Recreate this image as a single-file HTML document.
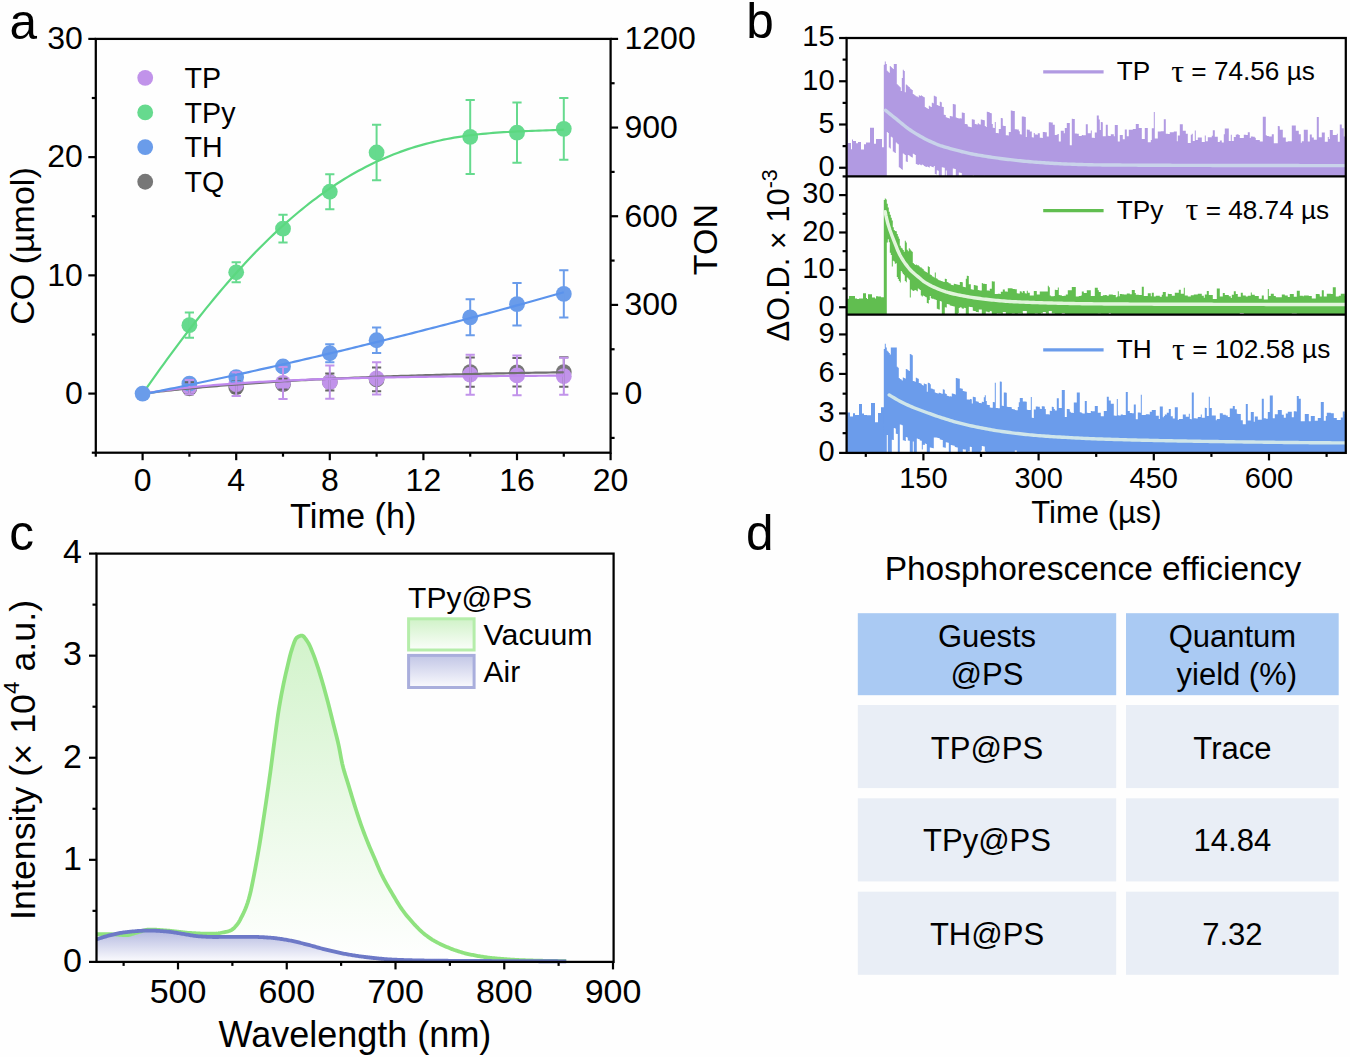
<!DOCTYPE html>
<html><head><meta charset="utf-8"><style>
html,body{margin:0;padding:0;background:#fefefe;}
svg{display:block;}
text{font-family:"Liberation Sans", sans-serif;fill:#000;}
</style></head><body>
<svg width="1350" height="1057" viewBox="0 0 1350 1057">
<rect width="1350" height="1057" fill="#fefefe"/>
<g id="pa">
<circle cx="189.4" cy="388.27" r="7.9" fill="#777777"/>
<circle cx="236.2" cy="387.08" r="7.9" fill="#777777"/>
<circle cx="283" cy="384.13" r="7.9" fill="#777777"/>
<circle cx="329.8" cy="382" r="7.9" fill="#777777"/>
<circle cx="376.6" cy="379.4" r="7.9" fill="#777777"/>
<circle cx="470.2" cy="372.07" r="7.9" fill="#777777"/>
<circle cx="517" cy="372.3" r="7.9" fill="#777777"/>
<circle cx="563.8" cy="372.07" r="7.9" fill="#777777"/>
<circle cx="189.4" cy="387.08" r="7.9" fill="#C193EA"/>
<circle cx="236.2" cy="384.13" r="7.9" fill="#C193EA"/>
<circle cx="283" cy="382.95" r="7.9" fill="#C193EA"/>
<circle cx="329.8" cy="382.12" r="7.9" fill="#C193EA"/>
<circle cx="376.6" cy="378.45" r="7.9" fill="#C193EA"/>
<circle cx="470.2" cy="374.67" r="7.9" fill="#C193EA"/>
<circle cx="517" cy="375.38" r="7.9" fill="#C193EA"/>
<circle cx="563.8" cy="376.21" r="7.9" fill="#C193EA"/>
<circle cx="189.4" cy="383.65" r="7.9" fill="#6A9CEA"/>
<circle cx="236.2" cy="377.03" r="7.9" fill="#6A9CEA"/>
<circle cx="283" cy="366.51" r="7.9" fill="#6A9CEA"/>
<circle cx="329.8" cy="353.27" r="7.9" fill="#6A9CEA"/>
<circle cx="376.6" cy="340.26" r="7.9" fill="#6A9CEA"/>
<circle cx="470.2" cy="317.33" r="7.9" fill="#6A9CEA"/>
<circle cx="517" cy="304.2" r="7.9" fill="#6A9CEA"/>
<circle cx="563.8" cy="293.92" r="7.9" fill="#6A9CEA"/>
<circle cx="189.4" cy="325.13" r="7.9" fill="#66DA8E"/>
<circle cx="236.2" cy="272.28" r="7.9" fill="#66DA8E"/>
<circle cx="283" cy="228.66" r="7.9" fill="#66DA8E"/>
<circle cx="329.8" cy="191.77" r="7.9" fill="#66DA8E"/>
<circle cx="376.6" cy="152.52" r="7.9" fill="#66DA8E"/>
<circle cx="470.2" cy="136.91" r="7.9" fill="#66DA8E"/>
<circle cx="517" cy="132.66" r="7.9" fill="#66DA8E"/>
<circle cx="563.8" cy="128.87" r="7.9" fill="#66DA8E"/>
<path d="M189.4,382.35 V394.18 M184.8,382.35 H194 M184.8,394.18 H194" stroke="#666" stroke-width="2" fill="none"/>
<path d="M236.2,381.17 V392.99 M231.6,381.17 H240.8 M231.6,392.99 H240.8" stroke="#666" stroke-width="2" fill="none"/>
<path d="M283,378.81 V389.45 M278.4,378.81 H287.6 M278.4,389.45 H287.6" stroke="#666" stroke-width="2" fill="none"/>
<path d="M329.8,373.49 V390.51 M325.2,373.49 H334.4 M325.2,390.51 H334.4" stroke="#666" stroke-width="2" fill="none"/>
<path d="M376.6,367.58 V391.22 M372,367.58 H381.2 M372,391.22 H381.2" stroke="#666" stroke-width="2" fill="none"/>
<path d="M470.2,357.41 V386.73 M465.6,357.41 H474.8 M465.6,386.73 H474.8" stroke="#666" stroke-width="2" fill="none"/>
<path d="M517,358.12 V386.49 M512.4,358.12 H521.6 M512.4,386.49 H521.6" stroke="#666" stroke-width="2" fill="none"/>
<path d="M563.8,357.29 V386.85 M559.2,357.29 H568.4 M559.2,386.85 H568.4" stroke="#666" stroke-width="2" fill="none"/>
<path d="M189.4,379.52 V387.79 M184.8,379.52 H194 M184.8,387.79 H194" stroke="#6A9CEA" stroke-width="2" fill="none"/>
<path d="M236.2,372.3 V381.76 M231.6,372.3 H240.8 M231.6,381.76 H240.8" stroke="#6A9CEA" stroke-width="2" fill="none"/>
<path d="M283,361.19 V371.83 M278.4,361.19 H287.6 M278.4,371.83 H287.6" stroke="#6A9CEA" stroke-width="2" fill="none"/>
<path d="M329.8,344.28 V362.26 M325.2,344.28 H334.4 M325.2,362.26 H334.4" stroke="#6A9CEA" stroke-width="2" fill="none"/>
<path d="M376.6,327.5 V353.03 M372,327.5 H381.2 M372,353.03 H381.2" stroke="#6A9CEA" stroke-width="2" fill="none"/>
<path d="M470.2,299.36 V335.3 M465.6,299.36 H474.8 M465.6,335.3 H474.8" stroke="#6A9CEA" stroke-width="2" fill="none"/>
<path d="M517,282.92 V325.49 M512.4,282.92 H521.6 M512.4,325.49 H521.6" stroke="#6A9CEA" stroke-width="2" fill="none"/>
<path d="M563.8,270.27 V317.56 M559.2,270.27 H568.4 M559.2,317.56 H568.4" stroke="#6A9CEA" stroke-width="2" fill="none"/>
<path d="M189.4,379.99 V394.18 M184.8,379.99 H194 M184.8,394.18 H194" stroke="#C193EA" stroke-width="2" fill="none"/>
<path d="M236.2,372.3 V395.95 M231.6,372.3 H240.8 M231.6,395.95 H240.8" stroke="#C193EA" stroke-width="2" fill="none"/>
<path d="M283,366.98 V398.91 M278.4,366.98 H287.6 M278.4,398.91 H287.6" stroke="#C193EA" stroke-width="2" fill="none"/>
<path d="M329.8,365.45 V398.79 M325.2,365.45 H334.4 M325.2,398.79 H334.4" stroke="#C193EA" stroke-width="2" fill="none"/>
<path d="M376.6,362.37 V394.53 M372,362.37 H381.2 M372,394.53 H381.2" stroke="#C193EA" stroke-width="2" fill="none"/>
<path d="M470.2,354.69 V394.65 M465.6,354.69 H474.8 M465.6,394.65 H474.8" stroke="#C193EA" stroke-width="2" fill="none"/>
<path d="M517,355.4 V395.36 M512.4,355.4 H521.6 M512.4,395.36 H521.6" stroke="#C193EA" stroke-width="2" fill="none"/>
<path d="M563.8,357.64 V394.77 M559.2,357.64 H568.4 M559.2,394.77 H568.4" stroke="#C193EA" stroke-width="2" fill="none"/>
<path d="M189.4,312.48 V337.78 M184.8,312.48 H194 M184.8,337.78 H194" stroke="#66DA8E" stroke-width="2" fill="none"/>
<path d="M236.2,262.23 V282.33 M231.6,262.23 H240.8 M231.6,282.33 H240.8" stroke="#66DA8E" stroke-width="2" fill="none"/>
<path d="M283,214.71 V242.61 M278.4,214.71 H287.6 M278.4,242.61 H287.6" stroke="#66DA8E" stroke-width="2" fill="none"/>
<path d="M329.8,174.27 V209.27 M325.2,174.27 H334.4 M325.2,209.27 H334.4" stroke="#66DA8E" stroke-width="2" fill="none"/>
<path d="M376.6,124.85 V180.18 M372,124.85 H381.2 M372,180.18 H381.2" stroke="#66DA8E" stroke-width="2" fill="none"/>
<path d="M470.2,99.91 V173.92 M465.6,99.91 H474.8 M465.6,173.92 H474.8" stroke="#66DA8E" stroke-width="2" fill="none"/>
<path d="M517,102.51 V162.8 M512.4,102.51 H521.6 M512.4,162.8 H521.6" stroke="#66DA8E" stroke-width="2" fill="none"/>
<path d="M563.8,97.9 V159.85 M559.2,97.9 H568.4 M559.2,159.85 H568.4" stroke="#66DA8E" stroke-width="2" fill="none"/>
<path d="M142.6,393.59 L146.14,393.16 L149.68,392.74 L153.22,392.33 L156.76,391.92 L160.3,391.52 L163.84,391.13 L167.38,390.75 L170.92,390.37 L174.46,390 L177.99,389.63 L181.53,389.28 L185.07,388.93 L188.61,388.58 L192.15,388.24 L195.69,387.91 L199.23,387.58 L202.77,387.26 L206.31,386.94 L209.85,386.63 L213.39,386.33 L216.93,386.03 L220.47,385.73 L224.01,385.45 L227.55,385.16 L231.09,384.88 L234.63,384.61 L238.17,384.34 L241.71,384.07 L245.25,383.81 L248.78,383.56 L252.32,383.31 L255.86,383.06 L259.4,382.82 L262.94,382.58 L266.48,382.35 L270.02,382.12 L273.56,381.9 L277.1,381.67 L280.64,381.46 L284.18,381.24 L287.72,381.03 L291.26,380.83 L294.8,380.62 L298.34,380.43 L301.88,380.23 L305.42,380.04 L308.96,379.85 L312.5,379.66 L316.04,379.48 L319.57,379.3 L323.11,379.13 L326.65,378.96 L330.19,378.79 L333.73,378.62 L337.27,378.46 L340.81,378.3 L344.35,378.14 L347.89,377.98 L351.43,377.83 L354.97,377.68 L358.51,377.53 L362.05,377.39 L365.59,377.25 L369.13,377.11 L372.67,376.97 L376.21,376.84 L379.75,376.71 L383.29,376.58 L386.83,376.45 L390.36,376.32 L393.9,376.2 L397.44,376.08 L400.98,375.96 L404.52,375.84 L408.06,375.73 L411.6,375.62 L415.14,375.51 L418.68,375.4 L422.22,375.29 L425.76,375.19 L429.3,375.08 L432.84,374.98 L436.38,374.88 L439.92,374.78 L443.46,374.69 L447,374.59 L450.54,374.5 L454.08,374.41 L457.62,374.32 L461.15,374.23 L464.69,374.15 L468.23,374.06 L471.77,373.98 L475.31,373.9 L478.85,373.82 L482.39,373.74 L485.93,373.66 L489.47,373.59 L493.01,373.51 L496.55,373.44 L500.09,373.37 L503.63,373.3 L507.17,373.23 L510.71,373.16 L514.25,373.09 L517.79,373.02 L521.33,372.96 L524.87,372.9 L528.41,372.83 L531.94,372.77 L535.48,372.71 L539.02,372.65 L542.56,372.59 L546.1,372.54 L549.64,372.48 L553.18,372.42 L556.72,372.37 L560.26,372.32 L563.8,372.26" fill="none" stroke="#707070" stroke-width="2.2" stroke-linejoin="round"/>
<path d="M142.6,393.59 L146.14,393.04 L149.68,392.5 L153.22,391.99 L156.76,391.48 L160.3,391 L163.84,390.52 L167.38,390.07 L170.92,389.62 L174.46,389.19 L177.99,388.77 L181.53,388.36 L185.07,387.97 L188.61,387.59 L192.15,387.22 L195.69,386.86 L199.23,386.51 L202.77,386.17 L206.31,385.84 L209.85,385.52 L213.39,385.21 L216.93,384.91 L220.47,384.62 L224.01,384.34 L227.55,384.07 L231.09,383.8 L234.63,383.54 L238.17,383.29 L241.71,383.05 L245.25,382.81 L248.78,382.58 L252.32,382.36 L255.86,382.15 L259.4,381.94 L262.94,381.74 L266.48,381.54 L270.02,381.35 L273.56,381.16 L277.1,380.98 L280.64,380.81 L284.18,380.64 L287.72,380.48 L291.26,380.32 L294.8,380.16 L298.34,380.01 L301.88,379.87 L305.42,379.73 L308.96,379.59 L312.5,379.46 L316.04,379.33 L319.57,379.21 L323.11,379.08 L326.65,378.97 L330.19,378.85 L333.73,378.74 L337.27,378.64 L340.81,378.53 L344.35,378.43 L347.89,378.33 L351.43,378.24 L354.97,378.15 L358.51,378.06 L362.05,377.97 L365.59,377.88 L369.13,377.8 L372.67,377.72 L376.21,377.65 L379.75,377.57 L383.29,377.5 L386.83,377.43 L390.36,377.36 L393.9,377.29 L397.44,377.23 L400.98,377.17 L404.52,377.11 L408.06,377.05 L411.6,376.99 L415.14,376.94 L418.68,376.88 L422.22,376.83 L425.76,376.78 L429.3,376.73 L432.84,376.69 L436.38,376.64 L439.92,376.59 L443.46,376.55 L447,376.51 L450.54,376.47 L454.08,376.43 L457.62,376.39 L461.15,376.35 L464.69,376.32 L468.23,376.28 L471.77,376.25 L475.31,376.22 L478.85,376.18 L482.39,376.15 L485.93,376.12 L489.47,376.09 L493.01,376.06 L496.55,376.04 L500.09,376.01 L503.63,375.98 L507.17,375.96 L510.71,375.94 L514.25,375.91 L517.79,375.89 L521.33,375.87 L524.87,375.84 L528.41,375.82 L531.94,375.8 L535.48,375.78 L539.02,375.76 L542.56,375.75 L546.1,375.73 L549.64,375.71 L553.18,375.69 L556.72,375.68 L560.26,375.66 L563.8,375.65" fill="none" stroke="#C089EE" stroke-width="2.2" stroke-linejoin="round"/>
<path d="M142.6,394.45 L146.14,393.74 L149.68,393.03 L153.22,392.32 L156.76,391.6 L160.3,390.88 L163.84,390.16 L167.38,389.43 L170.92,388.7 L174.46,387.97 L177.99,387.24 L181.53,386.51 L185.07,385.77 L188.61,385.03 L192.15,384.28 L195.69,383.54 L199.23,382.79 L202.77,382.04 L206.31,381.29 L209.85,380.53 L213.39,379.78 L216.93,379.02 L220.47,378.25 L224.01,377.49 L227.55,376.72 L231.09,375.95 L234.63,375.18 L238.17,374.4 L241.71,373.62 L245.25,372.84 L248.78,372.06 L252.32,371.27 L255.86,370.49 L259.4,369.69 L262.94,368.9 L266.48,368.11 L270.02,367.31 L273.56,366.51 L277.1,365.7 L280.64,364.9 L284.18,364.09 L287.72,363.28 L291.26,362.47 L294.8,361.65 L298.34,360.83 L301.88,360.01 L305.42,359.19 L308.96,358.36 L312.5,357.53 L316.04,356.7 L319.57,355.87 L323.11,355.03 L326.65,354.19 L330.19,353.35 L333.73,352.51 L337.27,351.66 L340.81,350.82 L344.35,349.96 L347.89,349.11 L351.43,348.25 L354.97,347.4 L358.51,346.53 L362.05,345.67 L365.59,344.8 L369.13,343.94 L372.67,343.06 L376.21,342.19 L379.75,341.31 L383.29,340.44 L386.83,339.55 L390.36,338.67 L393.9,337.78 L397.44,336.9 L400.98,336 L404.52,335.11 L408.06,334.21 L411.6,333.31 L415.14,332.41 L418.68,331.51 L422.22,330.6 L425.76,329.69 L429.3,328.78 L432.84,327.87 L436.38,326.95 L439.92,326.03 L443.46,325.11 L447,324.19 L450.54,323.26 L454.08,322.33 L457.62,321.4 L461.15,320.46 L464.69,319.53 L468.23,318.59 L471.77,317.65 L475.31,316.7 L478.85,315.75 L482.39,314.8 L485.93,313.85 L489.47,312.9 L493.01,311.94 L496.55,310.98 L500.09,310.02 L503.63,309.06 L507.17,308.09 L510.71,307.12 L514.25,306.15 L517.79,305.17 L521.33,304.19 L524.87,303.21 L528.41,302.23 L531.94,301.25 L535.48,300.26 L539.02,299.27 L542.56,298.28 L546.1,297.28 L549.64,296.29 L553.18,295.29 L556.72,294.28 L560.26,293.28 L563.8,292.27" fill="none" stroke="#5B93EC" stroke-width="2.2" stroke-linejoin="round"/>
<path d="M142.6,393.59 L146.14,388.55 L149.68,383.53 L153.22,378.55 L156.76,373.6 L160.3,368.68 L163.84,363.79 L167.38,358.94 L170.92,354.13 L174.46,349.35 L177.99,344.6 L181.53,339.9 L185.07,335.24 L188.61,330.62 L192.15,326.04 L195.69,321.51 L199.23,317.02 L202.77,312.57 L206.31,308.17 L209.85,303.82 L213.39,299.51 L216.93,295.26 L220.47,291.05 L224.01,286.9 L227.55,282.79 L231.09,278.74 L234.63,274.74 L238.17,270.79 L241.71,266.89 L245.25,263.05 L248.78,259.27 L252.32,255.54 L255.86,251.86 L259.4,248.25 L262.94,244.68 L266.48,241.18 L270.02,237.73 L273.56,234.34 L277.1,231.01 L280.64,227.74 L284.18,224.53 L287.72,221.38 L291.26,218.28 L294.8,215.25 L298.34,212.27 L301.88,209.36 L305.42,206.5 L308.96,203.7 L312.5,200.97 L316.04,198.29 L319.57,195.68 L323.11,193.12 L326.65,190.62 L330.19,188.19 L333.73,185.81 L337.27,183.49 L340.81,181.24 L344.35,179.04 L347.89,176.9 L351.43,174.82 L354.97,172.8 L358.51,170.83 L362.05,168.92 L365.59,167.07 L369.13,165.28 L372.67,163.54 L376.21,161.86 L379.75,160.24 L383.29,158.67 L386.83,157.15 L390.36,155.69 L393.9,154.28 L397.44,152.92 L400.98,151.61 L404.52,150.36 L408.06,149.16 L411.6,148 L415.14,146.9 L418.68,145.84 L422.22,144.83 L425.76,143.86 L429.3,142.94 L432.84,142.07 L436.38,141.24 L439.92,140.45 L443.46,139.7 L447,138.99 L450.54,138.32 L454.08,137.69 L457.62,137.1 L461.15,136.54 L464.69,136.02 L468.23,135.53 L471.77,135.08 L475.31,134.65 L478.85,134.25 L482.39,133.89 L485.93,133.55 L489.47,133.23 L493.01,132.94 L496.55,132.67 L500.09,132.42 L503.63,132.19 L507.17,131.98 L510.71,131.79 L514.25,131.61 L517.79,131.45 L521.33,131.29 L524.87,131.15 L528.41,131.01 L531.94,130.88 L535.48,130.76 L539.02,130.64 L542.56,130.52 L546.1,130.4 L549.64,130.27 L553.18,130.15 L556.72,130.01 L560.26,129.87 L563.8,129.71" fill="none" stroke="#5CD880" stroke-width="2.2" stroke-linejoin="round"/>
<circle cx="142.6" cy="393.59" r="7.9" fill="#6A9CEA"/>
<rect x="95.8" y="38.9" width="514.8" height="413.8" fill="none" stroke="#000" stroke-width="2.25"/>
<line x1="95.8" y1="452.7" x2="95.8" y2="456.7" stroke="#000" stroke-width="2.2"/>
<line x1="142.6" y1="452.7" x2="142.6" y2="460.2" stroke="#000" stroke-width="2.2"/>
<line x1="189.4" y1="452.7" x2="189.4" y2="456.7" stroke="#000" stroke-width="2.2"/>
<line x1="236.2" y1="452.7" x2="236.2" y2="460.2" stroke="#000" stroke-width="2.2"/>
<line x1="283" y1="452.7" x2="283" y2="456.7" stroke="#000" stroke-width="2.2"/>
<line x1="329.8" y1="452.7" x2="329.8" y2="460.2" stroke="#000" stroke-width="2.2"/>
<line x1="376.6" y1="452.7" x2="376.6" y2="456.7" stroke="#000" stroke-width="2.2"/>
<line x1="423.4" y1="452.7" x2="423.4" y2="460.2" stroke="#000" stroke-width="2.2"/>
<line x1="470.2" y1="452.7" x2="470.2" y2="456.7" stroke="#000" stroke-width="2.2"/>
<line x1="517" y1="452.7" x2="517" y2="460.2" stroke="#000" stroke-width="2.2"/>
<line x1="563.8" y1="452.7" x2="563.8" y2="456.7" stroke="#000" stroke-width="2.2"/>
<line x1="610.6" y1="452.7" x2="610.6" y2="460.2" stroke="#000" stroke-width="2.2"/>
<text x="142.6" y="490.8" font-size="32" text-anchor="middle">0</text>
<text x="236.2" y="490.8" font-size="32" text-anchor="middle">4</text>
<text x="329.8" y="490.8" font-size="32" text-anchor="middle">8</text>
<text x="423.4" y="490.8" font-size="32" text-anchor="middle">12</text>
<text x="517" y="490.8" font-size="32" text-anchor="middle">16</text>
<text x="610.6" y="490.8" font-size="32" text-anchor="middle">20</text>
<line x1="95.8" y1="452.7" x2="91.8" y2="452.7" stroke="#000" stroke-width="2.2"/>
<line x1="95.8" y1="393.59" x2="88.3" y2="393.59" stroke="#000" stroke-width="2.2"/>
<line x1="95.8" y1="334.47" x2="91.8" y2="334.47" stroke="#000" stroke-width="2.2"/>
<line x1="95.8" y1="275.36" x2="88.3" y2="275.36" stroke="#000" stroke-width="2.2"/>
<line x1="95.8" y1="216.24" x2="91.8" y2="216.24" stroke="#000" stroke-width="2.2"/>
<line x1="95.8" y1="157.13" x2="88.3" y2="157.13" stroke="#000" stroke-width="2.2"/>
<line x1="95.8" y1="98.01" x2="91.8" y2="98.01" stroke="#000" stroke-width="2.2"/>
<line x1="95.8" y1="38.9" x2="88.3" y2="38.9" stroke="#000" stroke-width="2.2"/>
<text x="82.9" y="403.89" font-size="32" text-anchor="end">0</text>
<text x="82.9" y="285.66" font-size="32" text-anchor="end">10</text>
<text x="82.9" y="167.43" font-size="32" text-anchor="end">20</text>
<text x="82.9" y="49.2" font-size="32" text-anchor="end">30</text>
<line x1="610.6" y1="437.92" x2="614.6" y2="437.92" stroke="#000" stroke-width="2.2"/>
<line x1="610.6" y1="393.59" x2="618.1" y2="393.59" stroke="#000" stroke-width="2.2"/>
<line x1="610.6" y1="349.25" x2="614.6" y2="349.25" stroke="#000" stroke-width="2.2"/>
<line x1="610.6" y1="304.91" x2="618.1" y2="304.91" stroke="#000" stroke-width="2.2"/>
<line x1="610.6" y1="260.58" x2="614.6" y2="260.58" stroke="#000" stroke-width="2.2"/>
<line x1="610.6" y1="216.24" x2="618.1" y2="216.24" stroke="#000" stroke-width="2.2"/>
<line x1="610.6" y1="171.91" x2="614.6" y2="171.91" stroke="#000" stroke-width="2.2"/>
<line x1="610.6" y1="127.57" x2="618.1" y2="127.57" stroke="#000" stroke-width="2.2"/>
<line x1="610.6" y1="83.24" x2="614.6" y2="83.24" stroke="#000" stroke-width="2.2"/>
<line x1="610.6" y1="38.9" x2="618.1" y2="38.9" stroke="#000" stroke-width="2.2"/>
<text x="624.5" y="403.89" font-size="32" text-anchor="start">0</text>
<text x="624.5" y="315.21" font-size="32" text-anchor="start">300</text>
<text x="624.5" y="226.54" font-size="32" text-anchor="start">600</text>
<text x="624.5" y="137.87" font-size="32" text-anchor="start">900</text>
<text x="624.5" y="49.2" font-size="32" text-anchor="start">1200</text>
<text x="290.1" y="528.1" font-size="34.3" text-anchor="start">Time (h)</text>
<text transform="translate(33.8,246) rotate(-90)" font-size="34" text-anchor="middle">CO (µmol)</text>
<text transform="translate(717.4,239.6) rotate(-90)" font-size="34" text-anchor="middle">TON</text>
<circle cx="145.2" cy="77.8" r="7.9" fill="#C193EA"/>
<text x="184.6" y="88.1" font-size="28.6" text-anchor="start">TP</text>
<circle cx="145.2" cy="112.45" r="7.9" fill="#66DA8E"/>
<text x="184.6" y="122.75" font-size="28.6" text-anchor="start">TPy</text>
<circle cx="145.2" cy="147.1" r="7.9" fill="#6A9CEA"/>
<text x="184.6" y="157.4" font-size="28.6" text-anchor="start">TH</text>
<circle cx="145.2" cy="181.75" r="7.9" fill="#777777"/>
<text x="184.6" y="192.05" font-size="28.6" text-anchor="start">TQ</text>
</g>
<text x="9.5" y="38.9" font-size="49.5" text-anchor="start">a</text>
<text x="746.2" y="38.1" font-size="49.5" text-anchor="start">b</text>
<text x="9.2" y="550.3" font-size="49.5" text-anchor="start">c</text>
<text x="746" y="550.2" font-size="49.5" text-anchor="start">d</text>
<defs>
<clipPath id="cb0"><rect x="846.6" y="38.0" width="499.2" height="138.4"/></clipPath>
<clipPath id="cb1"><rect x="846.6" y="176.4" width="499.2" height="138.3"/></clipPath>
<clipPath id="cb2"><rect x="846.6" y="314.7" width="499.2" height="138.2"/></clipPath>
</defs>
<g clip-path="url(#cb0)">
<path d="M846.0,137.9 L847.0,137.9 L847.0,128.7 L848.0,128.7 L848.0,142.9 L849.0,142.9 L849.0,142.9 L850.0,142.9 L850.0,142.9 L851.0,142.9 L851.0,149.2 L852.0,149.2 L852.0,139.4 L853.0,139.4 L853.0,141.0 L854.0,141.0 L854.0,141.0 L855.0,141.0 L855.0,141.0 L856.0,141.0 L856.0,143.2 L857.0,143.2 L857.0,143.2 L858.0,143.2 L858.0,142.1 L859.0,142.1 L859.0,142.1 L860.0,142.1 L860.0,142.1 L861.0,142.1 L861.0,149.4 L862.0,149.4 L862.0,149.4 L863.0,149.4 L863.0,149.4 L864.0,149.4 L864.0,144.3 L865.0,144.3 L865.0,144.3 L866.0,144.3 L866.0,142.5 L867.0,142.5 L867.0,142.5 L868.0,142.5 L868.0,142.5 L869.0,142.5 L869.0,142.5 L870.0,142.5 L870.0,127.7 L871.0,127.7 L871.0,127.7 L872.0,127.7 L872.0,127.7 L873.0,127.7 L873.0,127.7 L874.0,127.7 L874.0,143.7 L875.0,143.7 L875.0,143.7 L876.0,143.7 L876.0,139.0 L877.0,139.0 L877.0,139.0 L878.0,139.0 L878.0,138.9 L879.0,138.9 L879.0,138.9 L880.0,138.9 L880.0,138.9 L881.0,138.9 L881.0,138.9 L882.0,138.9 L882.0,147.2 L883.0,147.2 L883.0,147.2 L884.0,147.2 L884.0,204.3 L883.0,204.3 L883.0,204.3 L882.0,204.3 L882.0,227.0 L881.0,227.0 L881.0,227.0 L880.0,227.0 L880.0,202.0 L879.0,202.0 L879.0,202.0 L878.0,202.0 L878.0,202.0 L877.0,202.0 L877.0,220.5 L876.0,220.5 L876.0,220.5 L875.0,220.5 L875.0,216.3 L874.0,216.3 L874.0,216.3 L873.0,216.3 L873.0,216.3 L872.0,216.3 L872.0,216.3 L871.0,216.3 L871.0,238.5 L870.0,238.5 L870.0,238.5 L869.0,238.5 L869.0,210.7 L868.0,210.7 L868.0,210.7 L867.0,210.7 L867.0,210.7 L866.0,210.7 L866.0,232.8 L865.0,232.8 L865.0,232.8 L864.0,232.8 L864.0,203.0 L863.0,203.0 L863.0,203.0 L862.0,203.0 L862.0,203.0 L861.0,203.0 L861.0,203.0 L860.0,203.0 L860.0,218.5 L859.0,218.5 L859.0,217.7 L858.0,217.7 L858.0,217.7 L857.0,217.7 L857.0,211.2 L856.0,211.2 L856.0,208.3 L855.0,208.3 L855.0,208.3 L854.0,208.3 L854.0,208.3 L853.0,208.3 L853.0,208.3 L852.0,208.3 L852.0,206.6 L851.0,206.6 L851.0,206.6 L850.0,206.6 L850.0,206.6 L849.0,206.6 L849.0,203.0 L848.0,203.0 L848.0,203.0 L847.0,203.0 L847.0,203.0 L846.0,203.0 Z" fill="#B19AE2"/>
<path d="M883.8,64.8 L884.8,64.8 L884.8,61.4 L885.8,61.4 L885.8,64.0 L886.8,64.0 L886.8,70.8 L887.8,70.8 L887.8,71.8 L888.8,71.8 L888.8,72.8 L889.8,72.8 L889.8,65.9 L890.8,65.9 L890.8,66.9 L891.8,66.9 L891.8,68.0 L892.8,68.0 L892.8,69.0 L893.8,69.0 L893.8,64.0 L894.8,64.0 L894.8,64.0 L895.8,64.0 L895.8,64.0 L896.8,64.0 L896.8,84.3 L897.8,84.3 L897.8,85.3 L898.8,85.3 L898.8,86.3 L899.8,86.3 L899.8,87.3 L900.8,87.3 L900.8,91.1 L901.8,91.1 L901.8,78.1 L902.8,78.1 L902.8,69.8 L903.8,69.8 L903.8,70.9 L904.8,70.9 L904.8,92.2 L905.8,92.2 L905.8,84.4 L906.8,84.4 L906.8,85.3 L907.8,85.3 L907.8,86.2 L908.8,86.2 L908.8,87.1 L909.8,87.1 L909.8,88.4 L910.8,88.4 L910.8,89.2 L911.8,89.2 L911.8,90.0 L912.8,90.0 L912.8,94.0 L913.8,94.0 L913.8,94.8 L914.8,94.8 L914.8,95.5 L915.8,95.5 L915.8,96.3 L916.8,96.3 L916.8,96.6 L917.8,96.6 L917.8,97.3 L918.8,97.3 L918.8,95.3 L919.8,95.3 L919.8,96.0 L920.8,96.0 L920.8,95.3 L921.8,95.3 L921.8,96.0 L922.8,96.0 L922.8,96.7 L923.8,96.7 L923.8,97.3 L924.8,97.3 L924.8,107.1 L925.8,107.1 L925.8,107.7 L926.8,107.7 L926.8,108.3 L927.8,108.3 L927.8,109.1 L928.8,109.1 L928.8,105.8 L929.8,105.8 L929.8,106.4 L930.8,106.4 L930.8,107.0 L931.8,107.0 L931.8,102.7 L932.8,102.7 L932.8,103.2 L933.8,103.2 L933.8,95.7 L934.8,95.7 L934.8,96.3 L935.8,96.3 L935.8,96.8 L936.8,96.8 L936.8,105.0 L937.8,105.0 L937.8,105.4 L938.8,105.4 L938.8,105.9 L939.8,105.9 L939.8,101.8 L940.8,101.8 L940.8,102.3 L941.8,102.3 L941.8,106.7 L942.8,106.7 L942.8,107.1 L943.8,107.1 L943.8,114.7 L944.8,114.7 L944.8,115.1 L945.8,115.1 L945.8,117.3 L946.8,117.3 L946.8,117.7 L947.8,117.7 L947.8,118.0 L948.8,118.0 L948.8,118.4 L949.8,118.4 L949.8,115.9 L950.8,115.9 L950.8,116.2 L951.8,116.2 L951.8,116.6 L952.8,116.6 L952.8,103.9 L953.8,103.9 L953.8,104.3 L954.8,104.3 L954.8,104.6 L955.8,104.6 L955.8,117.6 L956.8,117.6 L956.8,118.0 L957.8,118.0 L957.8,118.3 L958.8,118.3 L958.8,118.6 L959.8,118.6 L959.8,118.3 L960.8,118.3 L960.8,118.6 L961.8,118.6 L961.8,112.4 L962.8,112.4 L962.8,112.7 L963.8,112.7 L963.8,113.0 L964.8,113.0 L964.8,123.9 L965.8,123.9 L965.8,124.1 L966.8,124.1 L966.8,124.4 L967.8,124.4 L967.8,126.5 L968.8,126.5 L968.8,126.7 L969.8,126.7 L969.8,127.0 L970.8,127.0 L970.8,127.2 L971.8,127.2 L971.8,119.2 L972.8,119.2 L972.8,119.5 L973.8,119.5 L973.8,119.7 L974.8,119.7 L974.8,124.0 L975.8,124.0 L975.8,124.2 L976.8,124.2 L976.8,124.4 L977.8,124.4 L977.8,123.2 L978.8,123.2 L978.8,124.3 L979.8,124.3 L979.8,124.5 L980.8,124.5 L980.8,119.6 L981.8,119.6 L981.8,119.8 L982.8,119.8 L982.8,120.0 L983.8,120.0 L983.8,120.2 L984.8,120.2 L984.8,126.0 L985.8,126.0 L985.8,127.1 L986.8,127.1 L986.8,111.8 L987.8,111.8 L987.8,112.0 L988.8,112.0 L988.8,112.2 L989.8,112.2 L989.8,113.0 L990.8,113.0 L990.8,113.2 L991.8,113.2 L991.8,124.0 L992.8,124.0 L992.8,127.8 L993.8,127.8 L993.8,128.0 L994.8,128.0 L994.8,122.1 L995.8,122.1 L995.8,132.9 L996.8,132.9 L996.8,133.1 L997.8,133.1 L997.8,133.3 L998.8,133.3 L998.8,129.0 L999.8,129.0 L999.8,129.1 L1000.8,129.1 L1000.8,118.1 L1001.8,118.1 L1001.8,118.2 L1002.8,118.2 L1002.8,125.8 L1003.8,125.8 L1003.8,126.0 L1004.8,126.0 L1004.8,126.1 L1005.8,126.1 L1005.8,135.2 L1006.8,135.2 L1006.8,135.3 L1007.8,135.3 L1007.8,135.5 L1008.8,135.5 L1008.8,131.9 L1009.8,131.9 L1009.8,132.0 L1010.8,132.0 L1010.8,110.6 L1011.8,110.6 L1011.8,110.8 L1012.8,110.8 L1012.8,111.0 L1013.8,111.0 L1013.8,111.1 L1014.8,111.1 L1014.8,129.2 L1015.8,129.2 L1015.8,129.3 L1016.8,129.3 L1016.8,129.5 L1017.8,129.5 L1017.8,129.6 L1018.8,129.6 L1018.8,131.3 L1019.8,131.3 L1019.8,134.2 L1020.8,134.2 L1020.8,134.4 L1021.8,134.4 L1021.8,116.5 L1022.8,116.5 L1022.8,116.6 L1023.8,116.6 L1023.8,116.8 L1024.8,116.8 L1024.8,116.9 L1025.8,116.9 L1025.8,137.0 L1026.8,137.0 L1026.8,129.6 L1027.8,129.6 L1027.8,129.7 L1028.8,129.7 L1028.8,129.8 L1029.8,129.8 L1029.8,131.4 L1030.8,131.4 L1030.8,131.5 L1031.8,131.5 L1031.8,137.3 L1032.8,137.3 L1032.8,137.4 L1033.8,137.4 L1033.8,133.1 L1034.8,133.1 L1034.8,134.5 L1035.8,134.5 L1035.8,134.6 L1036.8,134.6 L1036.8,134.7 L1037.8,134.7 L1037.8,133.2 L1038.8,133.2 L1038.8,133.3 L1039.8,133.3 L1039.8,137.7 L1040.8,137.7 L1040.8,137.8 L1041.8,137.8 L1041.8,137.9 L1042.8,137.9 L1042.8,132.0 L1043.8,132.0 L1043.8,132.1 L1044.8,132.1 L1044.8,132.2 L1045.8,132.2 L1045.8,132.3 L1046.8,132.3 L1046.8,136.4 L1047.8,136.4 L1047.8,136.5 L1048.8,136.5 L1048.8,122.3 L1049.8,122.3 L1049.8,122.3 L1050.8,122.3 L1050.8,122.4 L1051.8,122.4 L1051.8,122.5 L1052.8,122.5 L1052.8,124.8 L1053.8,124.8 L1053.8,124.8 L1054.8,124.8 L1054.8,135.0 L1055.8,135.0 L1055.8,135.1 L1056.8,135.1 L1056.8,134.4 L1057.8,134.4 L1057.8,134.0 L1058.8,134.0 L1058.8,141.5 L1059.8,141.5 L1059.8,141.5 L1060.8,141.5 L1060.8,130.7 L1061.8,130.7 L1061.8,130.7 L1062.8,130.7 L1062.8,130.8 L1063.8,130.8 L1063.8,133.2 L1064.8,133.2 L1064.8,127.9 L1065.8,127.9 L1065.8,128.0 L1066.8,128.0 L1066.8,123.0 L1067.8,123.0 L1067.8,123.1 L1068.8,123.1 L1068.8,123.1 L1069.8,123.1 L1069.8,145.2 L1070.8,145.2 L1070.8,145.2 L1071.8,145.2 L1071.8,118.8 L1072.8,118.8 L1072.8,118.9 L1073.8,118.9 L1073.8,118.9 L1074.8,118.9 L1074.8,133.6 L1075.8,133.6 L1075.8,133.6 L1076.8,133.6 L1076.8,133.7 L1077.8,133.7 L1077.8,133.7 L1078.8,133.7 L1078.8,136.0 L1079.8,136.0 L1079.8,136.0 L1080.8,136.0 L1080.8,136.0 L1081.8,136.0 L1081.8,135.1 L1082.8,135.1 L1082.8,135.2 L1083.8,135.2 L1083.8,135.2 L1084.8,135.2 L1084.8,135.2 L1085.8,135.2 L1085.8,124.3 L1086.8,124.3 L1086.8,124.3 L1087.8,124.3 L1087.8,133.3 L1088.8,133.3 L1088.8,133.3 L1089.8,133.3 L1089.8,133.3 L1090.8,133.3 L1090.8,130.6 L1091.8,130.6 L1091.8,137.8 L1092.8,137.8 L1092.8,137.8 L1093.8,137.8 L1093.8,137.9 L1094.8,137.9 L1094.8,132.4 L1095.8,132.4 L1095.8,132.5 L1096.8,132.5 L1096.8,115.4 L1097.8,115.4 L1097.8,115.4 L1098.8,115.4 L1098.8,119.6 L1099.8,119.6 L1099.8,129.9 L1100.8,129.9 L1100.8,122.1 L1101.8,122.1 L1101.8,122.2 L1102.8,122.2 L1102.8,136.2 L1103.8,136.2 L1103.8,136.3 L1104.8,136.3 L1104.8,136.3 L1105.8,136.3 L1105.8,124.7 L1106.8,124.7 L1106.8,124.7 L1107.8,124.7 L1107.8,135.8 L1108.8,135.8 L1108.8,135.9 L1109.8,135.9 L1109.8,135.9 L1110.8,135.9 L1110.8,134.3 L1111.8,134.3 L1111.8,134.3 L1112.8,134.3 L1112.8,134.3 L1113.8,134.3 L1113.8,136.3 L1114.8,136.3 L1114.8,125.0 L1115.8,125.0 L1115.8,125.0 L1116.8,125.0 L1116.8,125.0 L1117.8,125.0 L1117.8,141.5 L1118.8,141.5 L1118.8,141.5 L1119.8,141.5 L1119.8,135.0 L1120.8,135.0 L1120.8,135.0 L1121.8,135.0 L1121.8,135.0 L1122.8,135.0 L1122.8,139.3 L1123.8,139.3 L1123.8,139.3 L1124.8,139.3 L1124.8,129.5 L1125.8,129.5 L1125.8,129.5 L1126.8,129.5 L1126.8,136.3 L1127.8,136.3 L1127.8,136.3 L1128.8,136.3 L1128.8,129.7 L1129.8,129.7 L1129.8,129.7 L1130.8,129.7 L1130.8,129.7 L1131.8,129.7 L1131.8,129.7 L1132.8,129.7 L1132.8,129.0 L1133.8,129.0 L1133.8,129.0 L1134.8,129.0 L1134.8,129.0 L1135.8,129.0 L1135.8,123.9 L1136.8,123.9 L1136.8,123.9 L1137.8,123.9 L1137.8,123.9 L1138.8,123.9 L1138.8,128.0 L1139.8,128.0 L1139.8,128.0 L1140.8,128.0 L1140.8,128.1 L1141.8,128.1 L1141.8,139.1 L1142.8,139.1 L1142.8,139.1 L1143.8,139.1 L1143.8,139.1 L1144.8,139.1 L1144.8,127.9 L1145.8,127.9 L1145.8,127.9 L1146.8,127.9 L1146.8,127.9 L1147.8,127.9 L1147.8,142.3 L1148.8,142.3 L1148.8,142.3 L1149.8,142.3 L1149.8,142.3 L1150.8,142.3 L1150.8,139.9 L1151.8,139.9 L1151.8,128.3 L1152.8,128.3 L1152.8,128.3 L1153.8,128.3 L1153.8,112.1 L1154.8,112.1 L1154.8,138.4 L1155.8,138.4 L1155.8,138.4 L1156.8,138.4 L1156.8,138.4 L1157.8,138.4 L1157.8,131.4 L1158.8,131.4 L1158.8,131.4 L1159.8,131.4 L1159.8,131.4 L1160.8,131.4 L1160.8,131.2 L1161.8,131.2 L1161.8,131.3 L1162.8,131.3 L1162.8,131.3 L1163.8,131.3 L1163.8,119.3 L1164.8,119.3 L1164.8,119.3 L1165.8,119.3 L1165.8,133.7 L1166.8,133.7 L1166.8,133.7 L1167.8,133.7 L1167.8,134.1 L1168.8,134.1 L1168.8,134.1 L1169.8,134.1 L1169.8,132.3 L1170.8,132.3 L1170.8,132.3 L1171.8,132.3 L1171.8,132.3 L1172.8,132.3 L1172.8,132.3 L1173.8,132.3 L1173.8,131.6 L1174.8,131.6 L1174.8,131.6 L1175.8,131.6 L1175.8,131.6 L1176.8,131.6 L1176.8,141.3 L1177.8,141.3 L1177.8,135.4 L1178.8,135.4 L1178.8,135.4 L1179.8,135.4 L1179.8,124.3 L1180.8,124.3 L1180.8,124.3 L1181.8,124.3 L1181.8,124.3 L1182.8,124.3 L1182.8,130.7 L1183.8,130.7 L1183.8,130.7 L1184.8,130.7 L1184.8,130.7 L1185.8,130.7 L1185.8,133.7 L1186.8,133.7 L1186.8,133.7 L1187.8,133.7 L1187.8,142.9 L1188.8,142.9 L1188.8,142.9 L1189.8,142.9 L1189.8,142.9 L1190.8,142.9 L1190.8,134.8 L1191.8,134.8 L1191.8,133.7 L1192.8,133.7 L1192.8,141.1 L1193.8,141.1 L1193.8,141.1 L1194.8,141.1 L1194.8,130.5 L1195.8,130.5 L1195.8,139.9 L1196.8,139.9 L1196.8,139.9 L1197.8,139.9 L1197.8,137.4 L1198.8,137.4 L1198.8,137.4 L1199.8,137.4 L1199.8,137.4 L1200.8,137.4 L1200.8,137.4 L1201.8,137.4 L1201.8,142.0 L1202.8,142.0 L1202.8,142.0 L1203.8,142.0 L1203.8,142.0 L1204.8,142.0 L1204.8,135.4 L1205.8,135.4 L1205.8,141.3 L1206.8,141.3 L1206.8,141.3 L1207.8,141.3 L1207.8,137.2 L1208.8,137.2 L1208.8,137.2 L1209.8,137.2 L1209.8,137.2 L1210.8,137.2 L1210.8,137.2 L1211.8,137.2 L1211.8,135.8 L1212.8,135.8 L1212.8,130.3 L1213.8,130.3 L1213.8,130.3 L1214.8,130.3 L1214.8,136.7 L1215.8,136.7 L1215.8,136.7 L1216.8,136.7 L1216.8,136.7 L1217.8,136.7 L1217.8,142.1 L1218.8,142.1 L1218.8,142.1 L1219.8,142.1 L1219.8,140.6 L1220.8,140.6 L1220.8,140.6 L1221.8,140.6 L1221.8,142.5 L1222.8,142.5 L1222.8,142.5 L1223.8,142.5 L1223.8,134.2 L1224.8,134.2 L1224.8,128.4 L1225.8,128.4 L1225.8,128.4 L1226.8,128.4 L1226.8,128.4 L1227.8,128.4 L1227.8,128.5 L1228.8,128.5 L1228.8,141.1 L1229.8,141.1 L1229.8,141.1 L1230.8,141.1 L1230.8,134.7 L1231.8,134.7 L1231.8,141.0 L1232.8,141.0 L1232.8,141.0 L1233.8,141.0 L1233.8,137.1 L1234.8,137.1 L1234.8,137.1 L1235.8,137.1 L1235.8,134.8 L1236.8,134.8 L1236.8,134.3 L1237.8,134.3 L1237.8,134.4 L1238.8,134.4 L1238.8,135.0 L1239.8,135.0 L1239.8,138.1 L1240.8,138.1 L1240.8,138.1 L1241.8,138.1 L1241.8,138.1 L1242.8,138.1 L1242.8,138.1 L1243.8,138.1 L1243.8,134.8 L1244.8,134.8 L1244.8,134.8 L1245.8,134.8 L1245.8,134.9 L1246.8,134.9 L1246.8,134.9 L1247.8,134.9 L1247.8,132.2 L1248.8,132.2 L1248.8,132.2 L1249.8,132.2 L1249.8,137.9 L1250.8,137.9 L1250.8,136.5 L1251.8,136.5 L1251.8,136.5 L1252.8,136.5 L1252.8,136.7 L1253.8,136.7 L1253.8,136.7 L1254.8,136.7 L1254.8,137.7 L1255.8,137.7 L1255.8,139.9 L1256.8,139.9 L1256.8,139.9 L1257.8,139.9 L1257.8,139.9 L1258.8,139.9 L1258.8,139.9 L1259.8,139.9 L1259.8,141.4 L1260.8,141.4 L1260.8,141.4 L1261.8,141.4 L1261.8,141.4 L1262.8,141.4 L1262.8,116.7 L1263.8,116.7 L1263.8,116.7 L1264.8,116.7 L1264.8,116.7 L1265.8,116.7 L1265.8,135.3 L1266.8,135.3 L1266.8,135.9 L1267.8,135.9 L1267.8,135.9 L1268.8,135.9 L1268.8,136.5 L1269.8,136.5 L1269.8,136.5 L1270.8,136.5 L1270.8,136.5 L1271.8,136.5 L1271.8,134.3 L1272.8,134.3 L1272.8,134.3 L1273.8,134.3 L1273.8,143.3 L1274.8,143.3 L1274.8,143.3 L1275.8,143.3 L1275.8,143.3 L1276.8,143.3 L1276.8,143.3 L1277.8,143.3 L1277.8,126.1 L1278.8,126.1 L1278.8,126.2 L1279.8,126.2 L1279.8,129.8 L1280.8,129.8 L1280.8,129.8 L1281.8,129.8 L1281.8,129.8 L1282.8,129.8 L1282.8,137.5 L1283.8,137.5 L1283.8,137.5 L1284.8,137.5 L1284.8,137.5 L1285.8,137.5 L1285.8,141.8 L1286.8,141.8 L1286.8,141.8 L1287.8,141.8 L1287.8,141.2 L1288.8,141.2 L1288.8,141.2 L1289.8,141.2 L1289.8,141.2 L1290.8,141.2 L1290.8,141.2 L1291.8,141.2 L1291.8,125.5 L1292.8,125.5 L1292.8,125.5 L1293.8,125.5 L1293.8,125.5 L1294.8,125.5 L1294.8,125.5 L1295.8,125.5 L1295.8,130.8 L1296.8,130.8 L1296.8,130.8 L1297.8,130.8 L1297.8,130.8 L1298.8,130.8 L1298.8,134.3 L1299.8,134.3 L1299.8,134.3 L1300.8,134.3 L1300.8,142.7 L1301.8,142.7 L1301.8,141.2 L1302.8,141.2 L1302.8,141.2 L1303.8,141.2 L1303.8,129.8 L1304.8,129.8 L1304.8,129.8 L1305.8,129.8 L1305.8,129.8 L1306.8,129.8 L1306.8,129.8 L1307.8,129.8 L1307.8,141.4 L1308.8,141.4 L1308.8,141.4 L1309.8,141.4 L1309.8,134.6 L1310.8,134.6 L1310.8,134.6 L1311.8,134.6 L1311.8,137.5 L1312.8,137.5 L1312.8,137.5 L1313.8,137.5 L1313.8,139.8 L1314.8,139.8 L1314.8,139.8 L1315.8,139.8 L1315.8,139.8 L1316.8,139.8 L1316.8,116.9 L1317.8,116.9 L1317.8,116.9 L1318.8,116.9 L1318.8,137.3 L1319.8,137.3 L1319.8,137.3 L1320.8,137.3 L1320.8,137.3 L1321.8,137.3 L1321.8,132.6 L1322.8,132.6 L1322.8,132.6 L1323.8,132.6 L1323.8,132.6 L1324.8,132.6 L1324.8,141.8 L1325.8,141.8 L1325.8,141.8 L1326.8,141.8 L1326.8,141.8 L1327.8,141.8 L1327.8,137.1 L1328.8,137.1 L1328.8,139.0 L1329.8,139.0 L1329.8,130.0 L1330.8,130.0 L1330.8,130.0 L1331.8,130.0 L1331.8,130.0 L1332.8,130.0 L1332.8,134.9 L1333.8,134.9 L1333.8,134.9 L1334.8,134.9 L1334.8,134.9 L1335.8,134.9 L1335.8,134.9 L1336.8,134.9 L1336.8,133.8 L1337.8,133.8 L1337.8,141.8 L1338.8,141.8 L1338.8,141.8 L1339.8,141.8 L1339.8,124.6 L1340.8,124.6 L1340.8,124.6 L1341.8,124.6 L1341.8,128.2 L1342.8,128.2 L1342.8,128.2 L1343.8,128.2 L1343.8,136.4 L1344.8,136.4 L1344.8,136.4 L1345.8,136.4 L1345.8,136.4 L1346.8,136.4 L1346.8,186.9 L1345.8,186.9 L1345.8,190.4 L1344.8,190.4 L1344.8,190.4 L1343.8,190.4 L1343.8,190.4 L1342.8,190.4 L1342.8,190.4 L1341.8,190.4 L1341.8,192.0 L1340.8,192.0 L1340.8,192.0 L1339.8,192.0 L1339.8,192.0 L1338.8,192.0 L1338.8,191.7 L1337.8,191.7 L1337.8,191.7 L1336.8,191.7 L1336.8,185.7 L1335.8,185.7 L1335.8,185.7 L1334.8,185.7 L1334.8,185.7 L1333.8,185.7 L1333.8,203.2 L1332.8,203.2 L1332.8,203.2 L1331.8,203.2 L1331.8,186.1 L1330.8,186.1 L1330.8,186.1 L1329.8,186.1 L1329.8,186.1 L1328.8,186.1 L1328.8,186.1 L1327.8,186.1 L1327.8,188.1 L1326.8,188.1 L1326.8,188.1 L1325.8,188.1 L1325.8,201.0 L1324.8,201.0 L1324.8,201.0 L1323.8,201.0 L1323.8,201.0 L1322.8,201.0 L1322.8,201.0 L1321.8,201.0 L1321.8,201.0 L1320.8,201.0 L1320.8,199.9 L1319.8,199.9 L1319.8,188.5 L1318.8,188.5 L1318.8,188.5 L1317.8,188.5 L1317.8,197.5 L1316.8,197.5 L1316.8,197.5 L1315.8,197.5 L1315.8,197.5 L1314.8,197.5 L1314.8,188.2 L1313.8,188.2 L1313.8,185.6 L1312.8,185.6 L1312.8,185.6 L1311.8,185.6 L1311.8,185.6 L1310.8,185.6 L1310.8,193.6 L1309.8,193.6 L1309.8,193.6 L1308.8,193.6 L1308.8,193.6 L1307.8,193.6 L1307.8,193.6 L1306.8,193.6 L1306.8,191.9 L1305.8,191.9 L1305.8,191.9 L1304.8,191.9 L1304.8,191.9 L1303.8,191.9 L1303.8,190.4 L1302.8,190.4 L1302.8,190.4 L1301.8,190.4 L1301.8,190.4 L1300.8,190.4 L1300.8,191.2 L1299.8,191.2 L1299.8,191.2 L1298.8,191.2 L1298.8,184.1 L1297.8,184.1 L1297.8,184.1 L1296.8,184.1 L1296.8,189.1 L1295.8,189.1 L1295.8,189.1 L1294.8,189.1 L1294.8,189.1 L1293.8,189.1 L1293.8,189.1 L1292.8,189.1 L1292.8,191.5 L1291.8,191.5 L1291.8,191.5 L1290.8,191.5 L1290.8,191.5 L1289.8,191.5 L1289.8,187.9 L1288.8,187.9 L1288.8,187.9 L1287.8,187.9 L1287.8,208.9 L1286.8,208.9 L1286.8,208.9 L1285.8,208.9 L1285.8,189.0 L1284.8,189.0 L1284.8,189.0 L1283.8,189.0 L1283.8,189.0 L1282.8,189.0 L1282.8,189.0 L1281.8,189.0 L1281.8,187.2 L1280.8,187.2 L1280.8,187.1 L1279.8,187.1 L1279.8,187.1 L1278.8,187.1 L1278.8,187.1 L1277.8,187.1 L1277.8,185.7 L1276.8,185.7 L1276.8,185.7 L1275.8,185.7 L1275.8,185.7 L1274.8,185.7 L1274.8,191.0 L1273.8,191.0 L1273.8,207.8 L1272.8,207.8 L1272.8,207.8 L1271.8,207.8 L1271.8,200.7 L1270.8,200.7 L1270.8,200.7 L1269.8,200.7 L1269.8,200.7 L1268.8,200.7 L1268.8,193.3 L1267.8,193.3 L1267.8,193.3 L1266.8,193.3 L1266.8,193.4 L1265.8,193.4 L1265.8,193.4 L1264.8,193.4 L1264.8,193.4 L1263.8,193.4 L1263.8,196.8 L1262.8,196.8 L1262.8,190.4 L1261.8,190.4 L1261.8,190.4 L1260.8,190.4 L1260.8,179.9 L1259.8,179.9 L1259.8,179.9 L1258.8,179.9 L1258.8,188.6 L1257.8,188.6 L1257.8,188.6 L1256.8,188.6 L1256.8,188.6 L1255.8,188.6 L1255.8,190.2 L1254.8,190.2 L1254.8,190.2 L1253.8,190.2 L1253.8,190.2 L1252.8,190.2 L1252.8,190.2 L1251.8,190.2 L1251.8,195.7 L1250.8,195.7 L1250.8,195.7 L1249.8,195.7 L1249.8,195.7 L1248.8,195.7 L1248.8,191.5 L1247.8,191.5 L1247.8,191.5 L1246.8,191.5 L1246.8,191.5 L1245.8,191.5 L1245.8,201.8 L1244.8,201.8 L1244.8,201.8 L1243.8,201.8 L1243.8,188.7 L1242.8,188.7 L1242.8,188.7 L1241.8,188.7 L1241.8,187.3 L1240.8,187.3 L1240.8,187.3 L1239.8,187.3 L1239.8,187.3 L1238.8,187.3 L1238.8,187.3 L1237.8,187.3 L1237.8,193.6 L1236.8,193.6 L1236.8,193.6 L1235.8,193.6 L1235.8,204.8 L1234.8,204.8 L1234.8,204.8 L1233.8,204.8 L1233.8,204.8 L1232.8,204.8 L1232.8,204.8 L1231.8,204.8 L1231.8,194.0 L1230.8,194.0 L1230.8,194.0 L1229.8,194.0 L1229.8,194.0 L1228.8,194.0 L1228.8,197.9 L1227.8,197.9 L1227.8,197.9 L1226.8,197.9 L1226.8,188.7 L1225.8,188.7 L1225.8,188.7 L1224.8,188.7 L1224.8,188.7 L1223.8,188.7 L1223.8,196.8 L1222.8,196.8 L1222.8,196.8 L1221.8,196.8 L1221.8,196.8 L1220.8,196.8 L1220.8,196.8 L1219.8,196.8 L1219.8,189.9 L1218.8,189.9 L1218.8,189.9 L1217.8,189.9 L1217.8,189.9 L1216.8,189.9 L1216.8,189.9 L1215.8,189.9 L1215.8,190.9 L1214.8,190.9 L1214.8,190.9 L1213.8,190.9 L1213.8,190.9 L1212.8,190.9 L1212.8,190.9 L1211.8,190.9 L1211.8,193.7 L1210.8,193.7 L1210.8,193.7 L1209.8,193.7 L1209.8,187.6 L1208.8,187.6 L1208.8,187.6 L1207.8,187.6 L1207.8,188.0 L1206.8,188.0 L1206.8,188.0 L1205.8,188.0 L1205.8,188.0 L1204.8,188.0 L1204.8,197.3 L1203.8,197.3 L1203.8,197.3 L1202.8,197.3 L1202.8,197.3 L1201.8,197.3 L1201.8,194.0 L1200.8,194.0 L1200.8,194.0 L1199.8,194.0 L1199.8,194.7 L1198.8,194.7 L1198.8,187.8 L1197.8,187.8 L1197.8,187.8 L1196.8,187.8 L1196.8,187.8 L1195.8,187.8 L1195.8,187.8 L1194.8,187.8 L1194.8,189.8 L1193.8,189.8 L1193.8,188.4 L1192.8,188.4 L1192.8,188.4 L1191.8,188.4 L1191.8,188.8 L1190.8,188.8 L1190.8,195.8 L1189.8,195.8 L1189.8,202.5 L1188.8,202.5 L1188.8,189.2 L1187.8,189.2 L1187.8,189.2 L1186.8,189.2 L1186.8,189.2 L1185.8,189.2 L1185.8,192.4 L1184.8,192.4 L1184.8,192.4 L1183.8,192.4 L1183.8,192.4 L1182.8,192.4 L1182.8,185.6 L1181.8,185.6 L1181.8,185.6 L1180.8,185.6 L1180.8,185.6 L1179.8,185.6 L1179.8,193.8 L1178.8,193.8 L1178.8,193.3 L1177.8,193.3 L1177.8,193.3 L1176.8,193.3 L1176.8,193.3 L1175.8,193.3 L1175.8,193.3 L1174.8,193.3 L1174.8,192.3 L1173.8,192.3 L1173.8,192.3 L1172.8,192.3 L1172.8,191.2 L1171.8,191.2 L1171.8,191.2 L1170.8,191.2 L1170.8,191.2 L1169.8,191.2 L1169.8,191.2 L1168.8,191.2 L1168.8,195.7 L1167.8,195.7 L1167.8,195.6 L1166.8,195.6 L1166.8,195.6 L1165.8,195.6 L1165.8,195.6 L1164.8,195.6 L1164.8,189.5 L1163.8,189.5 L1163.8,189.5 L1162.8,189.5 L1162.8,202.3 L1161.8,202.3 L1161.8,202.3 L1160.8,202.3 L1160.8,208.2 L1159.8,208.2 L1159.8,208.2 L1158.8,208.2 L1158.8,208.2 L1157.8,208.2 L1157.8,208.2 L1156.8,208.2 L1156.8,179.2 L1155.8,179.2 L1155.8,179.2 L1154.8,179.2 L1154.8,197.5 L1153.8,197.5 L1153.8,197.5 L1152.8,197.5 L1152.8,196.9 L1151.8,196.9 L1151.8,196.8 L1150.8,196.8 L1150.8,196.8 L1149.8,196.8 L1149.8,189.4 L1148.8,189.4 L1148.8,188.8 L1147.8,188.8 L1147.8,188.8 L1146.8,188.8 L1146.8,188.1 L1145.8,188.1 L1145.8,188.1 L1144.8,188.1 L1144.8,188.1 L1143.8,188.1 L1143.8,188.1 L1142.8,188.1 L1142.8,190.6 L1141.8,190.6 L1141.8,190.6 L1140.8,190.6 L1140.8,190.6 L1139.8,190.6 L1139.8,190.6 L1138.8,190.6 L1138.8,187.1 L1137.8,187.1 L1137.8,187.1 L1136.8,187.1 L1136.8,194.6 L1135.8,194.6 L1135.8,194.6 L1134.8,194.6 L1134.8,185.9 L1133.8,185.9 L1133.8,185.9 L1132.8,185.9 L1132.8,185.9 L1131.8,185.9 L1131.8,189.5 L1130.8,189.5 L1130.8,187.7 L1129.8,187.7 L1129.8,187.7 L1128.8,187.7 L1128.8,190.5 L1127.8,190.5 L1127.8,190.5 L1126.8,190.5 L1126.8,190.5 L1125.8,190.5 L1125.8,192.3 L1124.8,192.3 L1124.8,192.3 L1123.8,192.3 L1123.8,183.3 L1122.8,183.3 L1122.8,208.1 L1121.8,208.1 L1121.8,208.1 L1120.8,208.1 L1120.8,188.1 L1119.8,188.1 L1119.8,188.1 L1118.8,188.1 L1118.8,209.6 L1117.8,209.6 L1117.8,209.6 L1116.8,209.6 L1116.8,202.6 L1115.8,202.6 L1115.8,202.6 L1114.8,202.6 L1114.8,192.8 L1113.8,192.8 L1113.8,192.8 L1112.8,192.8 L1112.8,192.9 L1111.8,192.9 L1111.8,192.9 L1110.8,192.9 L1110.8,192.9 L1109.8,192.9 L1109.8,186.5 L1108.8,186.5 L1108.8,186.5 L1107.8,186.5 L1107.8,186.5 L1106.8,186.5 L1106.8,185.0 L1105.8,185.0 L1105.8,185.0 L1104.8,185.0 L1104.8,185.0 L1103.8,185.0 L1103.8,192.4 L1102.8,192.4 L1102.8,193.0 L1101.8,193.0 L1101.8,193.0 L1100.8,193.0 L1100.8,193.0 L1099.8,193.0 L1099.8,189.0 L1098.8,189.0 L1098.8,189.0 L1097.8,189.0 L1097.8,188.1 L1096.8,188.1 L1096.8,188.1 L1095.8,188.1 L1095.8,188.1 L1094.8,188.1 L1094.8,188.1 L1093.8,188.1 L1093.8,185.8 L1092.8,185.8 L1092.8,185.8 L1091.8,185.8 L1091.8,185.8 L1090.8,185.8 L1090.8,195.2 L1089.8,195.2 L1089.8,195.2 L1088.8,195.2 L1088.8,195.2 L1087.8,195.2 L1087.8,203.3 L1086.8,203.3 L1086.8,203.2 L1085.8,203.2 L1085.8,203.2 L1084.8,203.2 L1084.8,195.2 L1083.8,195.2 L1083.8,196.5 L1082.8,196.5 L1082.8,196.4 L1081.8,196.4 L1081.8,189.5 L1080.8,189.5 L1080.8,189.4 L1079.8,189.4 L1079.8,189.4 L1078.8,189.4 L1078.8,190.9 L1077.8,190.9 L1077.8,190.9 L1076.8,190.9 L1076.8,190.9 L1075.8,190.9 L1075.8,190.8 L1074.8,190.8 L1074.8,190.4 L1073.8,190.4 L1073.8,190.4 L1072.8,190.4 L1072.8,190.4 L1071.8,190.4 L1071.8,187.7 L1070.8,187.7 L1070.8,187.7 L1069.8,187.7 L1069.8,187.6 L1068.8,187.6 L1068.8,187.9 L1067.8,187.9 L1067.8,187.9 L1066.8,187.9 L1066.8,197.9 L1065.8,197.9 L1065.8,197.9 L1064.8,197.9 L1064.8,197.8 L1063.8,197.8 L1063.8,197.8 L1062.8,197.8 L1062.8,202.7 L1061.8,202.7 L1061.8,202.6 L1060.8,202.6 L1060.8,190.4 L1059.8,190.4 L1059.8,190.3 L1058.8,190.3 L1058.8,190.3 L1057.8,190.3 L1057.8,184.6 L1056.8,184.6 L1056.8,184.5 L1055.8,184.5 L1055.8,184.5 L1054.8,184.5 L1054.8,190.3 L1053.8,190.3 L1053.8,190.2 L1052.8,190.2 L1052.8,190.2 L1051.8,190.2 L1051.8,184.2 L1050.8,184.2 L1050.8,190.4 L1049.8,190.4 L1049.8,190.4 L1048.8,190.4 L1048.8,190.3 L1047.8,190.3 L1047.8,189.8 L1046.8,189.8 L1046.8,201.3 L1045.8,201.3 L1045.8,187.0 L1044.8,187.0 L1044.8,186.9 L1043.8,186.9 L1043.8,186.8 L1042.8,186.8 L1042.8,186.8 L1041.8,186.8 L1041.8,185.6 L1040.8,185.6 L1040.8,187.9 L1039.8,187.9 L1039.8,189.7 L1038.8,189.7 L1038.8,187.5 L1037.8,187.5 L1037.8,187.5 L1036.8,187.5 L1036.8,189.3 L1035.8,189.3 L1035.8,189.2 L1034.8,189.2 L1034.8,182.8 L1033.8,182.8 L1033.8,182.8 L1032.8,182.8 L1032.8,182.7 L1031.8,182.7 L1031.8,185.2 L1030.8,185.2 L1030.8,185.1 L1029.8,185.1 L1029.8,185.0 L1028.8,185.0 L1028.8,184.9 L1027.8,184.9 L1027.8,184.4 L1026.8,184.4 L1026.8,184.3 L1025.8,184.3 L1025.8,184.2 L1024.8,184.2 L1024.8,186.1 L1023.8,186.1 L1023.8,186.0 L1022.8,186.0 L1022.8,185.9 L1021.8,185.9 L1021.8,185.8 L1020.8,185.8 L1020.8,187.7 L1019.8,187.7 L1019.8,187.6 L1018.8,187.6 L1018.8,187.5 L1017.8,187.5 L1017.8,187.4 L1016.8,187.4 L1016.8,197.9 L1015.8,197.9 L1015.8,197.8 L1014.8,197.8 L1014.8,195.5 L1013.8,195.5 L1013.8,195.4 L1012.8,195.4 L1012.8,195.3 L1011.8,195.3 L1011.8,189.3 L1010.8,189.3 L1010.8,189.2 L1009.8,189.2 L1009.8,189.1 L1008.8,189.1 L1008.8,188.9 L1007.8,188.9 L1007.8,185.0 L1006.8,185.0 L1006.8,184.9 L1005.8,184.9 L1005.8,184.8 L1004.8,184.8 L1004.8,184.2 L1003.8,184.2 L1003.8,184.0 L1002.8,184.0 L1002.8,188.1 L1001.8,188.1 L1001.8,188.0 L1000.8,188.0 L1000.8,187.9 L999.8,187.9 L999.8,190.0 L998.8,190.0 L998.8,189.9 L997.8,189.9 L997.8,189.8 L996.8,189.8 L996.8,181.3 L995.8,181.3 L995.8,181.2 L994.8,181.2 L994.8,178.6 L993.8,178.6 L993.8,178.4 L992.8,178.4 L992.8,178.3 L991.8,178.3 L991.8,182.7 L990.8,182.7 L990.8,182.5 L989.8,182.5 L989.8,182.4 L988.8,182.4 L988.8,182.2 L987.8,182.2 L987.8,178.2 L986.8,178.2 L986.8,178.1 L985.8,178.1 L985.8,177.9 L984.8,177.9 L984.8,175.8 L983.8,175.8 L983.8,179.3 L982.8,179.3 L982.8,179.1 L981.8,179.1 L981.8,185.9 L980.8,185.9 L980.8,185.7 L979.8,185.7 L979.8,177.2 L978.8,177.2 L978.8,177.0 L977.8,177.0 L977.8,176.8 L976.8,176.8 L976.8,179.0 L975.8,179.0 L975.8,178.8 L974.8,178.8 L974.8,178.6 L973.8,178.6 L973.8,175.0 L972.8,175.0 L972.8,187.1 L971.8,187.1 L971.8,186.9 L970.8,186.9 L970.8,188.6 L969.8,188.6 L969.8,188.4 L968.8,188.4 L968.8,188.2 L967.8,188.2 L967.8,191.7 L966.8,191.7 L966.8,191.5 L965.8,191.5 L965.8,191.2 L964.8,191.2 L964.8,188.2 L963.8,188.2 L963.8,178.0 L962.8,178.0 L962.8,177.7 L961.8,177.7 L961.8,173.1 L960.8,173.1 L960.8,172.8 L959.8,172.8 L959.8,172.6 L958.8,172.6 L958.8,185.5 L957.8,185.5 L957.8,185.2 L956.8,185.2 L956.8,184.9 L955.8,184.9 L955.8,169.0 L954.8,169.0 L954.8,168.7 L953.8,168.7 L953.8,168.5 L952.8,168.5 L952.8,186.9 L951.8,186.9 L951.8,186.6 L950.8,186.6 L950.8,186.3 L949.8,186.3 L949.8,181.4 L948.8,181.4 L948.8,181.1 L947.8,181.1 L947.8,180.9 L946.8,180.9 L946.8,170.5 L945.8,170.5 L945.8,177.2 L944.8,177.2 L944.8,167.8 L943.8,167.8 L943.8,167.5 L942.8,167.5 L942.8,167.2 L941.8,167.2 L941.8,191.2 L940.8,191.2 L940.8,190.8 L939.8,190.8 L939.8,190.5 L938.8,190.5 L938.8,170.7 L937.8,170.7 L937.8,170.3 L936.8,170.3 L936.8,174.4 L935.8,174.4 L935.8,174.0 L934.8,174.0 L934.8,166.1 L933.8,166.1 L933.8,167.3 L932.8,167.3 L932.8,166.9 L931.8,166.9 L931.8,166.4 L930.8,166.4 L930.8,166.0 L929.8,166.0 L929.8,167.4 L928.8,167.4 L928.8,166.9 L927.8,166.9 L927.8,166.4 L926.8,166.4 L926.8,166.9 L925.8,166.9 L925.8,166.4 L924.8,166.4 L924.8,165.9 L923.8,165.9 L923.8,165.1 L922.8,165.1 L922.8,164.5 L921.8,164.5 L921.8,165.3 L920.8,165.3 L920.8,164.8 L919.8,164.8 L919.8,164.2 L918.8,164.2 L918.8,165.1 L917.8,165.1 L917.8,164.5 L916.8,164.5 L916.8,163.9 L915.8,163.9 L915.8,154.9 L914.8,154.9 L914.8,154.3 L913.8,154.3 L913.8,153.7 L912.8,153.7 L912.8,157.6 L911.8,157.6 L911.8,157.0 L910.8,157.0 L910.8,156.3 L909.8,156.3 L909.8,155.6 L908.8,155.6 L908.8,154.9 L907.8,154.9 L907.8,162.1 L906.8,162.1 L906.8,161.4 L905.8,161.4 L905.8,155.1 L904.8,155.1 L904.8,154.3 L903.8,154.3 L903.8,153.5 L902.8,153.5 L902.8,169.7 L901.8,169.7 L901.8,168.9 L900.8,168.9 L900.8,168.0 L899.8,168.0 L899.8,167.2 L898.8,167.2 L898.8,144.3 L897.8,144.3 L897.8,143.5 L896.8,143.5 L896.8,142.6 L895.8,142.6 L895.8,153.0 L894.8,153.0 L894.8,152.2 L893.8,152.2 L893.8,151.4 L892.8,151.4 L892.8,137.5 L891.8,137.5 L891.8,136.7 L890.8,136.7 L890.8,148.4 L889.8,148.4 L889.8,147.6 L888.8,147.6 L888.8,132.9 L887.8,132.9 L887.8,132.1 L886.8,132.1 L886.8,193.7 L885.8,193.7 L885.8,193.7 L884.8,193.7 L884.8,193.7 L883.8,193.7 Z" fill="#B19AE2"/>
<path d="M885.5,110.25 L886.2,110.82 L888.2,112.45 L890.2,114.08 L892.2,115.7 L894.2,117.32 L896.2,118.94 L898.2,120.59 L900.2,122.26 L902.2,123.92 L904.2,125.55 L906.2,127.12 L908.2,128.61 L910.2,130.01 L912.2,131.35 L914.2,132.64 L916.2,133.88 L918.2,135.08 L920.2,136.23 L922.2,137.34 L924.2,138.4 L926.2,139.42 L928.2,140.41 L930.2,141.38 L932.2,142.3 L934.2,143.18 L936.2,144.02 L938.2,144.8 L940.2,145.52 L942.2,146.19 L944.2,146.82 L946.2,147.41 L948.2,147.99 L950.2,148.54 L952.2,149.09 L954.2,149.63 L956.2,150.17 L958.2,150.7 L960.2,151.22 L962.2,151.73 L964.2,152.22 L966.2,152.69 L968.2,153.15 L970.2,153.58 L972.2,153.98 L974.2,154.36 L976.2,154.71 L978.2,155.06 L980.2,155.4 L982.2,155.73 L984.2,156.06 L986.2,156.39 L988.2,156.7 L990.2,157.01 L992.2,157.32 L994.2,157.61 L996.2,157.9 L998.2,158.18 L1000.2,158.45 L1002.2,158.71 L1004.2,158.97 L1006.2,159.21 L1008.2,159.45 L1010.2,159.68 L1012.2,159.91 L1014.2,160.14 L1016.2,160.36 L1018.2,160.57 L1020.2,160.78 L1022.2,160.99 L1024.2,161.19 L1026.2,161.38 L1028.2,161.56 L1030.2,161.74 L1032.2,161.91 L1034.2,162.07 L1036.2,162.23 L1038.2,162.37 L1040.2,162.52 L1042.2,162.66 L1044.2,162.8 L1046.2,162.93 L1048.2,163.06 L1050.2,163.19 L1052.2,163.31 L1054.2,163.43 L1056.2,163.54 L1058.2,163.65 L1060.2,163.75 L1062.2,163.85 L1064.2,163.93 L1066.2,164.02 L1068.2,164.09 L1070.2,164.16 L1072.2,164.23 L1074.2,164.3 L1076.2,164.37 L1078.2,164.43 L1080.2,164.49 L1082.2,164.55 L1084.2,164.61 L1086.2,164.66 L1088.2,164.71 L1090.2,164.75 L1092.2,164.79 L1094.2,164.83 L1096.2,164.86 L1098.2,164.89 L1100.2,164.91 L1102.2,164.93 L1104.2,164.94 L1106.2,164.96 L1108.2,164.98 L1110.2,164.99 L1112.2,165.01 L1114.2,165.03 L1116.2,165.04 L1118.2,165.06 L1120.2,165.07 L1122.2,165.08 L1124.2,165.1 L1126.2,165.11 L1128.2,165.12 L1130.2,165.14 L1132.2,165.15 L1134.2,165.16 L1136.2,165.17 L1138.2,165.18 L1140.2,165.19 L1142.2,165.2 L1144.2,165.21 L1146.2,165.22 L1148.2,165.23 L1150.2,165.24 L1152.2,165.25 L1154.2,165.26 L1156.2,165.27 L1158.2,165.28 L1160.2,165.28 L1162.2,165.29 L1164.2,165.3 L1166.2,165.31 L1168.2,165.31 L1170.2,165.32 L1172.2,165.33 L1174.2,165.33 L1176.2,165.34 L1178.2,165.34 L1180.2,165.35 L1182.2,165.36 L1184.2,165.36 L1186.2,165.37 L1188.2,165.37 L1190.2,165.38 L1192.2,165.38 L1194.2,165.39 L1196.2,165.39 L1198.2,165.4 L1200.2,165.4 L1202.2,165.4 L1204.2,165.41 L1206.2,165.41 L1208.2,165.42 L1210.2,165.42 L1212.2,165.43 L1214.2,165.43 L1216.2,165.44 L1218.2,165.44 L1220.2,165.44 L1222.2,165.45 L1224.2,165.45 L1226.2,165.46 L1228.2,165.46 L1230.2,165.46 L1232.2,165.47 L1234.2,165.47 L1236.2,165.48 L1238.2,165.48 L1240.2,165.48 L1242.2,165.49 L1244.2,165.49 L1246.2,165.5 L1248.2,165.5 L1250.2,165.5 L1252.2,165.51 L1254.2,165.51 L1256.2,165.51 L1258.2,165.52 L1260.2,165.52 L1262.2,165.52 L1264.2,165.53 L1266.2,165.53 L1268.2,165.53 L1270.2,165.54 L1272.2,165.54 L1274.2,165.54 L1276.2,165.55 L1278.2,165.55 L1280.2,165.55 L1282.2,165.55 L1284.2,165.56 L1286.2,165.56 L1288.2,165.56 L1290.2,165.56 L1292.2,165.57 L1294.2,165.57 L1296.2,165.57 L1298.2,165.57 L1300.2,165.58 L1302.2,165.58 L1304.2,165.58 L1306.2,165.58 L1308.2,165.58 L1310.2,165.58 L1312.2,165.59 L1314.2,165.59 L1316.2,165.59 L1318.2,165.59 L1320.2,165.59 L1322.2,165.59 L1324.2,165.59 L1326.2,165.6 L1328.2,165.6 L1330.2,165.6 L1332.2,165.6 L1334.2,165.6 L1336.2,165.6 L1338.2,165.6 L1340.2,165.6 L1342.2,165.6 L1344.2,165.6" fill="none" stroke="#C9D3EA" stroke-width="3.4" stroke-linejoin="round" stroke-linecap="round"/>
</g>
<line x1="846.6" y1="167.75" x2="839.1" y2="167.75" stroke="#000" stroke-width="2.2"/>
<text x="834.6" y="176.05" font-size="29" text-anchor="end">0</text>
<line x1="846.6" y1="124.5" x2="839.1" y2="124.5" stroke="#000" stroke-width="2.2"/>
<text x="834.6" y="132.8" font-size="29" text-anchor="end">5</text>
<line x1="846.6" y1="81.25" x2="839.1" y2="81.25" stroke="#000" stroke-width="2.2"/>
<text x="834.6" y="89.55" font-size="29" text-anchor="end">10</text>
<line x1="846.6" y1="38" x2="839.1" y2="38" stroke="#000" stroke-width="2.2"/>
<text x="834.6" y="46.3" font-size="29" text-anchor="end">15</text>
<line x1="846.6" y1="146.12" x2="842.6" y2="146.12" stroke="#000" stroke-width="2.2"/>
<line x1="846.6" y1="102.88" x2="842.6" y2="102.88" stroke="#000" stroke-width="2.2"/>
<line x1="846.6" y1="59.62" x2="842.6" y2="59.62" stroke="#000" stroke-width="2.2"/>
<line x1="1043.2" y1="71.8" x2="1103.6" y2="71.8" stroke="#B19AE2" stroke-width="3.2"/>
<text x="1116.7" y="80.3" font-size="26.2" text-anchor="start">TP</text>
<text x="1171.2" y="80.3" font-size="26.2"><tspan font-family="Liberation Serif" font-size="32" dy="1.2">τ</tspan><tspan dy="-1.2"> = 74.56 µs</tspan></text>
<g clip-path="url(#cb1)">
<path d="M846.0,298.8 L847.0,298.8 L847.0,298.8 L848.0,298.8 L848.0,298.8 L849.0,298.8 L849.0,296.1 L850.0,296.1 L850.0,296.1 L851.0,296.1 L851.0,296.1 L852.0,296.1 L852.0,295.9 L853.0,295.9 L853.0,295.9 L854.0,295.9 L854.0,295.9 L855.0,295.9 L855.0,298.4 L856.0,298.4 L856.0,298.4 L857.0,298.4 L857.0,299.1 L858.0,299.1 L858.0,299.1 L859.0,299.1 L859.0,298.6 L860.0,298.6 L860.0,298.6 L861.0,298.6 L861.0,298.6 L862.0,298.6 L862.0,298.6 L863.0,298.6 L863.0,293.3 L864.0,293.3 L864.0,293.3 L865.0,293.3 L865.0,293.3 L866.0,293.3 L866.0,298.1 L867.0,298.1 L867.0,299.1 L868.0,299.1 L868.0,294.3 L869.0,294.3 L869.0,294.3 L870.0,294.3 L870.0,294.3 L871.0,294.3 L871.0,294.3 L872.0,294.3 L872.0,297.5 L873.0,297.5 L873.0,297.5 L874.0,297.5 L874.0,297.5 L875.0,297.5 L875.0,298.5 L876.0,298.5 L876.0,296.3 L877.0,296.3 L877.0,296.3 L878.0,296.3 L878.0,296.4 L879.0,296.4 L879.0,296.4 L880.0,296.4 L880.0,296.4 L881.0,296.4 L881.0,297.2 L882.0,297.2 L882.0,297.2 L883.0,297.2 L883.0,297.2 L884.0,297.2 L884.0,324.6 L883.0,324.6 L883.0,324.6 L882.0,324.6 L882.0,321.6 L881.0,321.6 L881.0,321.6 L880.0,321.6 L880.0,321.6 L879.0,321.6 L879.0,329.1 L878.0,329.1 L878.0,329.1 L877.0,329.1 L877.0,329.1 L876.0,329.1 L876.0,316.4 L875.0,316.4 L875.0,316.4 L874.0,316.4 L874.0,317.1 L873.0,317.1 L873.0,317.1 L872.0,317.1 L872.0,317.1 L871.0,317.1 L871.0,317.1 L870.0,317.1 L870.0,329.8 L869.0,329.8 L869.0,329.8 L868.0,329.8 L868.0,329.8 L867.0,329.8 L867.0,318.4 L866.0,318.4 L866.0,318.4 L865.0,318.4 L865.0,318.4 L864.0,318.4 L864.0,318.4 L863.0,318.4 L863.0,326.5 L862.0,326.5 L862.0,326.5 L861.0,326.5 L861.0,326.5 L860.0,326.5 L860.0,324.3 L859.0,324.3 L859.0,324.3 L858.0,324.3 L858.0,333.9 L857.0,333.9 L857.0,333.9 L856.0,333.9 L856.0,324.5 L855.0,324.5 L855.0,324.5 L854.0,324.5 L854.0,319.9 L853.0,319.9 L853.0,319.9 L852.0,319.9 L852.0,318.1 L851.0,318.1 L851.0,318.1 L850.0,318.1 L850.0,318.1 L849.0,318.1 L849.0,318.1 L848.0,318.1 L848.0,318.5 L847.0,318.5 L847.0,318.5 L846.0,318.5 Z" fill="#61BE50"/>
<path d="M883.8,199.9 L884.8,199.9 L884.8,198.5 L885.8,198.5 L885.8,199.6 L886.8,199.6 L886.8,203.8 L887.8,203.8 L887.8,207.5 L888.8,207.5 L888.8,211.8 L889.8,211.8 L889.8,214.8 L890.8,214.8 L890.8,217.7 L891.8,217.7 L891.8,220.5 L892.8,220.5 L892.8,227.2 L893.8,227.2 L893.8,229.9 L894.8,229.9 L894.8,231.1 L895.8,231.1 L895.8,231.2 L896.8,231.2 L896.8,233.9 L897.8,233.9 L897.8,236.4 L898.8,236.4 L898.8,238.7 L899.8,238.7 L899.8,245.8 L900.8,245.8 L900.8,247.7 L901.8,247.7 L901.8,248.5 L902.8,248.5 L902.8,250.1 L903.8,250.1 L903.8,251.7 L904.8,251.7 L904.8,240.8 L905.8,240.8 L905.8,242.4 L906.8,242.4 L906.8,249.7 L907.8,249.7 L907.8,251.2 L908.8,251.2 L908.8,248.3 L909.8,248.3 L909.8,249.5 L910.8,249.5 L910.8,250.7 L911.8,250.7 L911.8,251.8 L912.8,251.8 L912.8,263.1 L913.8,263.1 L913.8,264.0 L914.8,264.0 L914.8,264.9 L915.8,264.9 L915.8,264.4 L916.8,264.4 L916.8,265.3 L917.8,265.3 L917.8,265.3 L918.8,265.3 L918.8,266.2 L919.8,266.2 L919.8,267.2 L920.8,267.2 L920.8,267.6 L921.8,267.6 L921.8,268.5 L922.8,268.5 L922.8,269.3 L923.8,269.3 L923.8,270.7 L924.8,270.7 L924.8,271.4 L925.8,271.4 L925.8,272.1 L926.8,272.1 L926.8,272.7 L927.8,272.7 L927.8,266.3 L928.8,266.3 L928.8,266.9 L929.8,266.9 L929.8,274.5 L930.8,274.5 L930.8,275.0 L931.8,275.0 L931.8,276.3 L932.8,276.3 L932.8,276.8 L933.8,276.8 L933.8,277.4 L934.8,277.4 L934.8,272.6 L935.8,272.6 L935.8,278.3 L936.8,278.3 L936.8,278.8 L937.8,278.8 L937.8,279.7 L938.8,279.7 L938.8,280.2 L939.8,280.2 L939.8,280.6 L940.8,280.6 L940.8,281.0 L941.8,281.0 L941.8,281.3 L942.8,281.3 L942.8,281.7 L943.8,281.7 L943.8,282.1 L944.8,282.1 L944.8,278.7 L945.8,278.7 L945.8,279.0 L946.8,279.0 L946.8,282.1 L947.8,282.1 L947.8,282.4 L948.8,282.4 L948.8,283.3 L949.8,283.3 L949.8,283.6 L950.8,283.6 L950.8,284.7 L951.8,284.7 L951.8,285.0 L952.8,285.0 L952.8,285.3 L953.8,285.3 L953.8,283.8 L954.8,283.8 L954.8,284.0 L955.8,284.0 L955.8,284.3 L956.8,284.3 L956.8,284.5 L957.8,284.5 L957.8,284.7 L958.8,284.7 L958.8,285.0 L959.8,285.0 L959.8,281.9 L960.8,281.9 L960.8,282.1 L961.8,282.1 L961.8,282.3 L962.8,282.3 L962.8,286.8 L963.8,286.8 L963.8,287.0 L964.8,287.0 L964.8,287.3 L965.8,287.3 L965.8,278.8 L966.8,278.8 L966.8,275.7 L967.8,275.7 L967.8,276.0 L968.8,276.0 L968.8,284.2 L969.8,284.2 L969.8,284.3 L970.8,284.3 L970.8,289.3 L971.8,289.3 L971.8,289.5 L972.8,289.5 L972.8,289.7 L973.8,289.7 L973.8,285.0 L974.8,285.0 L974.8,285.2 L975.8,285.2 L975.8,285.5 L976.8,285.5 L976.8,285.7 L977.8,285.7 L977.8,290.0 L978.8,290.0 L978.8,290.2 L979.8,290.2 L979.8,290.4 L980.8,290.4 L980.8,290.6 L981.8,290.6 L981.8,283.0 L982.8,283.0 L982.8,283.7 L983.8,283.7 L983.8,283.8 L984.8,283.8 L984.8,283.9 L985.8,283.9 L985.8,284.1 L986.8,284.1 L986.8,290.5 L987.8,290.5 L987.8,290.6 L988.8,290.6 L988.8,290.7 L989.8,290.7 L989.8,288.7 L990.8,288.7 L990.8,288.8 L991.8,288.8 L991.8,281.3 L992.8,281.3 L992.8,281.4 L993.8,281.4 L993.8,281.5 L994.8,281.5 L994.8,293.9 L995.8,293.9 L995.8,294.0 L996.8,294.0 L996.8,294.1 L997.8,294.1 L997.8,293.7 L998.8,293.7 L998.8,293.8 L999.8,293.8 L999.8,293.9 L1000.8,293.9 L1000.8,291.7 L1001.8,291.7 L1001.8,291.8 L1002.8,291.8 L1002.8,289.5 L1003.8,289.5 L1003.8,289.6 L1004.8,289.6 L1004.8,291.6 L1005.8,291.6 L1005.8,291.6 L1006.8,291.6 L1006.8,291.7 L1007.8,291.7 L1007.8,288.3 L1008.8,288.3 L1008.8,288.2 L1009.8,288.2 L1009.8,288.3 L1010.8,288.3 L1010.8,288.3 L1011.8,288.3 L1011.8,288.4 L1012.8,288.4 L1012.8,289.1 L1013.8,289.1 L1013.8,289.1 L1014.8,289.1 L1014.8,289.2 L1015.8,289.2 L1015.8,289.3 L1016.8,289.3 L1016.8,293.3 L1017.8,293.3 L1017.8,293.4 L1018.8,293.4 L1018.8,293.4 L1019.8,293.4 L1019.8,291.3 L1020.8,291.3 L1020.8,291.4 L1021.8,291.4 L1021.8,292.7 L1022.8,292.7 L1022.8,291.1 L1023.8,291.1 L1023.8,291.2 L1024.8,291.2 L1024.8,293.3 L1025.8,293.3 L1025.8,293.4 L1026.8,293.4 L1026.8,290.7 L1027.8,290.7 L1027.8,292.8 L1028.8,292.8 L1028.8,292.8 L1029.8,292.8 L1029.8,295.4 L1030.8,295.4 L1030.8,295.4 L1031.8,295.4 L1031.8,295.5 L1032.8,295.5 L1032.8,295.5 L1033.8,295.5 L1033.8,291.1 L1034.8,291.1 L1034.8,291.1 L1035.8,291.1 L1035.8,291.1 L1036.8,291.1 L1036.8,294.5 L1037.8,294.5 L1037.8,294.5 L1038.8,294.5 L1038.8,294.5 L1039.8,294.5 L1039.8,291.4 L1040.8,291.4 L1040.8,291.4 L1041.8,291.4 L1041.8,291.5 L1042.8,291.5 L1042.8,291.5 L1043.8,291.5 L1043.8,291.4 L1044.8,291.4 L1044.8,291.5 L1045.8,291.5 L1045.8,291.5 L1046.8,291.5 L1046.8,291.5 L1047.8,291.5 L1047.8,285.7 L1048.8,285.7 L1048.8,287.2 L1049.8,287.2 L1049.8,295.6 L1050.8,295.6 L1050.8,296.2 L1051.8,296.2 L1051.8,296.2 L1052.8,296.2 L1052.8,296.3 L1053.8,296.3 L1053.8,295.9 L1054.8,295.9 L1054.8,289.8 L1055.8,289.8 L1055.8,289.9 L1056.8,289.9 L1056.8,289.9 L1057.8,289.9 L1057.8,287.5 L1058.8,287.5 L1058.8,295.1 L1059.8,295.1 L1059.8,295.2 L1060.8,295.2 L1060.8,295.2 L1061.8,295.2 L1061.8,296.0 L1062.8,296.0 L1062.8,296.1 L1063.8,296.1 L1063.8,295.8 L1064.8,295.8 L1064.8,295.8 L1065.8,295.8 L1065.8,294.6 L1066.8,294.6 L1066.8,294.6 L1067.8,294.6 L1067.8,290.2 L1068.8,290.2 L1068.8,290.3 L1069.8,290.3 L1069.8,290.3 L1070.8,290.3 L1070.8,290.3 L1071.8,290.3 L1071.8,287.0 L1072.8,287.0 L1072.8,287.0 L1073.8,287.0 L1073.8,287.0 L1074.8,287.0 L1074.8,287.1 L1075.8,287.1 L1075.8,296.5 L1076.8,296.5 L1076.8,296.6 L1077.8,296.6 L1077.8,296.6 L1078.8,296.6 L1078.8,296.1 L1079.8,296.1 L1079.8,296.1 L1080.8,296.1 L1080.8,295.5 L1081.8,295.5 L1081.8,291.4 L1082.8,291.4 L1082.8,291.4 L1083.8,291.4 L1083.8,293.1 L1084.8,293.1 L1084.8,293.1 L1085.8,293.1 L1085.8,293.1 L1086.8,293.1 L1086.8,290.3 L1087.8,290.3 L1087.8,290.3 L1088.8,290.3 L1088.8,290.3 L1089.8,290.3 L1089.8,290.3 L1090.8,290.3 L1090.8,295.9 L1091.8,295.9 L1091.8,295.9 L1092.8,295.9 L1092.8,296.0 L1093.8,296.0 L1093.8,296.0 L1094.8,296.0 L1094.8,287.7 L1095.8,287.7 L1095.8,287.8 L1096.8,287.8 L1096.8,287.8 L1097.8,287.8 L1097.8,290.2 L1098.8,290.2 L1098.8,292.0 L1099.8,292.0 L1099.8,292.0 L1100.8,292.0 L1100.8,296.1 L1101.8,296.1 L1101.8,296.1 L1102.8,296.1 L1102.8,295.2 L1103.8,295.2 L1103.8,295.2 L1104.8,295.2 L1104.8,295.1 L1105.8,295.1 L1105.8,295.1 L1106.8,295.1 L1106.8,295.7 L1107.8,295.7 L1107.8,295.8 L1108.8,295.8 L1108.8,294.5 L1109.8,294.5 L1109.8,294.5 L1110.8,294.5 L1110.8,294.5 L1111.8,294.5 L1111.8,294.5 L1112.8,294.5 L1112.8,295.0 L1113.8,295.0 L1113.8,295.0 L1114.8,295.0 L1114.8,295.0 L1115.8,295.0 L1115.8,297.2 L1116.8,297.2 L1116.8,296.4 L1117.8,296.4 L1117.8,291.2 L1118.8,291.2 L1118.8,296.2 L1119.8,296.2 L1119.8,294.1 L1120.8,294.1 L1120.8,294.1 L1121.8,294.1 L1121.8,294.2 L1122.8,294.2 L1122.8,294.2 L1123.8,294.2 L1123.8,294.6 L1124.8,294.6 L1124.8,294.6 L1125.8,294.6 L1125.8,294.6 L1126.8,294.6 L1126.8,293.4 L1127.8,293.4 L1127.8,293.4 L1128.8,293.4 L1128.8,293.4 L1129.8,293.4 L1129.8,294.3 L1130.8,294.3 L1130.8,294.3 L1131.8,294.3 L1131.8,290.0 L1132.8,290.0 L1132.8,290.0 L1133.8,290.0 L1133.8,290.0 L1134.8,290.0 L1134.8,293.1 L1135.8,293.1 L1135.8,294.7 L1136.8,294.7 L1136.8,294.7 L1137.8,294.7 L1137.8,294.7 L1138.8,294.7 L1138.8,295.1 L1139.8,295.1 L1139.8,295.1 L1140.8,295.1 L1140.8,295.1 L1141.8,295.1 L1141.8,286.7 L1142.8,286.7 L1142.8,286.7 L1143.8,286.7 L1143.8,295.9 L1144.8,295.9 L1144.8,295.9 L1145.8,295.9 L1145.8,296.0 L1146.8,296.0 L1146.8,296.0 L1147.8,296.0 L1147.8,293.2 L1148.8,293.2 L1148.8,293.2 L1149.8,293.2 L1149.8,293.2 L1150.8,293.2 L1150.8,296.2 L1151.8,296.2 L1151.8,292.8 L1152.8,292.8 L1152.8,292.8 L1153.8,292.8 L1153.8,296.6 L1154.8,296.6 L1154.8,296.6 L1155.8,296.6 L1155.8,295.7 L1156.8,295.7 L1156.8,295.7 L1157.8,295.7 L1157.8,295.7 L1158.8,295.7 L1158.8,295.7 L1159.8,295.7 L1159.8,296.7 L1160.8,296.7 L1160.8,296.7 L1161.8,296.7 L1161.8,294.8 L1162.8,294.8 L1162.8,292.1 L1163.8,292.1 L1163.8,292.1 L1164.8,292.1 L1164.8,292.1 L1165.8,292.1 L1165.8,296.6 L1166.8,296.6 L1166.8,296.6 L1167.8,296.6 L1167.8,293.8 L1168.8,293.8 L1168.8,293.9 L1169.8,293.9 L1169.8,293.9 L1170.8,293.9 L1170.8,293.9 L1171.8,293.9 L1171.8,295.8 L1172.8,295.8 L1172.8,295.8 L1173.8,295.8 L1173.8,295.8 L1174.8,295.8 L1174.8,292.7 L1175.8,292.7 L1175.8,292.7 L1176.8,292.7 L1176.8,292.7 L1177.8,292.7 L1177.8,292.7 L1178.8,292.7 L1178.8,289.7 L1179.8,289.7 L1179.8,289.7 L1180.8,289.7 L1180.8,293.8 L1181.8,293.8 L1181.8,293.8 L1182.8,293.8 L1182.8,293.8 L1183.8,293.8 L1183.8,287.7 L1184.8,287.7 L1184.8,295.4 L1185.8,295.4 L1185.8,295.4 L1186.8,295.4 L1186.8,295.4 L1187.8,295.4 L1187.8,296.4 L1188.8,296.4 L1188.8,296.4 L1189.8,296.4 L1189.8,296.4 L1190.8,296.4 L1190.8,295.2 L1191.8,295.2 L1191.8,295.2 L1192.8,295.2 L1192.8,295.2 L1193.8,295.2 L1193.8,294.4 L1194.8,294.4 L1194.8,294.4 L1195.8,294.4 L1195.8,294.5 L1196.8,294.5 L1196.8,294.5 L1197.8,294.5 L1197.8,293.8 L1198.8,293.8 L1198.8,293.8 L1199.8,293.8 L1199.8,293.8 L1200.8,293.8 L1200.8,293.8 L1201.8,293.8 L1201.8,295.7 L1202.8,295.7 L1202.8,295.7 L1203.8,295.7 L1203.8,297.7 L1204.8,297.7 L1204.8,294.4 L1205.8,294.4 L1205.8,294.4 L1206.8,294.4 L1206.8,290.9 L1207.8,290.9 L1207.8,290.9 L1208.8,290.9 L1208.8,295.1 L1209.8,295.1 L1209.8,295.1 L1210.8,295.1 L1210.8,295.1 L1211.8,295.1 L1211.8,295.1 L1212.8,295.1 L1212.8,298.9 L1213.8,298.9 L1213.8,298.9 L1214.8,298.9 L1214.8,298.9 L1215.8,298.9 L1215.8,298.9 L1216.8,298.9 L1216.8,288.5 L1217.8,288.5 L1217.8,288.5 L1218.8,288.5 L1218.8,288.5 L1219.8,288.5 L1219.8,296.4 L1220.8,296.4 L1220.8,296.4 L1221.8,296.4 L1221.8,296.4 L1222.8,296.4 L1222.8,292.9 L1223.8,292.9 L1223.8,292.9 L1224.8,292.9 L1224.8,295.0 L1225.8,295.0 L1225.8,295.0 L1226.8,295.0 L1226.8,295.0 L1227.8,295.0 L1227.8,295.0 L1228.8,295.0 L1228.8,296.2 L1229.8,296.2 L1229.8,296.2 L1230.8,296.2 L1230.8,298.1 L1231.8,298.1 L1231.8,294.7 L1232.8,294.7 L1232.8,294.7 L1233.8,294.7 L1233.8,291.2 L1234.8,291.2 L1234.8,291.2 L1235.8,291.2 L1235.8,294.1 L1236.8,294.1 L1236.8,294.1 L1237.8,294.1 L1237.8,296.7 L1238.8,296.7 L1238.8,296.7 L1239.8,296.7 L1239.8,296.7 L1240.8,296.7 L1240.8,292.8 L1241.8,292.8 L1241.8,292.8 L1242.8,292.8 L1242.8,295.4 L1243.8,295.4 L1243.8,295.4 L1244.8,295.4 L1244.8,295.4 L1245.8,295.4 L1245.8,296.5 L1246.8,296.5 L1246.8,296.5 L1247.8,296.5 L1247.8,295.8 L1248.8,295.8 L1248.8,295.8 L1249.8,295.8 L1249.8,295.8 L1250.8,295.8 L1250.8,292.5 L1251.8,292.5 L1251.8,294.8 L1252.8,294.8 L1252.8,294.8 L1253.8,294.8 L1253.8,294.8 L1254.8,294.8 L1254.8,295.9 L1255.8,295.9 L1255.8,295.9 L1256.8,295.9 L1256.8,295.9 L1257.8,295.9 L1257.8,295.9 L1258.8,295.9 L1258.8,298.7 L1259.8,298.7 L1259.8,298.7 L1260.8,298.7 L1260.8,298.7 L1261.8,298.7 L1261.8,295.6 L1262.8,295.6 L1262.8,295.6 L1263.8,295.6 L1263.8,299.4 L1264.8,299.4 L1264.8,299.4 L1265.8,299.4 L1265.8,299.4 L1266.8,299.4 L1266.8,299.4 L1267.8,299.4 L1267.8,288.9 L1268.8,288.9 L1268.8,296.0 L1269.8,296.0 L1269.8,296.0 L1270.8,296.0 L1270.8,293.8 L1271.8,293.8 L1271.8,293.8 L1272.8,293.8 L1272.8,293.8 L1273.8,293.8 L1273.8,296.0 L1274.8,296.0 L1274.8,296.0 L1275.8,296.0 L1275.8,297.3 L1276.8,297.3 L1276.8,297.3 L1277.8,297.3 L1277.8,297.3 L1278.8,297.3 L1278.8,297.2 L1279.8,297.2 L1279.8,297.2 L1280.8,297.2 L1280.8,297.2 L1281.8,297.2 L1281.8,294.4 L1282.8,294.4 L1282.8,294.4 L1283.8,294.4 L1283.8,294.4 L1284.8,294.4 L1284.8,295.5 L1285.8,295.5 L1285.8,295.5 L1286.8,295.5 L1286.8,295.5 L1287.8,295.5 L1287.8,297.1 L1288.8,297.1 L1288.8,297.1 L1289.8,297.1 L1289.8,294.0 L1290.8,294.0 L1290.8,294.0 L1291.8,294.0 L1291.8,294.0 L1292.8,294.0 L1292.8,294.0 L1293.8,294.0 L1293.8,296.8 L1294.8,296.8 L1294.8,296.8 L1295.8,296.8 L1295.8,296.8 L1296.8,296.8 L1296.8,290.8 L1297.8,290.8 L1297.8,290.8 L1298.8,290.8 L1298.8,290.8 L1299.8,290.8 L1299.8,295.8 L1300.8,295.8 L1300.8,295.8 L1301.8,295.8 L1301.8,295.8 L1302.8,295.8 L1302.8,296.3 L1303.8,296.3 L1303.8,295.4 L1304.8,295.4 L1304.8,295.4 L1305.8,295.4 L1305.8,295.4 L1306.8,295.4 L1306.8,295.4 L1307.8,295.4 L1307.8,295.4 L1308.8,295.4 L1308.8,296.0 L1309.8,296.0 L1309.8,296.0 L1310.8,296.0 L1310.8,295.9 L1311.8,295.9 L1311.8,298.4 L1312.8,298.4 L1312.8,298.4 L1313.8,298.4 L1313.8,298.4 L1314.8,298.4 L1314.8,298.4 L1315.8,298.4 L1315.8,293.9 L1316.8,293.9 L1316.8,293.9 L1317.8,293.9 L1317.8,293.9 L1318.8,293.9 L1318.8,294.3 L1319.8,294.3 L1319.8,296.5 L1320.8,296.5 L1320.8,296.5 L1321.8,296.5 L1321.8,290.3 L1322.8,290.3 L1322.8,290.3 L1323.8,290.3 L1323.8,296.5 L1324.8,296.5 L1324.8,296.5 L1325.8,296.5 L1325.8,296.5 L1326.8,296.5 L1326.8,293.7 L1327.8,293.7 L1327.8,293.7 L1328.8,293.7 L1328.8,293.7 L1329.8,293.7 L1329.8,293.7 L1330.8,293.7 L1330.8,294.0 L1331.8,294.0 L1331.8,294.0 L1332.8,294.0 L1332.8,287.3 L1333.8,287.3 L1333.8,287.3 L1334.8,287.3 L1334.8,287.3 L1335.8,287.3 L1335.8,296.6 L1336.8,296.6 L1336.8,296.6 L1337.8,296.6 L1337.8,296.6 L1338.8,296.6 L1338.8,295.8 L1339.8,295.8 L1339.8,295.8 L1340.8,295.8 L1340.8,293.7 L1341.8,293.7 L1341.8,293.7 L1342.8,293.7 L1342.8,293.7 L1343.8,293.7 L1343.8,293.7 L1344.8,293.7 L1344.8,295.8 L1345.8,295.8 L1345.8,295.8 L1346.8,295.8 L1346.8,322.6 L1345.8,322.6 L1345.8,322.6 L1344.8,322.6 L1344.8,322.6 L1343.8,322.6 L1343.8,322.6 L1342.8,322.6 L1342.8,322.0 L1341.8,322.0 L1341.8,322.0 L1340.8,322.0 L1340.8,315.0 L1339.8,315.0 L1339.8,315.0 L1338.8,315.0 L1338.8,315.0 L1337.8,315.0 L1337.8,317.6 L1336.8,317.6 L1336.8,317.6 L1335.8,317.6 L1335.8,317.6 L1334.8,317.6 L1334.8,317.0 L1333.8,317.0 L1333.8,317.0 L1332.8,317.0 L1332.8,317.1 L1331.8,317.1 L1331.8,317.1 L1330.8,317.1 L1330.8,318.2 L1329.8,318.2 L1329.8,325.8 L1328.8,325.8 L1328.8,325.8 L1327.8,325.8 L1327.8,322.5 L1326.8,322.5 L1326.8,322.5 L1325.8,322.5 L1325.8,322.5 L1324.8,322.5 L1324.8,316.6 L1323.8,316.6 L1323.8,316.6 L1322.8,316.6 L1322.8,317.0 L1321.8,317.0 L1321.8,317.0 L1320.8,317.0 L1320.8,315.5 L1319.8,315.5 L1319.8,315.5 L1318.8,315.5 L1318.8,320.7 L1317.8,320.7 L1317.8,315.6 L1316.8,315.6 L1316.8,322.1 L1315.8,322.1 L1315.8,322.1 L1314.8,322.1 L1314.8,322.1 L1313.8,322.1 L1313.8,322.1 L1312.8,322.1 L1312.8,320.1 L1311.8,320.1 L1311.8,320.1 L1310.8,320.1 L1310.8,318.3 L1309.8,318.3 L1309.8,318.3 L1308.8,318.3 L1308.8,318.3 L1307.8,318.3 L1307.8,318.3 L1306.8,318.3 L1306.8,318.3 L1305.8,318.3 L1305.8,318.3 L1304.8,318.3 L1304.8,325.2 L1303.8,325.2 L1303.8,325.2 L1302.8,325.2 L1302.8,316.5 L1301.8,316.5 L1301.8,316.5 L1300.8,316.5 L1300.8,316.5 L1299.8,316.5 L1299.8,315.8 L1298.8,315.8 L1298.8,315.8 L1297.8,315.8 L1297.8,315.8 L1296.8,315.8 L1296.8,313.6 L1295.8,313.6 L1295.8,313.5 L1294.8,313.5 L1294.8,313.5 L1293.8,313.5 L1293.8,313.6 L1292.8,313.6 L1292.8,313.6 L1291.8,313.6 L1291.8,318.8 L1290.8,318.8 L1290.8,318.8 L1289.8,318.8 L1289.8,318.0 L1288.8,318.0 L1288.8,318.0 L1287.8,318.0 L1287.8,320.6 L1286.8,320.6 L1286.8,315.1 L1285.8,315.1 L1285.8,315.5 L1284.8,315.5 L1284.8,315.5 L1283.8,315.5 L1283.8,317.3 L1282.8,317.3 L1282.8,317.3 L1281.8,317.3 L1281.8,317.3 L1280.8,317.3 L1280.8,317.3 L1279.8,317.3 L1279.8,314.5 L1278.8,314.5 L1278.8,316.9 L1277.8,316.9 L1277.8,322.3 L1276.8,322.3 L1276.8,322.3 L1275.8,322.3 L1275.8,322.3 L1274.8,322.3 L1274.8,321.8 L1273.8,321.8 L1273.8,321.8 L1272.8,321.8 L1272.8,321.8 L1271.8,321.8 L1271.8,321.8 L1270.8,321.8 L1270.8,315.6 L1269.8,315.6 L1269.8,315.6 L1268.8,315.6 L1268.8,315.6 L1267.8,315.6 L1267.8,319.3 L1266.8,319.3 L1266.8,319.3 L1265.8,319.3 L1265.8,322.3 L1264.8,322.3 L1264.8,322.3 L1263.8,322.3 L1263.8,322.3 L1262.8,322.3 L1262.8,322.3 L1261.8,322.3 L1261.8,317.3 L1260.8,317.3 L1260.8,317.3 L1259.8,317.3 L1259.8,320.2 L1258.8,320.2 L1258.8,320.2 L1257.8,320.2 L1257.8,316.9 L1256.8,316.9 L1256.8,316.9 L1255.8,316.9 L1255.8,316.9 L1254.8,316.9 L1254.8,316.9 L1253.8,316.9 L1253.8,317.8 L1252.8,317.8 L1252.8,317.8 L1251.8,317.8 L1251.8,316.4 L1250.8,316.4 L1250.8,316.4 L1249.8,316.4 L1249.8,316.4 L1248.8,316.4 L1248.8,316.4 L1247.8,316.4 L1247.8,315.3 L1246.8,315.3 L1246.8,315.3 L1245.8,315.3 L1245.8,314.7 L1244.8,314.7 L1244.8,314.7 L1243.8,314.7 L1243.8,313.1 L1242.8,313.1 L1242.8,313.1 L1241.8,313.1 L1241.8,313.1 L1240.8,313.1 L1240.8,313.1 L1239.8,313.1 L1239.8,316.3 L1238.8,316.3 L1238.8,316.3 L1237.8,316.3 L1237.8,315.0 L1236.8,315.0 L1236.8,315.0 L1235.8,315.0 L1235.8,319.4 L1234.8,319.4 L1234.8,319.4 L1233.8,319.4 L1233.8,319.4 L1232.8,319.4 L1232.8,314.6 L1231.8,314.6 L1231.8,314.6 L1230.8,314.6 L1230.8,314.6 L1229.8,314.6 L1229.8,314.6 L1228.8,314.6 L1228.8,314.6 L1227.8,314.6 L1227.8,316.7 L1226.8,316.7 L1226.8,316.7 L1225.8,316.7 L1225.8,316.7 L1224.8,316.7 L1224.8,324.2 L1223.8,324.2 L1223.8,324.2 L1222.8,324.2 L1222.8,324.2 L1221.8,324.2 L1221.8,325.2 L1220.8,325.2 L1220.8,325.2 L1219.8,325.2 L1219.8,325.2 L1218.8,325.2 L1218.8,315.5 L1217.8,315.5 L1217.8,315.5 L1216.8,315.5 L1216.8,318.8 L1215.8,318.8 L1215.8,315.1 L1214.8,315.1 L1214.8,315.1 L1213.8,315.1 L1213.8,315.1 L1212.8,315.1 L1212.8,328.0 L1211.8,328.0 L1211.8,328.0 L1210.8,328.0 L1210.8,315.0 L1209.8,315.0 L1209.8,315.0 L1208.8,315.0 L1208.8,317.0 L1207.8,317.0 L1207.8,317.0 L1206.8,317.0 L1206.8,316.9 L1205.8,316.9 L1205.8,317.5 L1204.8,317.5 L1204.8,317.5 L1203.8,317.5 L1203.8,317.5 L1202.8,317.5 L1202.8,317.5 L1201.8,317.5 L1201.8,317.3 L1200.8,317.3 L1200.8,317.3 L1199.8,317.3 L1199.8,315.2 L1198.8,315.2 L1198.8,315.2 L1197.8,315.2 L1197.8,315.5 L1196.8,315.5 L1196.8,315.5 L1195.8,315.5 L1195.8,315.5 L1194.8,315.5 L1194.8,315.8 L1193.8,315.8 L1193.8,315.8 L1192.8,315.8 L1192.8,315.3 L1191.8,315.3 L1191.8,315.3 L1190.8,315.3 L1190.8,315.2 L1189.8,315.2 L1189.8,325.6 L1188.8,325.6 L1188.8,325.6 L1187.8,325.6 L1187.8,317.2 L1186.8,317.2 L1186.8,317.2 L1185.8,317.2 L1185.8,317.2 L1184.8,317.2 L1184.8,317.2 L1183.8,317.2 L1183.8,326.8 L1182.8,326.8 L1182.8,326.8 L1181.8,326.8 L1181.8,326.8 L1180.8,326.8 L1180.8,326.8 L1179.8,326.8 L1179.8,316.1 L1178.8,316.1 L1178.8,316.1 L1177.8,316.1 L1177.8,323.7 L1176.8,323.7 L1176.8,323.6 L1175.8,323.6 L1175.8,323.6 L1174.8,323.6 L1174.8,323.6 L1173.8,323.6 L1173.8,318.6 L1172.8,318.6 L1172.8,318.6 L1171.8,318.6 L1171.8,316.1 L1170.8,316.1 L1170.8,316.1 L1169.8,316.1 L1169.8,316.1 L1168.8,316.1 L1168.8,316.1 L1167.8,316.1 L1167.8,315.2 L1166.8,315.2 L1166.8,315.2 L1165.8,315.2 L1165.8,319.0 L1164.8,319.0 L1164.8,319.0 L1163.8,319.0 L1163.8,319.0 L1162.8,319.0 L1162.8,314.6 L1161.8,314.6 L1161.8,314.6 L1160.8,314.6 L1160.8,314.6 L1159.8,314.6 L1159.8,318.8 L1158.8,318.8 L1158.8,318.8 L1157.8,318.8 L1157.8,318.8 L1156.8,318.8 L1156.8,316.3 L1155.8,316.3 L1155.8,316.3 L1154.8,316.3 L1154.8,316.3 L1153.8,316.3 L1153.8,320.7 L1152.8,320.7 L1152.8,315.4 L1151.8,315.4 L1151.8,315.4 L1150.8,315.4 L1150.8,315.4 L1149.8,315.4 L1149.8,315.4 L1148.8,315.4 L1148.8,316.7 L1147.8,316.7 L1147.8,316.7 L1146.8,316.7 L1146.8,316.7 L1145.8,316.7 L1145.8,316.7 L1144.8,316.7 L1144.8,314.2 L1143.8,314.2 L1143.8,316.4 L1142.8,316.4 L1142.8,316.4 L1141.8,316.4 L1141.8,316.4 L1140.8,316.4 L1140.8,317.3 L1139.8,317.3 L1139.8,317.3 L1138.8,317.3 L1138.8,317.3 L1137.8,317.3 L1137.8,322.0 L1136.8,322.0 L1136.8,322.0 L1135.8,322.0 L1135.8,322.0 L1134.8,322.0 L1134.8,316.5 L1133.8,316.5 L1133.8,316.5 L1132.8,316.5 L1132.8,323.9 L1131.8,323.9 L1131.8,323.9 L1130.8,323.9 L1130.8,323.9 L1129.8,323.9 L1129.8,325.9 L1128.8,325.9 L1128.8,318.8 L1127.8,318.8 L1127.8,321.2 L1126.8,321.2 L1126.8,321.1 L1125.8,321.1 L1125.8,321.1 L1124.8,321.1 L1124.8,316.6 L1123.8,316.6 L1123.8,316.5 L1122.8,316.5 L1122.8,320.7 L1121.8,320.7 L1121.8,320.6 L1120.8,320.6 L1120.8,314.9 L1119.8,314.9 L1119.8,314.9 L1118.8,314.9 L1118.8,314.9 L1117.8,314.9 L1117.8,316.7 L1116.8,316.7 L1116.8,316.7 L1115.8,316.7 L1115.8,316.7 L1114.8,316.7 L1114.8,316.6 L1113.8,316.6 L1113.8,315.5 L1112.8,315.5 L1112.8,315.5 L1111.8,315.5 L1111.8,315.5 L1110.8,315.5 L1110.8,313.1 L1109.8,313.1 L1109.8,313.1 L1108.8,313.1 L1108.8,318.3 L1107.8,318.3 L1107.8,318.3 L1106.8,318.3 L1106.8,318.3 L1105.8,318.3 L1105.8,318.3 L1104.8,318.3 L1104.8,319.6 L1103.8,319.6 L1103.8,319.6 L1102.8,319.6 L1102.8,314.3 L1101.8,314.3 L1101.8,314.3 L1100.8,314.3 L1100.8,313.8 L1099.8,313.8 L1099.8,313.8 L1098.8,313.8 L1098.8,313.8 L1097.8,313.8 L1097.8,321.7 L1096.8,321.7 L1096.8,321.7 L1095.8,321.7 L1095.8,321.6 L1094.8,321.6 L1094.8,315.5 L1093.8,315.5 L1093.8,315.5 L1092.8,315.5 L1092.8,315.5 L1091.8,315.5 L1091.8,316.6 L1090.8,316.6 L1090.8,316.6 L1089.8,316.6 L1089.8,320.4 L1088.8,320.4 L1088.8,320.4 L1087.8,320.4 L1087.8,318.3 L1086.8,318.3 L1086.8,318.3 L1085.8,318.3 L1085.8,318.3 L1084.8,318.3 L1084.8,315.9 L1083.8,315.9 L1083.8,314.3 L1082.8,314.3 L1082.8,314.3 L1081.8,314.3 L1081.8,314.3 L1080.8,314.3 L1080.8,314.3 L1079.8,314.3 L1079.8,326.3 L1078.8,326.3 L1078.8,326.3 L1077.8,326.3 L1077.8,326.3 L1076.8,326.3 L1076.8,326.3 L1075.8,326.3 L1075.8,323.3 L1074.8,323.3 L1074.8,323.3 L1073.8,323.3 L1073.8,323.3 L1072.8,323.3 L1072.8,323.4 L1071.8,323.4 L1071.8,323.4 L1070.8,323.4 L1070.8,325.6 L1069.8,325.6 L1069.8,325.6 L1068.8,325.6 L1068.8,325.5 L1067.8,325.5 L1067.8,325.5 L1066.8,325.5 L1066.8,315.1 L1065.8,315.1 L1065.8,315.1 L1064.8,315.1 L1064.8,313.0 L1063.8,313.0 L1063.8,313.0 L1062.8,313.0 L1062.8,313.0 L1061.8,313.0 L1061.8,316.7 L1060.8,316.7 L1060.8,316.6 L1059.8,316.6 L1059.8,316.6 L1058.8,316.6 L1058.8,322.2 L1057.8,322.2 L1057.8,314.8 L1056.8,314.8 L1056.8,314.8 L1055.8,314.8 L1055.8,314.7 L1054.8,314.7 L1054.8,313.5 L1053.8,313.5 L1053.8,313.5 L1052.8,313.5 L1052.8,313.5 L1051.8,313.5 L1051.8,311.1 L1050.8,311.1 L1050.8,311.1 L1049.8,311.1 L1049.8,311.1 L1048.8,311.1 L1048.8,324.2 L1047.8,324.2 L1047.8,313.8 L1046.8,313.8 L1046.8,313.8 L1045.8,313.8 L1045.8,312.0 L1044.8,312.0 L1044.8,312.0 L1043.8,312.0 L1043.8,311.9 L1042.8,311.9 L1042.8,313.4 L1041.8,313.4 L1041.8,313.3 L1040.8,313.3 L1040.8,314.7 L1039.8,314.7 L1039.8,314.7 L1038.8,314.7 L1038.8,314.6 L1037.8,314.6 L1037.8,313.5 L1036.8,313.5 L1036.8,313.5 L1035.8,313.5 L1035.8,313.5 L1034.8,313.5 L1034.8,315.9 L1033.8,315.9 L1033.8,315.9 L1032.8,315.9 L1032.8,321.3 L1031.8,321.3 L1031.8,321.2 L1030.8,321.2 L1030.8,321.2 L1029.8,321.2 L1029.8,321.1 L1028.8,321.1 L1028.8,317.0 L1027.8,317.0 L1027.8,316.9 L1026.8,316.9 L1026.8,311.0 L1025.8,311.0 L1025.8,311.0 L1024.8,311.0 L1024.8,310.9 L1023.8,310.9 L1023.8,310.9 L1022.8,310.9 L1022.8,318.1 L1021.8,318.1 L1021.8,313.5 L1020.8,313.5 L1020.8,313.5 L1019.8,313.5 L1019.8,313.4 L1018.8,313.4 L1018.8,313.4 L1017.8,313.4 L1017.8,314.4 L1016.8,314.4 L1016.8,314.3 L1015.8,314.3 L1015.8,314.3 L1014.8,314.3 L1014.8,313.5 L1013.8,313.5 L1013.8,313.4 L1012.8,313.4 L1012.8,313.4 L1011.8,313.4 L1011.8,317.8 L1010.8,317.8 L1010.8,315.5 L1009.8,315.5 L1009.8,315.4 L1008.8,315.4 L1008.8,320.0 L1007.8,320.0 L1007.8,319.9 L1006.8,319.9 L1006.8,319.9 L1005.8,319.9 L1005.8,312.1 L1004.8,312.1 L1004.8,312.0 L1003.8,312.0 L1003.8,311.9 L1002.8,311.9 L1002.8,313.9 L1001.8,313.9 L1001.8,313.8 L1000.8,313.8 L1000.8,313.6 L999.8,313.6 L999.8,313.5 L998.8,313.5 L998.8,313.4 L997.8,313.4 L997.8,313.3 L996.8,313.3 L996.8,316.9 L995.8,316.9 L995.8,316.8 L994.8,316.8 L994.8,316.7 L993.8,316.7 L993.8,316.6 L992.8,316.6 L992.8,314.5 L991.8,314.5 L991.8,311.2 L990.8,311.2 L990.8,311.1 L989.8,311.1 L989.8,312.3 L988.8,312.3 L988.8,312.2 L987.8,312.2 L987.8,311.7 L986.8,311.7 L986.8,311.6 L985.8,311.6 L985.8,315.9 L984.8,315.9 L984.8,315.8 L983.8,315.8 L983.8,315.7 L982.8,315.7 L982.8,315.6 L981.8,315.6 L981.8,309.6 L980.8,309.6 L980.8,309.5 L979.8,309.5 L979.8,309.4 L978.8,309.4 L978.8,312.2 L977.8,312.2 L977.8,312.0 L976.8,312.0 L976.8,311.9 L975.8,311.9 L975.8,311.0 L974.8,311.0 L974.8,310.9 L973.8,310.9 L973.8,310.7 L972.8,310.7 L972.8,307.2 L971.8,307.2 L971.8,307.1 L970.8,307.1 L970.8,306.9 L969.8,306.9 L969.8,306.8 L968.8,306.8 L968.8,315.7 L967.8,315.7 L967.8,315.6 L966.8,315.6 L966.8,315.4 L965.8,315.4 L965.8,307.9 L964.8,307.9 L964.8,307.7 L963.8,307.7 L963.8,308.8 L962.8,308.8 L962.8,308.6 L961.8,308.6 L961.8,307.5 L960.8,307.5 L960.8,307.3 L959.8,307.3 L959.8,308.0 L958.8,308.0 L958.8,313.1 L957.8,313.1 L957.8,317.4 L956.8,317.4 L956.8,317.2 L955.8,317.2 L955.8,317.1 L954.8,317.1 L954.8,306.4 L953.8,306.4 L953.8,306.2 L952.8,306.2 L952.8,306.0 L951.8,306.0 L951.8,305.8 L950.8,305.8 L950.8,305.6 L949.8,305.6 L949.8,304.6 L948.8,304.6 L948.8,304.3 L947.8,304.3 L947.8,304.0 L946.8,304.0 L946.8,307.5 L945.8,307.5 L945.8,307.2 L944.8,307.2 L944.8,317.7 L943.8,317.7 L943.8,317.4 L942.8,317.4 L942.8,317.1 L941.8,317.1 L941.8,301.4 L940.8,301.4 L940.8,301.0 L939.8,301.0 L939.8,309.5 L938.8,309.5 L938.8,309.2 L937.8,309.2 L937.8,308.8 L936.8,308.8 L936.8,300.0 L935.8,300.0 L935.8,299.6 L934.8,299.6 L934.8,299.2 L933.8,299.2 L933.8,298.8 L932.8,298.8 L932.8,298.7 L931.8,298.7 L931.8,298.3 L930.8,298.3 L930.8,296.1 L929.8,296.1 L929.8,300.0 L928.8,300.0 L928.8,303.4 L927.8,303.4 L927.8,302.9 L926.8,302.9 L926.8,297.3 L925.8,297.3 L925.8,296.7 L924.8,296.7 L924.8,296.1 L923.8,296.1 L923.8,295.5 L922.8,295.5 L922.8,296.4 L921.8,296.4 L921.8,295.6 L920.8,295.6 L920.8,290.1 L919.8,290.1 L919.8,289.3 L918.8,289.3 L918.8,288.5 L917.8,288.5 L917.8,291.3 L916.8,291.3 L916.8,290.6 L915.8,290.6 L915.8,289.9 L914.8,289.9 L914.8,290.5 L913.8,290.5 L913.8,291.0 L912.8,291.0 L912.8,290.3 L911.8,290.3 L911.8,289.5 L910.8,289.5 L910.8,297.6 L909.8,297.6 L909.8,279.8 L908.8,279.8 L908.8,278.6 L907.8,278.6 L907.8,277.5 L906.8,277.5 L906.8,282.2 L905.8,282.2 L905.8,281.0 L904.8,281.0 L904.8,275.3 L903.8,275.3 L903.8,274.0 L902.8,274.0 L902.8,272.6 L901.8,272.6 L901.8,271.1 L900.8,271.1 L900.8,282.4 L899.8,282.4 L899.8,280.9 L898.8,280.9 L898.8,279.1 L897.8,279.1 L897.8,277.1 L896.8,277.1 L896.8,263.3 L895.8,263.3 L895.8,263.8 L894.8,263.8 L894.8,261.6 L893.8,261.6 L893.8,260.7 L892.8,260.7 L892.8,266.5 L891.8,266.5 L891.8,255.1 L890.8,255.1 L890.8,252.7 L889.8,252.7 L889.8,242.2 L888.8,242.2 L888.8,239.3 L887.8,239.3 L887.8,242.6 L886.8,242.6 L886.8,322.2 L885.8,322.2 L885.8,322.2 L884.8,322.2 L884.8,322.2 L883.8,322.2 Z" fill="#61BE50"/>
<path d="M885.2,211.78 L885.9,215.32 L887.9,223.78 L889.9,229.97 L891.9,235.47 L893.9,240.64 L895.9,245.69 L897.9,250.76 L899.9,254.98 L901.9,258.51 L903.9,261.62 L905.9,264.4 L907.9,267.03 L909.9,269.46 L911.9,271.51 L913.9,273.32 L915.9,275 L917.9,276.6 L919.9,278.29 L921.9,280 L923.9,281.57 L925.9,282.9 L927.9,284.07 L929.9,285.14 L931.9,286.15 L933.9,287.12 L935.9,288.04 L937.9,288.91 L939.9,289.72 L941.9,290.48 L943.9,291.2 L945.9,291.86 L947.9,292.46 L949.9,293.01 L951.9,293.52 L953.9,293.99 L955.9,294.43 L957.9,294.83 L959.9,295.22 L961.9,295.6 L963.9,295.99 L965.9,296.38 L967.9,296.76 L969.9,297.1 L971.9,297.41 L973.9,297.7 L975.9,297.99 L977.9,298.27 L979.9,298.55 L981.9,298.82 L983.9,299.08 L985.9,299.31 L987.9,299.53 L989.9,299.74 L991.9,299.94 L993.9,300.14 L995.9,300.33 L997.9,300.51 L999.9,300.69 L1001.9,300.87 L1003.9,301.05 L1005.9,301.22 L1007.9,301.37 L1009.9,301.49 L1011.9,301.6 L1013.9,301.71 L1015.9,301.81 L1017.9,301.9 L1019.9,301.99 L1021.9,302.08 L1023.9,302.17 L1025.9,302.25 L1027.9,302.32 L1029.9,302.4 L1031.9,302.47 L1033.9,302.54 L1035.9,302.6 L1037.9,302.67 L1039.9,302.73 L1041.9,302.79 L1043.9,302.84 L1045.9,302.9 L1047.9,302.95 L1049.9,303 L1051.9,303.05 L1053.9,303.1 L1055.9,303.14 L1057.9,303.19 L1059.9,303.24 L1061.9,303.28 L1063.9,303.33 L1065.9,303.37 L1067.9,303.42 L1069.9,303.46 L1071.9,303.5 L1073.9,303.54 L1075.9,303.58 L1077.9,303.61 L1079.9,303.65 L1081.9,303.68 L1083.9,303.71 L1085.9,303.74 L1087.9,303.77 L1089.9,303.8 L1091.9,303.82 L1093.9,303.85 L1095.9,303.87 L1097.9,303.88 L1099.9,303.9 L1101.9,303.91 L1103.9,303.93 L1105.9,303.94 L1107.9,303.95 L1109.9,303.97 L1111.9,303.98 L1113.9,303.99 L1115.9,304 L1117.9,304.01 L1119.9,304.02 L1121.9,304.04 L1123.9,304.05 L1125.9,304.06 L1127.9,304.07 L1129.9,304.08 L1131.9,304.09 L1133.9,304.1 L1135.9,304.1 L1137.9,304.11 L1139.9,304.12 L1141.9,304.13 L1143.9,304.14 L1145.9,304.15 L1147.9,304.15 L1149.9,304.16 L1151.9,304.17 L1153.9,304.18 L1155.9,304.18 L1157.9,304.19 L1159.9,304.2 L1161.9,304.2 L1163.9,304.21 L1165.9,304.21 L1167.9,304.22 L1169.9,304.23 L1171.9,304.23 L1173.9,304.24 L1175.9,304.24 L1177.9,304.25 L1179.9,304.25 L1181.9,304.26 L1183.9,304.26 L1185.9,304.27 L1187.9,304.27 L1189.9,304.28 L1191.9,304.28 L1193.9,304.29 L1195.9,304.29 L1197.9,304.3 L1199.9,304.3 L1201.9,304.3 L1203.9,304.31 L1205.9,304.31 L1207.9,304.32 L1209.9,304.32 L1211.9,304.32 L1213.9,304.33 L1215.9,304.33 L1217.9,304.34 L1219.9,304.34 L1221.9,304.35 L1223.9,304.35 L1225.9,304.35 L1227.9,304.36 L1229.9,304.36 L1231.9,304.37 L1233.9,304.37 L1235.9,304.37 L1237.9,304.38 L1239.9,304.38 L1241.9,304.39 L1243.9,304.39 L1245.9,304.39 L1247.9,304.4 L1249.9,304.4 L1251.9,304.4 L1253.9,304.41 L1255.9,304.41 L1257.9,304.41 L1259.9,304.42 L1261.9,304.42 L1263.9,304.42 L1265.9,304.43 L1267.9,304.43 L1269.9,304.43 L1271.9,304.44 L1273.9,304.44 L1275.9,304.44 L1277.9,304.45 L1279.9,304.45 L1281.9,304.45 L1283.9,304.45 L1285.9,304.46 L1287.9,304.46 L1289.9,304.46 L1291.9,304.46 L1293.9,304.47 L1295.9,304.47 L1297.9,304.47 L1299.9,304.47 L1301.9,304.48 L1303.9,304.48 L1305.9,304.48 L1307.9,304.48 L1309.9,304.48 L1311.9,304.49 L1313.9,304.49 L1315.9,304.49 L1317.9,304.49 L1319.9,304.49 L1321.9,304.49 L1323.9,304.49 L1325.9,304.49 L1327.9,304.5 L1329.9,304.5 L1331.9,304.5 L1333.9,304.5 L1335.9,304.5 L1337.9,304.5 L1339.9,304.5 L1341.9,304.5 L1343.9,304.5 L1345.9,304.5" fill="none" stroke="#E2F5DC" stroke-width="3.4" stroke-linejoin="round" stroke-linecap="round"/>
</g>
<line x1="846.6" y1="307.22" x2="839.1" y2="307.22" stroke="#000" stroke-width="2.2"/>
<text x="834.6" y="315.52" font-size="29" text-anchor="end">0</text>
<line x1="846.6" y1="269.85" x2="839.1" y2="269.85" stroke="#000" stroke-width="2.2"/>
<text x="834.6" y="278.15" font-size="29" text-anchor="end">10</text>
<line x1="846.6" y1="232.47" x2="839.1" y2="232.47" stroke="#000" stroke-width="2.2"/>
<text x="834.6" y="240.77" font-size="29" text-anchor="end">20</text>
<line x1="846.6" y1="195.09" x2="839.1" y2="195.09" stroke="#000" stroke-width="2.2"/>
<text x="834.6" y="203.39" font-size="29" text-anchor="end">30</text>
<line x1="846.6" y1="288.54" x2="842.6" y2="288.54" stroke="#000" stroke-width="2.2"/>
<line x1="846.6" y1="251.16" x2="842.6" y2="251.16" stroke="#000" stroke-width="2.2"/>
<line x1="846.6" y1="213.78" x2="842.6" y2="213.78" stroke="#000" stroke-width="2.2"/>
<line x1="846.6" y1="176.4" x2="842.6" y2="176.4" stroke="#000" stroke-width="2.2"/>
<line x1="1043.2" y1="210.6" x2="1103.6" y2="210.6" stroke="#61BE50" stroke-width="3.2"/>
<text x="1116.7" y="219.1" font-size="26.2" text-anchor="start">TPy</text>
<text x="1185.5" y="219.1" font-size="26.2"><tspan font-family="Liberation Serif" font-size="32" dy="1.2">τ</tspan><tspan dy="-1.2"> = 48.74 µs</tspan></text>
<g clip-path="url(#cb2)">
<path d="M846.0,412.4 L847.0,412.4 L847.0,412.4 L848.0,412.4 L848.0,412.4 L849.0,412.4 L849.0,412.4 L850.0,412.4 L850.0,416.5 L851.0,416.5 L851.0,416.5 L852.0,416.5 L852.0,416.5 L853.0,416.5 L853.0,413.2 L854.0,413.2 L854.0,413.2 L855.0,413.2 L855.0,415.1 L856.0,415.1 L856.0,415.1 L857.0,415.1 L857.0,415.1 L858.0,415.1 L858.0,415.1 L859.0,415.1 L859.0,403.9 L860.0,403.9 L860.0,403.9 L861.0,403.9 L861.0,403.9 L862.0,403.9 L862.0,413.5 L863.0,413.5 L863.0,413.5 L864.0,413.5 L864.0,415.0 L865.0,415.0 L865.0,415.0 L866.0,415.0 L866.0,415.0 L867.0,415.0 L867.0,415.2 L868.0,415.2 L868.0,415.2 L869.0,415.2 L869.0,415.2 L870.0,415.2 L870.0,415.2 L871.0,415.2 L871.0,403.0 L872.0,403.0 L872.0,403.0 L873.0,403.0 L873.0,403.0 L874.0,403.0 L874.0,403.0 L875.0,403.0 L875.0,422.2 L876.0,422.2 L876.0,422.2 L877.0,422.2 L877.0,422.2 L878.0,422.2 L878.0,413.0 L879.0,413.0 L879.0,413.0 L880.0,413.0 L880.0,413.0 L881.0,413.0 L881.0,407.3 L882.0,407.3 L882.0,407.3 L883.0,407.3 L883.0,407.3 L884.0,407.3 L884.0,511.4 L883.0,511.4 L883.0,511.4 L882.0,511.4 L882.0,511.4 L881.0,511.4 L881.0,485.1 L880.0,485.1 L880.0,485.1 L879.0,485.1 L879.0,485.1 L878.0,485.1 L878.0,481.4 L877.0,481.4 L877.0,484.9 L876.0,484.9 L876.0,484.9 L875.0,484.9 L875.0,484.9 L874.0,484.9 L874.0,484.9 L873.0,484.9 L873.0,475.6 L872.0,475.6 L872.0,475.6 L871.0,475.6 L871.0,479.5 L870.0,479.5 L870.0,479.5 L869.0,479.5 L869.0,479.5 L868.0,479.5 L868.0,515.7 L867.0,515.7 L867.0,515.7 L866.0,515.7 L866.0,488.7 L865.0,488.7 L865.0,521.1 L864.0,521.1 L864.0,521.1 L863.0,521.1 L863.0,477.2 L862.0,477.2 L862.0,477.2 L861.0,477.2 L861.0,477.2 L860.0,477.2 L860.0,480.7 L859.0,480.7 L859.0,480.7 L858.0,480.7 L858.0,480.7 L857.0,480.7 L857.0,492.8 L856.0,492.8 L856.0,492.8 L855.0,492.8 L855.0,492.8 L854.0,492.8 L854.0,476.1 L853.0,476.1 L853.0,476.1 L852.0,476.1 L852.0,515.1 L851.0,515.1 L851.0,515.1 L850.0,515.1 L850.0,491.6 L849.0,491.6 L849.0,491.6 L848.0,491.6 L848.0,491.6 L847.0,491.6 L847.0,491.6 L846.0,491.6 Z" fill="#6B9CEB"/>
<path d="M883.8,348.9 L884.8,348.9 L884.8,343.7 L885.8,343.7 L885.8,347.6 L886.8,347.6 L886.8,350.8 L887.8,350.8 L887.8,351.8 L888.8,351.8 L888.8,353.0 L889.8,353.0 L889.8,354.5 L890.8,354.5 L890.8,347.6 L891.8,347.6 L891.8,347.6 L892.8,347.6 L892.8,347.6 L893.8,347.6 L893.8,347.6 L894.8,347.6 L894.8,347.6 L895.8,347.6 L895.8,347.6 L896.8,347.6 L896.8,366.7 L897.8,366.7 L897.8,367.7 L898.8,367.7 L898.8,378.1 L899.8,378.1 L899.8,378.9 L900.8,378.9 L900.8,379.6 L901.8,379.6 L901.8,380.4 L902.8,380.4 L902.8,377.4 L903.8,377.4 L903.8,377.9 L904.8,377.9 L904.8,378.6 L905.8,378.6 L905.8,368.9 L906.8,368.9 L906.8,369.6 L907.8,369.6 L907.8,370.2 L908.8,370.2 L908.8,370.9 L909.8,370.9 L909.8,353.9 L910.8,353.9 L910.8,354.6 L911.8,354.6 L911.8,355.2 L912.8,355.2 L912.8,380.9 L913.8,380.9 L913.8,381.3 L914.8,381.3 L914.8,381.8 L915.8,381.8 L915.8,377.8 L916.8,377.8 L916.8,378.3 L917.8,378.3 L917.8,378.7 L918.8,378.7 L918.8,382.9 L919.8,382.9 L919.8,383.3 L920.8,383.3 L920.8,383.7 L921.8,383.7 L921.8,385.0 L922.8,385.0 L922.8,385.5 L923.8,385.5 L923.8,383.4 L924.8,383.4 L924.8,383.9 L925.8,383.9 L925.8,384.3 L926.8,384.3 L926.8,391.8 L927.8,391.8 L927.8,382.7 L928.8,382.7 L928.8,383.1 L929.8,383.1 L929.8,384.3 L930.8,384.3 L930.8,388.5 L931.8,388.5 L931.8,388.8 L932.8,388.8 L932.8,389.2 L933.8,389.2 L933.8,389.6 L934.8,389.6 L934.8,392.5 L935.8,392.5 L935.8,392.9 L936.8,392.9 L936.8,393.3 L937.8,393.3 L937.8,393.6 L938.8,393.6 L938.8,392.7 L939.8,392.7 L939.8,393.0 L940.8,393.0 L940.8,393.4 L941.8,393.4 L941.8,393.7 L942.8,393.7 L942.8,389.3 L943.8,389.3 L943.8,389.7 L944.8,389.7 L944.8,393.6 L945.8,393.6 L945.8,393.9 L946.8,393.9 L946.8,395.8 L947.8,395.8 L947.8,396.1 L948.8,396.1 L948.8,396.4 L949.8,396.4 L949.8,396.3 L950.8,396.3 L950.8,396.6 L951.8,396.6 L951.8,393.5 L952.8,393.5 L952.8,393.8 L953.8,393.8 L953.8,394.1 L954.8,394.1 L954.8,394.4 L955.8,394.4 L955.8,378.0 L956.8,378.0 L956.8,378.2 L957.8,378.2 L957.8,378.5 L958.8,378.5 L958.8,378.8 L959.8,378.8 L959.8,388.3 L960.8,388.3 L960.8,388.6 L961.8,388.6 L961.8,388.8 L962.8,388.8 L962.8,391.0 L963.8,391.0 L963.8,391.2 L964.8,391.2 L964.8,391.5 L965.8,391.5 L965.8,391.7 L966.8,391.7 L966.8,399.4 L967.8,399.4 L967.8,399.6 L968.8,399.6 L968.8,399.8 L969.8,399.8 L969.8,399.0 L970.8,399.0 L970.8,399.2 L971.8,399.2 L971.8,403.5 L972.8,403.5 L972.8,396.8 L973.8,396.8 L973.8,397.0 L974.8,397.0 L974.8,397.2 L975.8,397.2 L975.8,401.3 L976.8,401.3 L976.8,401.5 L977.8,401.5 L977.8,401.7 L978.8,401.7 L978.8,402.9 L979.8,402.9 L979.8,403.1 L980.8,403.1 L980.8,403.3 L981.8,403.3 L981.8,401.8 L982.8,401.8 L982.8,402.0 L983.8,402.0 L983.8,397.3 L984.8,397.3 L984.8,395.3 L985.8,395.3 L985.8,401.0 L986.8,401.0 L986.8,404.7 L987.8,404.7 L987.8,404.9 L988.8,404.9 L988.8,405.1 L989.8,405.1 L989.8,407.5 L990.8,407.5 L990.8,407.7 L991.8,407.7 L991.8,407.8 L992.8,407.8 L992.8,402.0 L993.8,402.0 L993.8,402.2 L994.8,402.2 L994.8,382.7 L995.8,382.7 L995.8,407.9 L996.8,407.9 L996.8,408.0 L997.8,408.0 L997.8,408.2 L998.8,408.2 L998.8,408.3 L999.8,408.3 L999.8,381.6 L1000.8,381.6 L1000.8,381.7 L1001.8,381.7 L1001.8,405.7 L1002.8,405.7 L1002.8,405.9 L1003.8,405.9 L1003.8,392.5 L1004.8,392.5 L1004.8,392.6 L1005.8,392.6 L1005.8,392.7 L1006.8,392.7 L1006.8,406.8 L1007.8,406.8 L1007.8,406.9 L1008.8,406.9 L1008.8,407.0 L1009.8,407.0 L1009.8,407.1 L1010.8,407.1 L1010.8,407.2 L1011.8,407.2 L1011.8,409.1 L1012.8,409.1 L1012.8,409.2 L1013.8,409.2 L1013.8,409.3 L1014.8,409.3 L1014.8,410.1 L1015.8,410.1 L1015.8,410.2 L1016.8,410.2 L1016.8,410.3 L1017.8,410.3 L1017.8,406.9 L1018.8,406.9 L1018.8,402.3 L1019.8,402.3 L1019.8,397.9 L1020.8,397.9 L1020.8,398.0 L1021.8,398.0 L1021.8,398.1 L1022.8,398.1 L1022.8,401.4 L1023.8,401.4 L1023.8,401.5 L1024.8,401.5 L1024.8,401.6 L1025.8,401.6 L1025.8,401.7 L1026.8,401.7 L1026.8,409.8 L1027.8,409.8 L1027.8,409.9 L1028.8,409.9 L1028.8,410.0 L1029.8,410.0 L1029.8,410.1 L1030.8,410.1 L1030.8,396.9 L1031.8,396.9 L1031.8,417.8 L1032.8,417.8 L1032.8,417.9 L1033.8,417.9 L1033.8,409.5 L1034.8,409.5 L1034.8,409.6 L1035.8,409.6 L1035.8,406.6 L1036.8,406.6 L1036.8,406.6 L1037.8,406.6 L1037.8,406.7 L1038.8,406.7 L1038.8,406.8 L1039.8,406.8 L1039.8,408.8 L1040.8,408.8 L1040.8,408.9 L1041.8,408.9 L1041.8,406.2 L1042.8,406.2 L1042.8,406.3 L1043.8,406.3 L1043.8,406.4 L1044.8,406.4 L1044.8,409.0 L1045.8,409.0 L1045.8,414.2 L1046.8,414.2 L1046.8,414.2 L1047.8,414.2 L1047.8,414.3 L1048.8,414.3 L1048.8,414.4 L1049.8,414.4 L1049.8,410.8 L1050.8,410.8 L1050.8,410.9 L1051.8,410.9 L1051.8,406.8 L1052.8,406.8 L1052.8,406.9 L1053.8,406.9 L1053.8,408.9 L1054.8,408.9 L1054.8,410.4 L1055.8,410.4 L1055.8,410.5 L1056.8,410.5 L1056.8,398.3 L1057.8,398.3 L1057.8,398.3 L1058.8,398.3 L1058.8,408.0 L1059.8,408.0 L1059.8,408.0 L1060.8,408.0 L1060.8,408.1 L1061.8,408.1 L1061.8,389.9 L1062.8,389.9 L1062.8,390.0 L1063.8,390.0 L1063.8,390.1 L1064.8,390.1 L1064.8,416.9 L1065.8,416.9 L1065.8,416.9 L1066.8,416.9 L1066.8,409.1 L1067.8,409.1 L1067.8,409.1 L1068.8,409.1 L1068.8,409.2 L1069.8,409.2 L1069.8,411.7 L1070.8,411.7 L1070.8,412.8 L1071.8,412.8 L1071.8,412.8 L1072.8,412.8 L1072.8,412.9 L1073.8,412.9 L1073.8,402.4 L1074.8,402.4 L1074.8,402.5 L1075.8,402.5 L1075.8,402.5 L1076.8,402.5 L1076.8,392.4 L1077.8,392.4 L1077.8,392.4 L1078.8,392.4 L1078.8,392.5 L1079.8,392.5 L1079.8,412.3 L1080.8,412.3 L1080.8,412.4 L1081.8,412.4 L1081.8,413.3 L1082.8,413.3 L1082.8,413.4 L1083.8,413.4 L1083.8,413.4 L1084.8,413.4 L1084.8,400.9 L1085.8,400.9 L1085.8,400.9 L1086.8,400.9 L1086.8,412.8 L1087.8,412.8 L1087.8,412.9 L1088.8,412.9 L1088.8,412.9 L1089.8,412.9 L1089.8,412.9 L1090.8,412.9 L1090.8,411.1 L1091.8,411.1 L1091.8,411.2 L1092.8,411.2 L1092.8,411.2 L1093.8,411.2 L1093.8,411.2 L1094.8,411.2 L1094.8,405.9 L1095.8,405.9 L1095.8,405.9 L1096.8,405.9 L1096.8,406.0 L1097.8,406.0 L1097.8,412.7 L1098.8,412.7 L1098.8,412.8 L1099.8,412.8 L1099.8,412.8 L1100.8,412.8 L1100.8,416.2 L1101.8,416.2 L1101.8,416.2 L1102.8,416.2 L1102.8,416.3 L1103.8,416.3 L1103.8,411.1 L1104.8,411.1 L1104.8,411.1 L1105.8,411.1 L1105.8,411.1 L1106.8,411.1 L1106.8,396.7 L1107.8,396.7 L1107.8,396.8 L1108.8,396.8 L1108.8,400.5 L1109.8,400.5 L1109.8,400.5 L1110.8,400.5 L1110.8,403.8 L1111.8,403.8 L1111.8,403.8 L1112.8,403.8 L1112.8,403.8 L1113.8,403.8 L1113.8,415.6 L1114.8,415.6 L1114.8,415.7 L1115.8,415.7 L1115.8,415.7 L1116.8,415.7 L1116.8,399.0 L1117.8,399.0 L1117.8,415.3 L1118.8,415.3 L1118.8,415.4 L1119.8,415.4 L1119.8,415.4 L1120.8,415.4 L1120.8,414.6 L1121.8,414.6 L1121.8,414.6 L1122.8,414.6 L1122.8,414.9 L1123.8,414.9 L1123.8,414.9 L1124.8,414.9 L1124.8,414.9 L1125.8,414.9 L1125.8,391.9 L1126.8,391.9 L1126.8,392.0 L1127.8,392.0 L1127.8,410.9 L1128.8,410.9 L1128.8,410.9 L1129.8,410.9 L1129.8,413.1 L1130.8,413.1 L1130.8,413.1 L1131.8,413.1 L1131.8,413.2 L1132.8,413.2 L1132.8,413.2 L1133.8,413.2 L1133.8,404.4 L1134.8,404.4 L1134.8,404.4 L1135.8,404.4 L1135.8,419.2 L1136.8,419.2 L1136.8,419.3 L1137.8,419.3 L1137.8,412.6 L1138.8,412.6 L1138.8,412.6 L1139.8,412.6 L1139.8,412.7 L1140.8,412.7 L1140.8,394.8 L1141.8,394.8 L1141.8,415.0 L1142.8,415.0 L1142.8,415.1 L1143.8,415.1 L1143.8,415.1 L1144.8,415.1 L1144.8,415.1 L1145.8,415.1 L1145.8,414.3 L1146.8,414.3 L1146.8,414.3 L1147.8,414.3 L1147.8,414.3 L1148.8,414.3 L1148.8,414.4 L1149.8,414.4 L1149.8,411.7 L1150.8,411.7 L1150.8,411.7 L1151.8,411.7 L1151.8,409.9 L1152.8,409.9 L1152.8,409.9 L1153.8,409.9 L1153.8,409.9 L1154.8,409.9 L1154.8,409.9 L1155.8,409.9 L1155.8,415.8 L1156.8,415.8 L1156.8,415.8 L1157.8,415.8 L1157.8,415.8 L1158.8,415.8 L1158.8,419.0 L1159.8,419.0 L1159.8,406.4 L1160.8,406.4 L1160.8,406.4 L1161.8,406.4 L1161.8,406.5 L1162.8,406.5 L1162.8,417.2 L1163.8,417.2 L1163.8,416.1 L1164.8,416.1 L1164.8,414.4 L1165.8,414.4 L1165.8,414.4 L1166.8,414.4 L1166.8,412.8 L1167.8,412.8 L1167.8,412.8 L1168.8,412.8 L1168.8,409.0 L1169.8,409.0 L1169.8,409.0 L1170.8,409.0 L1170.8,416.2 L1171.8,416.2 L1171.8,416.3 L1172.8,416.3 L1172.8,418.4 L1173.8,418.4 L1173.8,418.4 L1174.8,418.4 L1174.8,407.2 L1175.8,407.2 L1175.8,407.2 L1176.8,407.2 L1176.8,407.2 L1177.8,407.2 L1177.8,420.0 L1178.8,420.0 L1178.8,418.9 L1179.8,418.9 L1179.8,418.9 L1180.8,418.9 L1180.8,418.9 L1181.8,418.9 L1181.8,418.9 L1182.8,418.9 L1182.8,414.4 L1183.8,414.4 L1183.8,414.4 L1184.8,414.4 L1184.8,414.4 L1185.8,414.4 L1185.8,416.7 L1186.8,416.7 L1186.8,416.7 L1187.8,416.7 L1187.8,416.8 L1188.8,416.8 L1188.8,413.8 L1189.8,413.8 L1189.8,419.1 L1190.8,419.1 L1190.8,419.2 L1191.8,419.2 L1191.8,392.4 L1192.8,392.4 L1192.8,392.4 L1193.8,392.4 L1193.8,418.3 L1194.8,418.3 L1194.8,418.3 L1195.8,418.3 L1195.8,418.4 L1196.8,418.4 L1196.8,418.4 L1197.8,418.4 L1197.8,417.1 L1198.8,417.1 L1198.8,417.1 L1199.8,417.1 L1199.8,417.1 L1200.8,417.1 L1200.8,414.6 L1201.8,414.6 L1201.8,417.8 L1202.8,417.8 L1202.8,417.8 L1203.8,417.8 L1203.8,417.8 L1204.8,417.8 L1204.8,407.8 L1205.8,407.8 L1205.8,407.9 L1206.8,407.9 L1206.8,416.0 L1207.8,416.0 L1207.8,416.1 L1208.8,416.1 L1208.8,396.7 L1209.8,396.7 L1209.8,408.0 L1210.8,408.0 L1210.8,408.1 L1211.8,408.1 L1211.8,415.6 L1212.8,415.6 L1212.8,415.6 L1213.8,415.6 L1213.8,415.6 L1214.8,415.6 L1214.8,415.6 L1215.8,415.6 L1215.8,420.2 L1216.8,420.2 L1216.8,419.1 L1217.8,419.1 L1217.8,419.1 L1218.8,419.1 L1218.8,419.1 L1219.8,419.1 L1219.8,413.2 L1220.8,413.2 L1220.8,413.2 L1221.8,413.2 L1221.8,413.2 L1222.8,413.2 L1222.8,414.8 L1223.8,414.8 L1223.8,414.8 L1224.8,414.8 L1224.8,414.8 L1225.8,414.8 L1225.8,415.4 L1226.8,415.4 L1226.8,415.5 L1227.8,415.5 L1227.8,417.0 L1228.8,417.0 L1228.8,417.0 L1229.8,417.0 L1229.8,408.4 L1230.8,408.4 L1230.8,408.5 L1231.8,408.5 L1231.8,408.5 L1232.8,408.5 L1232.8,406.0 L1233.8,406.0 L1233.8,406.1 L1234.8,406.1 L1234.8,409.3 L1235.8,409.3 L1235.8,409.3 L1236.8,409.3 L1236.8,413.8 L1237.8,413.8 L1237.8,413.9 L1238.8,413.9 L1238.8,413.9 L1239.8,413.9 L1239.8,413.9 L1240.8,413.9 L1240.8,420.2 L1241.8,420.2 L1241.8,420.2 L1242.8,420.2 L1242.8,424.3 L1243.8,424.3 L1243.8,424.3 L1244.8,424.3 L1244.8,424.3 L1245.8,424.3 L1245.8,404.0 L1246.8,404.0 L1246.8,404.0 L1247.8,404.0 L1247.8,420.6 L1248.8,420.6 L1248.8,420.6 L1249.8,420.6 L1249.8,420.6 L1250.8,420.6 L1250.8,412.1 L1251.8,412.1 L1251.8,412.1 L1252.8,412.1 L1252.8,412.1 L1253.8,412.1 L1253.8,421.8 L1254.8,421.8 L1254.8,416.5 L1255.8,416.5 L1255.8,416.5 L1256.8,416.5 L1256.8,416.5 L1257.8,416.5 L1257.8,419.7 L1258.8,419.7 L1258.8,419.7 L1259.8,419.7 L1259.8,419.7 L1260.8,419.7 L1260.8,419.7 L1261.8,419.7 L1261.8,398.7 L1262.8,398.7 L1262.8,398.7 L1263.8,398.7 L1263.8,418.3 L1264.8,418.3 L1264.8,418.3 L1265.8,418.3 L1265.8,418.7 L1266.8,418.7 L1266.8,418.7 L1267.8,418.7 L1267.8,412.1 L1268.8,412.1 L1268.8,412.1 L1269.8,412.1 L1269.8,395.5 L1270.8,395.5 L1270.8,395.5 L1271.8,395.5 L1271.8,395.5 L1272.8,395.5 L1272.8,418.2 L1273.8,418.2 L1273.8,418.2 L1274.8,418.2 L1274.8,414.3 L1275.8,414.3 L1275.8,414.3 L1276.8,414.3 L1276.8,414.3 L1277.8,414.3 L1277.8,410.1 L1278.8,410.1 L1278.8,410.1 L1279.8,410.1 L1279.8,410.1 L1280.8,410.1 L1280.8,410.1 L1281.8,410.1 L1281.8,414.7 L1282.8,414.7 L1282.8,414.7 L1283.8,414.7 L1283.8,417.8 L1284.8,417.8 L1284.8,417.8 L1285.8,417.8 L1285.8,413.6 L1286.8,413.6 L1286.8,413.6 L1287.8,413.6 L1287.8,411.7 L1288.8,411.7 L1288.8,411.8 L1289.8,411.8 L1289.8,411.8 L1290.8,411.8 L1290.8,411.8 L1291.8,411.8 L1291.8,417.3 L1292.8,417.3 L1292.8,417.3 L1293.8,417.3 L1293.8,411.3 L1294.8,411.3 L1294.8,411.3 L1295.8,411.3 L1295.8,411.4 L1296.8,411.4 L1296.8,396.0 L1297.8,396.0 L1297.8,396.0 L1298.8,396.0 L1298.8,398.8 L1299.8,398.8 L1299.8,398.8 L1300.8,398.8 L1300.8,421.2 L1301.8,421.2 L1301.8,421.3 L1302.8,421.3 L1302.8,421.3 L1303.8,421.3 L1303.8,421.3 L1304.8,421.3 L1304.8,414.1 L1305.8,414.1 L1305.8,414.1 L1306.8,414.1 L1306.8,414.1 L1307.8,414.1 L1307.8,414.1 L1308.8,414.1 L1308.8,421.3 L1309.8,421.3 L1309.8,421.3 L1310.8,421.3 L1310.8,416.0 L1311.8,416.0 L1311.8,416.0 L1312.8,416.0 L1312.8,416.0 L1313.8,416.0 L1313.8,416.0 L1314.8,416.0 L1314.8,420.7 L1315.8,420.7 L1315.8,420.8 L1316.8,420.8 L1316.8,420.8 L1317.8,420.8 L1317.8,418.1 L1318.8,418.1 L1318.8,418.1 L1319.8,418.1 L1319.8,418.1 L1320.8,418.1 L1320.8,401.9 L1321.8,401.9 L1321.8,402.0 L1322.8,402.0 L1322.8,402.0 L1323.8,402.0 L1323.8,420.7 L1324.8,420.7 L1324.8,420.7 L1325.8,420.7 L1325.8,415.9 L1326.8,415.9 L1326.8,412.7 L1327.8,412.7 L1327.8,412.7 L1328.8,412.7 L1328.8,412.7 L1329.8,412.7 L1329.8,412.7 L1330.8,412.7 L1330.8,413.2 L1331.8,413.2 L1331.8,413.3 L1332.8,413.3 L1332.8,413.3 L1333.8,413.3 L1333.8,418.1 L1334.8,418.1 L1334.8,418.1 L1335.8,418.1 L1335.8,418.1 L1336.8,418.1 L1336.8,420.0 L1337.8,420.0 L1337.8,420.1 L1338.8,420.1 L1338.8,420.1 L1339.8,420.1 L1339.8,420.1 L1340.8,420.1 L1340.8,417.4 L1341.8,417.4 L1341.8,417.4 L1342.8,417.4 L1342.8,411.5 L1343.8,411.5 L1343.8,411.5 L1344.8,411.5 L1344.8,413.9 L1345.8,413.9 L1345.8,416.2 L1346.8,416.2 L1346.8,464.7 L1345.8,464.7 L1345.8,479.7 L1344.8,479.7 L1344.8,479.7 L1343.8,479.7 L1343.8,464.5 L1342.8,464.5 L1342.8,464.5 L1341.8,464.5 L1341.8,468.8 L1340.8,468.8 L1340.8,468.8 L1339.8,468.8 L1339.8,468.8 L1338.8,468.8 L1338.8,468.5 L1337.8,468.5 L1337.8,460.4 L1336.8,460.4 L1336.8,460.4 L1335.8,460.4 L1335.8,467.0 L1334.8,467.0 L1334.8,467.0 L1333.8,467.0 L1333.8,469.8 L1332.8,469.8 L1332.8,469.8 L1331.8,469.8 L1331.8,469.8 L1330.8,469.8 L1330.8,469.8 L1329.8,469.8 L1329.8,484.5 L1328.8,484.5 L1328.8,484.5 L1327.8,484.5 L1327.8,469.9 L1326.8,469.9 L1326.8,469.9 L1325.8,469.9 L1325.8,469.9 L1324.8,469.9 L1324.8,463.1 L1323.8,463.1 L1323.8,463.1 L1322.8,463.1 L1322.8,463.1 L1321.8,463.1 L1321.8,463.1 L1320.8,463.1 L1320.8,461.7 L1319.8,461.7 L1319.8,461.2 L1318.8,461.2 L1318.8,461.2 L1317.8,461.2 L1317.8,461.2 L1316.8,461.2 L1316.8,472.7 L1315.8,472.7 L1315.8,472.7 L1314.8,472.7 L1314.8,472.7 L1313.8,472.7 L1313.8,466.7 L1312.8,466.7 L1312.8,466.7 L1311.8,466.7 L1311.8,466.7 L1310.8,466.7 L1310.8,464.0 L1309.8,464.0 L1309.8,464.0 L1308.8,464.0 L1308.8,464.0 L1307.8,464.0 L1307.8,464.0 L1306.8,464.0 L1306.8,464.0 L1305.8,464.0 L1305.8,472.8 L1304.8,472.8 L1304.8,472.8 L1303.8,472.8 L1303.8,472.8 L1302.8,472.8 L1302.8,472.8 L1301.8,472.8 L1301.8,462.9 L1300.8,462.9 L1300.8,462.9 L1299.8,462.9 L1299.8,465.9 L1298.8,465.9 L1298.8,465.9 L1297.8,465.9 L1297.8,465.9 L1296.8,465.9 L1296.8,465.9 L1295.8,465.9 L1295.8,481.9 L1294.8,481.9 L1294.8,481.9 L1293.8,481.9 L1293.8,481.9 L1292.8,481.9 L1292.8,463.5 L1291.8,463.5 L1291.8,463.5 L1290.8,463.5 L1290.8,469.7 L1289.8,469.7 L1289.8,469.6 L1288.8,469.6 L1288.8,469.6 L1287.8,469.6 L1287.8,469.6 L1286.8,469.6 L1286.8,458.9 L1285.8,458.9 L1285.8,458.9 L1284.8,458.9 L1284.8,481.6 L1283.8,481.6 L1283.8,481.6 L1282.8,481.6 L1282.8,461.1 L1281.8,461.1 L1281.8,475.4 L1280.8,475.4 L1280.8,457.1 L1279.8,457.1 L1279.8,457.0 L1278.8,457.0 L1278.8,457.0 L1277.8,457.0 L1277.8,457.0 L1276.8,457.0 L1276.8,463.5 L1275.8,463.5 L1275.8,463.5 L1274.8,463.5 L1274.8,463.5 L1273.8,463.5 L1273.8,462.1 L1272.8,462.1 L1272.8,462.1 L1271.8,462.1 L1271.8,462.1 L1270.8,462.1 L1270.8,456.2 L1269.8,456.2 L1269.8,458.4 L1268.8,458.4 L1268.8,458.4 L1267.8,458.4 L1267.8,477.6 L1266.8,477.6 L1266.8,477.5 L1265.8,477.5 L1265.8,459.5 L1264.8,459.5 L1264.8,459.5 L1263.8,459.5 L1263.8,459.5 L1262.8,459.5 L1262.8,467.1 L1261.8,467.1 L1261.8,467.1 L1260.8,467.1 L1260.8,467.1 L1259.8,467.1 L1259.8,462.1 L1258.8,462.1 L1258.8,462.0 L1257.8,462.0 L1257.8,461.5 L1256.8,461.5 L1256.8,461.5 L1255.8,461.5 L1255.8,464.9 L1254.8,464.9 L1254.8,464.9 L1253.8,464.9 L1253.8,464.9 L1252.8,464.9 L1252.8,464.9 L1251.8,464.9 L1251.8,465.2 L1250.8,465.2 L1250.8,465.1 L1249.8,465.1 L1249.8,470.3 L1248.8,470.3 L1248.8,470.3 L1247.8,470.3 L1247.8,470.3 L1246.8,470.3 L1246.8,462.7 L1245.8,462.7 L1245.8,462.7 L1244.8,462.7 L1244.8,461.7 L1243.8,461.7 L1243.8,461.6 L1242.8,461.6 L1242.8,461.6 L1241.8,461.6 L1241.8,466.6 L1240.8,466.6 L1240.8,466.6 L1239.8,466.6 L1239.8,467.0 L1238.8,467.0 L1238.8,467.0 L1237.8,467.0 L1237.8,467.0 L1236.8,467.0 L1236.8,461.6 L1235.8,461.6 L1235.8,461.6 L1234.8,461.6 L1234.8,463.8 L1233.8,463.8 L1233.8,463.8 L1232.8,463.8 L1232.8,476.5 L1231.8,476.5 L1231.8,476.5 L1230.8,476.5 L1230.8,476.5 L1229.8,476.5 L1229.8,464.7 L1228.8,464.7 L1228.8,464.7 L1227.8,464.7 L1227.8,464.7 L1226.8,464.7 L1226.8,470.5 L1225.8,470.5 L1225.8,459.2 L1224.8,459.2 L1224.8,459.2 L1223.8,459.2 L1223.8,459.2 L1222.8,459.2 L1222.8,459.2 L1221.8,459.2 L1221.8,463.0 L1220.8,463.0 L1220.8,463.0 L1219.8,463.0 L1219.8,463.0 L1218.8,463.0 L1218.8,463.0 L1217.8,463.0 L1217.8,483.4 L1216.8,483.4 L1216.8,463.1 L1215.8,463.1 L1215.8,463.1 L1214.8,463.1 L1214.8,462.1 L1213.8,462.1 L1213.8,462.1 L1212.8,462.1 L1212.8,460.1 L1211.8,460.1 L1211.8,460.1 L1210.8,460.1 L1210.8,464.8 L1209.8,464.8 L1209.8,464.8 L1208.8,464.8 L1208.8,464.8 L1207.8,464.8 L1207.8,464.7 L1206.8,464.7 L1206.8,481.5 L1205.8,481.5 L1205.8,481.4 L1204.8,481.4 L1204.8,481.4 L1203.8,481.4 L1203.8,463.2 L1202.8,463.2 L1202.8,463.2 L1201.8,463.2 L1201.8,463.2 L1200.8,463.2 L1200.8,463.2 L1199.8,463.2 L1199.8,469.1 L1198.8,469.1 L1198.8,469.1 L1197.8,469.1 L1197.8,469.1 L1196.8,469.1 L1196.8,465.2 L1195.8,465.2 L1195.8,472.9 L1194.8,472.9 L1194.8,472.9 L1193.8,472.9 L1193.8,472.9 L1192.8,472.9 L1192.8,472.9 L1191.8,472.9 L1191.8,479.9 L1190.8,479.9 L1190.8,479.9 L1189.8,479.9 L1189.8,459.1 L1188.8,459.1 L1188.8,459.1 L1187.8,459.1 L1187.8,459.1 L1186.8,459.1 L1186.8,462.6 L1185.8,462.6 L1185.8,462.5 L1184.8,462.5 L1184.8,462.5 L1183.8,462.5 L1183.8,464.1 L1182.8,464.1 L1182.8,463.2 L1181.8,463.2 L1181.8,461.3 L1180.8,461.3 L1180.8,461.2 L1179.8,461.2 L1179.8,461.2 L1178.8,461.2 L1178.8,461.4 L1177.8,461.4 L1177.8,461.4 L1176.8,461.4 L1176.8,461.4 L1175.8,461.4 L1175.8,463.2 L1174.8,463.2 L1174.8,463.1 L1173.8,463.1 L1173.8,456.1 L1172.8,456.1 L1172.8,456.0 L1171.8,456.0 L1171.8,456.0 L1170.8,456.0 L1170.8,460.4 L1169.8,460.4 L1169.8,460.4 L1168.8,460.4 L1168.8,460.4 L1167.8,460.4 L1167.8,460.4 L1166.8,460.4 L1166.8,459.0 L1165.8,459.0 L1165.8,459.0 L1164.8,459.0 L1164.8,458.9 L1163.8,458.9 L1163.8,470.3 L1162.8,470.3 L1162.8,470.3 L1161.8,470.3 L1161.8,467.7 L1160.8,467.7 L1160.8,467.6 L1159.8,467.6 L1159.8,467.6 L1158.8,467.6 L1158.8,467.6 L1157.8,467.6 L1157.8,460.6 L1156.8,460.6 L1156.8,460.6 L1155.8,460.6 L1155.8,460.6 L1154.8,460.6 L1154.8,463.1 L1153.8,463.1 L1153.8,463.1 L1152.8,463.1 L1152.8,466.8 L1151.8,466.8 L1151.8,466.8 L1150.8,466.8 L1150.8,463.4 L1149.8,463.4 L1149.8,463.4 L1148.8,463.4 L1148.8,463.4 L1147.8,463.4 L1147.8,463.4 L1146.8,463.4 L1146.8,460.6 L1145.8,460.6 L1145.8,460.5 L1144.8,460.5 L1144.8,460.5 L1143.8,460.5 L1143.8,457.8 L1142.8,457.8 L1142.8,457.8 L1141.8,457.8 L1141.8,457.7 L1140.8,457.7 L1140.8,457.7 L1139.8,457.7 L1139.8,456.9 L1138.8,456.9 L1138.8,456.9 L1137.8,456.9 L1137.8,456.9 L1136.8,456.9 L1136.8,456.9 L1135.8,456.9 L1135.8,460.1 L1134.8,460.1 L1134.8,460.0 L1133.8,460.0 L1133.8,478.3 L1132.8,478.3 L1132.8,478.3 L1131.8,478.3 L1131.8,478.3 L1130.8,478.3 L1130.8,478.2 L1129.8,478.2 L1129.8,471.2 L1128.8,471.2 L1128.8,471.2 L1127.8,471.2 L1127.8,462.2 L1126.8,462.2 L1126.8,462.1 L1125.8,462.1 L1125.8,461.1 L1124.8,461.1 L1124.8,461.1 L1123.8,461.1 L1123.8,461.0 L1122.8,461.0 L1122.8,461.0 L1121.8,461.0 L1121.8,464.1 L1120.8,464.1 L1120.8,464.0 L1119.8,464.0 L1119.8,463.1 L1118.8,463.1 L1118.8,463.0 L1117.8,463.0 L1117.8,463.0 L1116.8,463.0 L1116.8,462.6 L1115.8,462.6 L1115.8,462.6 L1114.8,462.6 L1114.8,470.5 L1113.8,470.5 L1113.8,470.5 L1112.8,470.5 L1112.8,470.5 L1111.8,470.5 L1111.8,470.5 L1110.8,470.5 L1110.8,457.1 L1109.8,457.1 L1109.8,457.1 L1108.8,457.1 L1108.8,457.0 L1107.8,457.0 L1107.8,462.0 L1106.8,462.0 L1106.8,462.0 L1105.8,462.0 L1105.8,461.9 L1104.8,461.9 L1104.8,461.9 L1103.8,461.9 L1103.8,462.2 L1102.8,462.2 L1102.8,460.9 L1101.8,460.9 L1101.8,460.8 L1100.8,460.8 L1100.8,460.5 L1099.8,460.5 L1099.8,460.5 L1098.8,460.5 L1098.8,460.5 L1097.8,460.5 L1097.8,461.6 L1096.8,461.6 L1096.8,461.6 L1095.8,461.6 L1095.8,466.1 L1094.8,466.1 L1094.8,466.0 L1093.8,466.0 L1093.8,466.0 L1092.8,466.0 L1092.8,460.1 L1091.8,460.1 L1091.8,460.1 L1090.8,460.1 L1090.8,460.1 L1089.8,460.1 L1089.8,457.9 L1088.8,457.9 L1088.8,460.2 L1087.8,460.2 L1087.8,460.1 L1086.8,460.1 L1086.8,460.7 L1085.8,460.7 L1085.8,464.2 L1084.8,464.2 L1084.8,464.1 L1083.8,464.1 L1083.8,464.1 L1082.8,464.1 L1082.8,464.1 L1081.8,464.1 L1081.8,479.4 L1080.8,479.4 L1080.8,479.3 L1079.8,479.3 L1079.8,461.5 L1078.8,461.5 L1078.8,461.5 L1077.8,461.5 L1077.8,461.4 L1076.8,461.4 L1076.8,461.4 L1075.8,461.4 L1075.8,459.4 L1074.8,459.4 L1074.8,456.8 L1073.8,456.8 L1073.8,460.3 L1072.8,460.3 L1072.8,460.2 L1071.8,460.2 L1071.8,460.2 L1070.8,460.2 L1070.8,457.7 L1069.8,457.7 L1069.8,457.7 L1068.8,457.7 L1068.8,457.6 L1067.8,457.6 L1067.8,457.6 L1066.8,457.6 L1066.8,463.5 L1065.8,463.5 L1065.8,463.4 L1064.8,463.4 L1064.8,452.5 L1063.8,452.5 L1063.8,452.4 L1062.8,452.4 L1062.8,452.4 L1061.8,452.4 L1061.8,455.4 L1060.8,455.4 L1060.8,457.9 L1059.8,457.9 L1059.8,457.9 L1058.8,457.9 L1058.8,459.6 L1057.8,459.6 L1057.8,459.6 L1056.8,459.6 L1056.8,460.6 L1055.8,460.6 L1055.8,460.5 L1054.8,460.5 L1054.8,460.5 L1053.8,460.5 L1053.8,460.4 L1052.8,460.4 L1052.8,476.2 L1051.8,476.2 L1051.8,476.2 L1050.8,476.2 L1050.8,476.2 L1049.8,476.2 L1049.8,467.0 L1048.8,467.0 L1048.8,467.0 L1047.8,467.0 L1047.8,466.9 L1046.8,466.9 L1046.8,466.9 L1045.8,466.9 L1045.8,458.3 L1044.8,458.3 L1044.8,458.3 L1043.8,458.3 L1043.8,461.3 L1042.8,461.3 L1042.8,461.3 L1041.8,461.3 L1041.8,463.4 L1040.8,463.4 L1040.8,463.4 L1039.8,463.4 L1039.8,463.3 L1038.8,463.3 L1038.8,458.0 L1037.8,458.0 L1037.8,476.3 L1036.8,476.3 L1036.8,476.2 L1035.8,476.2 L1035.8,459.1 L1034.8,459.1 L1034.8,459.2 L1033.8,459.2 L1033.8,459.1 L1032.8,459.1 L1032.8,459.0 L1031.8,459.0 L1031.8,459.0 L1030.8,459.0 L1030.8,461.9 L1029.8,461.9 L1029.8,461.8 L1028.8,461.8 L1028.8,467.0 L1027.8,467.0 L1027.8,466.9 L1026.8,466.9 L1026.8,456.9 L1025.8,456.9 L1025.8,456.8 L1024.8,456.8 L1024.8,454.7 L1023.8,454.7 L1023.8,454.6 L1022.8,454.6 L1022.8,454.5 L1021.8,454.5 L1021.8,452.8 L1020.8,452.8 L1020.8,452.7 L1019.8,452.7 L1019.8,454.4 L1018.8,454.4 L1018.8,454.3 L1017.8,454.3 L1017.8,454.2 L1016.8,454.2 L1016.8,450.5 L1015.8,450.5 L1015.8,450.4 L1014.8,450.4 L1014.8,456.6 L1013.8,456.6 L1013.8,470.6 L1012.8,470.6 L1012.8,470.5 L1011.8,470.5 L1011.8,470.4 L1010.8,470.4 L1010.8,470.3 L1009.8,470.3 L1009.8,459.4 L1008.8,459.4 L1008.8,459.3 L1007.8,459.3 L1007.8,454.3 L1006.8,454.3 L1006.8,454.2 L1005.8,454.2 L1005.8,454.1 L1004.8,454.1 L1004.8,469.4 L1003.8,469.4 L1003.8,469.3 L1002.8,469.3 L1002.8,467.9 L1001.8,467.9 L1001.8,467.8 L1000.8,467.8 L1000.8,452.1 L999.8,452.1 L999.8,452.0 L998.8,452.0 L998.8,452.7 L997.8,452.7 L997.8,452.6 L996.8,452.6 L996.8,452.4 L995.8,452.4 L995.8,452.3 L994.8,452.3 L994.8,455.9 L993.8,455.9 L993.8,455.7 L992.8,455.7 L992.8,455.2 L991.8,455.2 L991.8,455.1 L990.8,455.1 L990.8,454.9 L989.8,454.9 L989.8,459.6 L988.8,459.6 L988.8,459.4 L987.8,459.4 L987.8,452.1 L986.8,452.1 L986.8,452.0 L985.8,452.0 L985.8,451.5 L984.8,451.5 L984.8,446.5 L983.8,446.5 L983.8,446.3 L982.8,446.3 L982.8,446.1 L981.8,446.1 L981.8,450.6 L980.8,450.6 L980.8,469.9 L979.8,469.9 L979.8,469.8 L978.8,469.8 L978.8,469.7 L977.8,469.7 L977.8,455.6 L976.8,455.6 L976.8,455.4 L975.8,455.4 L975.8,455.3 L974.8,455.3 L974.8,462.7 L973.8,462.7 L973.8,462.6 L972.8,462.6 L972.8,462.4 L971.8,462.4 L971.8,446.9 L970.8,446.9 L970.8,446.7 L969.8,446.7 L969.8,451.6 L968.8,451.6 L968.8,451.5 L967.8,451.5 L967.8,453.2 L966.8,453.2 L966.8,453.1 L965.8,453.1 L965.8,449.6 L964.8,449.6 L964.8,449.4 L963.8,449.4 L963.8,449.2 L962.8,449.2 L962.8,452.5 L961.8,452.5 L961.8,452.3 L960.8,452.3 L960.8,452.1 L959.8,452.1 L959.8,452.3 L958.8,452.3 L958.8,452.1 L957.8,452.1 L957.8,447.5 L956.8,447.5 L956.8,447.3 L955.8,447.3 L955.8,447.1 L954.8,447.1 L954.8,445.7 L953.8,445.7 L953.8,445.4 L952.8,445.4 L952.8,445.2 L951.8,445.2 L951.8,444.9 L950.8,444.9 L950.8,453.7 L949.8,453.7 L949.8,453.5 L948.8,453.5 L948.8,442.7 L947.8,442.7 L947.8,442.4 L946.8,442.4 L946.8,442.2 L945.8,442.2 L945.8,447.7 L944.8,447.7 L944.8,447.4 L943.8,447.4 L943.8,447.2 L942.8,447.2 L942.8,440.0 L941.8,440.0 L941.8,439.7 L940.8,439.7 L940.8,439.5 L939.8,439.5 L939.8,438.3 L938.8,438.3 L938.8,438.0 L937.8,438.0 L937.8,437.8 L936.8,437.8 L936.8,437.5 L935.8,437.5 L935.8,437.6 L934.8,437.6 L934.8,437.4 L933.8,437.4 L933.8,448.3 L932.8,448.3 L932.8,448.0 L931.8,448.0 L931.8,447.8 L930.8,447.8 L930.8,447.5 L929.8,447.5 L929.8,456.8 L928.8,456.8 L928.8,456.6 L927.8,456.6 L927.8,456.4 L926.8,456.4 L926.8,443.9 L925.8,443.9 L925.8,443.6 L924.8,443.6 L924.8,445.0 L923.8,445.0 L923.8,444.7 L922.8,444.7 L922.8,449.5 L921.8,449.5 L921.8,440.7 L920.8,440.7 L920.8,440.4 L919.8,440.4 L919.8,439.2 L918.8,439.2 L918.8,438.9 L917.8,438.9 L917.8,438.6 L916.8,438.6 L916.8,460.1 L915.8,460.1 L915.8,459.9 L914.8,459.9 L914.8,459.7 L913.8,459.7 L913.8,441.6 L912.8,441.6 L912.8,457.5 L911.8,457.5 L911.8,457.3 L910.8,457.3 L910.8,457.1 L909.8,457.1 L909.8,440.7 L908.8,440.7 L908.8,440.4 L907.8,440.4 L907.8,437.4 L906.8,437.4 L906.8,437.1 L905.8,437.1 L905.8,440.9 L904.8,440.9 L904.8,440.5 L903.8,440.5 L903.8,440.2 L902.8,440.2 L902.8,425.2 L901.8,425.2 L901.8,424.8 L900.8,424.8 L900.8,424.4 L899.8,424.4 L899.8,456.7 L898.8,456.7 L898.8,456.4 L897.8,456.4 L897.8,434.1 L896.8,434.1 L896.8,433.7 L895.8,433.7 L895.8,428.6 L894.8,428.6 L894.8,428.1 L893.8,428.1 L893.8,440.0 L892.8,440.0 L892.8,439.7 L891.8,439.7 L891.8,458.0 L890.8,458.0 L890.8,457.7 L889.8,457.7 L889.8,457.4 L888.8,457.4 L888.8,457.5 L887.8,457.5 L887.8,434.9 L886.8,434.9 L886.8,479.2 L885.8,479.2 L885.8,479.2 L884.8,479.2 L884.8,479.2 L883.8,479.2 Z" fill="#6B9CEB"/>
<path d="M889.2,394.99 L889.9,395.42 L891.9,396.64 L893.9,397.83 L895.9,398.99 L897.9,400.11 L899.9,401.2 L901.9,402.25 L903.9,403.26 L905.9,404.23 L907.9,405.15 L909.9,406.03 L911.9,406.88 L913.9,407.7 L915.9,408.49 L917.9,409.26 L919.9,410.02 L921.9,410.77 L923.9,411.51 L925.9,412.26 L927.9,412.99 L929.9,413.71 L931.9,414.42 L933.9,415.12 L935.9,415.81 L937.9,416.49 L939.9,417.15 L941.9,417.8 L943.9,418.44 L945.9,419.08 L947.9,419.71 L949.9,420.33 L951.9,420.94 L953.9,421.53 L955.9,422.1 L957.9,422.65 L959.9,423.17 L961.9,423.68 L963.9,424.17 L965.9,424.64 L967.9,425.1 L969.9,425.54 L971.9,425.98 L973.9,426.4 L975.9,426.81 L977.9,427.22 L979.9,427.62 L981.9,428.02 L983.9,428.41 L985.9,428.79 L987.9,429.17 L989.9,429.54 L991.9,429.9 L993.9,430.24 L995.9,430.57 L997.9,430.89 L999.9,431.19 L1001.9,431.47 L1003.9,431.75 L1005.9,432.03 L1007.9,432.3 L1009.9,432.56 L1011.9,432.82 L1013.9,433.07 L1015.9,433.32 L1017.9,433.56 L1019.9,433.79 L1021.9,434.02 L1023.9,434.24 L1025.9,434.45 L1027.9,434.66 L1029.9,434.85 L1031.9,435.05 L1033.9,435.23 L1035.9,435.41 L1037.9,435.57 L1039.9,435.74 L1041.9,435.89 L1043.9,436.04 L1045.9,436.18 L1047.9,436.32 L1049.9,436.46 L1051.9,436.59 L1053.9,436.71 L1055.9,436.83 L1057.9,436.95 L1059.9,437.07 L1061.9,437.18 L1063.9,437.3 L1065.9,437.41 L1067.9,437.52 L1069.9,437.63 L1071.9,437.74 L1073.9,437.84 L1075.9,437.95 L1077.9,438.05 L1079.9,438.15 L1081.9,438.25 L1083.9,438.35 L1085.9,438.44 L1087.9,438.53 L1089.9,438.62 L1091.9,438.7 L1093.9,438.78 L1095.9,438.86 L1097.9,438.93 L1099.9,439 L1101.9,439.06 L1103.9,439.13 L1105.9,439.19 L1107.9,439.25 L1109.9,439.31 L1111.9,439.37 L1113.9,439.43 L1115.9,439.49 L1117.9,439.55 L1119.9,439.61 L1121.9,439.66 L1123.9,439.72 L1125.9,439.77 L1127.9,439.83 L1129.9,439.88 L1131.9,439.93 L1133.9,439.98 L1135.9,440.03 L1137.9,440.08 L1139.9,440.13 L1141.9,440.18 L1143.9,440.23 L1145.9,440.28 L1147.9,440.32 L1149.9,440.37 L1151.9,440.41 L1153.9,440.46 L1155.9,440.5 L1157.9,440.54 L1159.9,440.58 L1161.9,440.62 L1163.9,440.67 L1165.9,440.71 L1167.9,440.75 L1169.9,440.78 L1171.9,440.82 L1173.9,440.86 L1175.9,440.9 L1177.9,440.93 L1179.9,440.97 L1181.9,441 L1183.9,441.04 L1185.9,441.07 L1187.9,441.11 L1189.9,441.14 L1191.9,441.17 L1193.9,441.2 L1195.9,441.24 L1197.9,441.27 L1199.9,441.3 L1201.9,441.33 L1203.9,441.36 L1205.9,441.39 L1207.9,441.42 L1209.9,441.45 L1211.9,441.48 L1213.9,441.51 L1215.9,441.54 L1217.9,441.57 L1219.9,441.6 L1221.9,441.63 L1223.9,441.66 L1225.9,441.69 L1227.9,441.71 L1229.9,441.74 L1231.9,441.77 L1233.9,441.8 L1235.9,441.83 L1237.9,441.86 L1239.9,441.88 L1241.9,441.91 L1243.9,441.94 L1245.9,441.97 L1247.9,441.99 L1249.9,442.02 L1251.9,442.05 L1253.9,442.07 L1255.9,442.1 L1257.9,442.12 L1259.9,442.15 L1261.9,442.17 L1263.9,442.2 L1265.9,442.22 L1267.9,442.25 L1269.9,442.27 L1271.9,442.3 L1273.9,442.32 L1275.9,442.34 L1277.9,442.37 L1279.9,442.39 L1281.9,442.41 L1283.9,442.43 L1285.9,442.45 L1287.9,442.47 L1289.9,442.49 L1291.9,442.52 L1293.9,442.54 L1295.9,442.55 L1297.9,442.57 L1299.9,442.59 L1301.9,442.61 L1303.9,442.63 L1305.9,442.65 L1307.9,442.66 L1309.9,442.68 L1311.9,442.7 L1313.9,442.71 L1315.9,442.73 L1317.9,442.74 L1319.9,442.76 L1321.9,442.77 L1323.9,442.79 L1325.9,442.8 L1327.9,442.81 L1329.9,442.82 L1331.9,442.83 L1333.9,442.85 L1335.9,442.86 L1337.9,442.87 L1339.9,442.88 L1341.9,442.89 L1343.9,442.89 L1345.9,442.9" fill="none" stroke="#D0E6EA" stroke-width="3.4" stroke-linejoin="round" stroke-linecap="round"/>
</g>
<line x1="846.6" y1="452.9" x2="839.1" y2="452.9" stroke="#000" stroke-width="2.2"/>
<text x="834.6" y="461.2" font-size="29" text-anchor="end">0</text>
<line x1="846.6" y1="413.41" x2="839.1" y2="413.41" stroke="#000" stroke-width="2.2"/>
<text x="834.6" y="421.71" font-size="29" text-anchor="end">3</text>
<line x1="846.6" y1="373.93" x2="839.1" y2="373.93" stroke="#000" stroke-width="2.2"/>
<text x="834.6" y="382.23" font-size="29" text-anchor="end">6</text>
<line x1="846.6" y1="334.44" x2="839.1" y2="334.44" stroke="#000" stroke-width="2.2"/>
<text x="834.6" y="342.74" font-size="29" text-anchor="end">9</text>
<line x1="846.6" y1="433.16" x2="842.6" y2="433.16" stroke="#000" stroke-width="2.2"/>
<line x1="846.6" y1="393.67" x2="842.6" y2="393.67" stroke="#000" stroke-width="2.2"/>
<line x1="846.6" y1="354.19" x2="842.6" y2="354.19" stroke="#000" stroke-width="2.2"/>
<line x1="1043.2" y1="349.8" x2="1103.6" y2="349.8" stroke="#6B9CEB" stroke-width="3.2"/>
<text x="1116.7" y="358.4" font-size="26.2" text-anchor="start">TH</text>
<text x="1172" y="358.4" font-size="26.2"><tspan font-family="Liberation Serif" font-size="32" dy="1.2">τ</tspan><tspan dy="-1.2"> = 102.58 µs</tspan></text>
<rect x="846.6" y="38.0" width="499.2" height="414.9" fill="none" stroke="#000" stroke-width="2.25"/>
<line x1="846.6" y1="176.4" x2="1345.8" y2="176.4" stroke="#000" stroke-width="2.25"/>
<line x1="846.6" y1="314.7" x2="1345.8" y2="314.7" stroke="#000" stroke-width="2.25"/>
<line x1="865.8" y1="452.9" x2="865.8" y2="456.9" stroke="#000" stroke-width="2.2"/>
<line x1="923.4" y1="452.9" x2="923.4" y2="460.4" stroke="#000" stroke-width="2.2"/>
<line x1="981" y1="452.9" x2="981" y2="456.9" stroke="#000" stroke-width="2.2"/>
<line x1="1038.6" y1="452.9" x2="1038.6" y2="460.4" stroke="#000" stroke-width="2.2"/>
<line x1="1096.2" y1="452.9" x2="1096.2" y2="456.9" stroke="#000" stroke-width="2.2"/>
<line x1="1153.8" y1="452.9" x2="1153.8" y2="460.4" stroke="#000" stroke-width="2.2"/>
<line x1="1211.4" y1="452.9" x2="1211.4" y2="456.9" stroke="#000" stroke-width="2.2"/>
<line x1="1269" y1="452.9" x2="1269" y2="460.4" stroke="#000" stroke-width="2.2"/>
<line x1="1326.6" y1="452.9" x2="1326.6" y2="456.9" stroke="#000" stroke-width="2.2"/>
<text x="923.4" y="488.4" font-size="29" text-anchor="middle">150</text>
<text x="1038.6" y="488.4" font-size="29" text-anchor="middle">300</text>
<text x="1153.8" y="488.4" font-size="29" text-anchor="middle">450</text>
<text x="1269" y="488.4" font-size="29" text-anchor="middle">600</text>
<text x="1096.5" y="523.1" font-size="31" text-anchor="middle">Time (µs)</text>
<text transform="translate(789.2,341.6) rotate(-90)" font-size="30.8">ΔO.D. × 10<tspan font-size="21.5" dy="-12.4">-3</tspan></text>
<defs><linearGradient id="gv" x1="0" y1="0" x2="0" y2="1"><stop offset="0" stop-color="#D2F3CB"/><stop offset="1" stop-color="#FFFFFF"/></linearGradient>
<linearGradient id="ga" x1="0" y1="0" x2="0" y2="1"><stop offset="0" stop-color="#B4B9E0"/><stop offset="1" stop-color="#FCFCFE"/></linearGradient>
<linearGradient id="glv" x1="0" y1="0" x2="0" y2="1"><stop offset="0" stop-color="#D0F2C8"/><stop offset="1" stop-color="#FBFEFA"/></linearGradient>
<linearGradient id="gla" x1="0" y1="0" x2="0" y2="1"><stop offset="0" stop-color="#C2C6E6"/><stop offset="1" stop-color="#FAFAFD"/></linearGradient></defs>
<path d="M96.44,961.9 L96.44,934.24 L97.53,934.24 L98.61,934.24 L99.7,934.24 L100.79,934.24 L101.88,934.24 L102.96,934.24 L104.05,934.24 L105.14,934.24 L106.23,934.24 L107.31,934.24 L108.4,934.24 L109.49,934.24 L110.58,934.24 L111.66,934.25 L112.75,934.29 L113.84,934.34 L114.93,934.41 L116.01,934.5 L117.1,934.59 L118.19,934.68 L119.28,934.78 L120.36,934.87 L121.45,934.96 L122.54,935.03 L123.62,935.09 L124.71,935.13 L125.8,935.16 L126.89,935.13 L127.97,935.02 L129.06,934.84 L130.15,934.59 L131.24,934.3 L132.32,933.97 L133.41,933.62 L134.5,933.26 L135.59,932.92 L136.68,932.59 L137.76,932.3 L138.85,932.01 L139.94,931.67 L141.03,931.32 L142.11,930.96 L143.2,930.61 L144.29,930.29 L145.38,930 L146.46,929.77 L147.55,929.61 L148.64,929.54 L149.72,929.55 L150.81,929.56 L151.9,929.58 L152.99,929.62 L154.07,929.66 L155.16,929.71 L156.25,929.77 L157.34,929.83 L158.43,929.9 L159.51,929.97 L160.6,930.05 L161.69,930.13 L162.78,930.21 L163.86,930.29 L164.95,930.37 L166.04,930.45 L167.12,930.53 L168.21,930.61 L169.3,930.7 L170.39,930.81 L171.47,930.92 L172.56,931.04 L173.65,931.17 L174.74,931.3 L175.82,931.43 L176.91,931.57 L178,931.71 L179.09,931.85 L180.18,931.98 L181.26,932.12 L182.35,932.25 L183.44,932.37 L184.53,932.48 L185.61,932.59 L186.7,932.68 L187.79,932.77 L188.88,932.84 L189.96,932.9 L191.05,932.97 L192.14,933.04 L193.22,933.11 L194.31,933.18 L195.4,933.24 L196.49,933.31 L197.57,933.37 L198.66,933.42 L199.75,933.48 L200.84,933.53 L201.93,933.57 L203.01,933.61 L204.1,933.65 L205.19,933.68 L206.28,933.7 L207.36,933.72 L208.45,933.73 L209.54,933.73 L210.62,933.72 L211.71,933.7 L212.8,933.68 L213.89,933.65 L214.97,933.61 L216.06,933.57 L217.15,933.52 L218.24,933.42 L219.32,933.24 L220.41,933 L221.5,932.75 L222.59,932.5 L223.68,932.28 L224.76,932.06 L225.85,931.84 L226.94,931.6 L228.03,931.33 L229.11,931.01 L230.2,930.63 L231.29,930.15 L232.38,929.46 L233.46,928.56 L234.55,927.51 L235.64,926.33 L236.72,925.06 L237.81,923.68 L238.9,922 L239.99,920.07 L241.07,917.98 L242.16,915.8 L243.25,913.6 L244.34,911.27 L245.43,908.75 L246.51,905.96 L247.6,902.83 L248.69,899.3 L249.77,895.35 L250.86,890.74 L251.95,885.51 L253.04,880.07 L254.12,874.54 L255.21,868.78 L256.3,862.87 L257.39,856.87 L258.48,850.72 L259.56,844.35 L260.65,837.65 L261.74,830.67 L262.82,823.63 L263.91,816.53 L265,809.3 L266.09,801.95 L267.18,794.54 L268.26,787.01 L269.35,779.33 L270.44,771.47 L271.52,763.26 L272.61,754.84 L273.7,746.44 L274.79,738.27 L275.88,730.06 L276.96,721.96 L278.05,714.31 L279.14,707.41 L280.23,701.09 L281.31,695.17 L282.4,689.56 L283.49,684.17 L284.57,679.05 L285.66,674.16 L286.75,669.46 L287.84,664.84 L288.93,660.22 L290.01,655.81 L291.1,651.86 L292.19,648.44 L293.27,645.04 L294.36,641.93 L295.45,639.43 L296.54,637.9 L297.62,637.12 L298.71,636.46 L299.8,635.96 L300.89,635.65 L301.98,635.58 L303.06,636.03 L304.15,637 L305.24,638.33 L306.32,639.89 L307.41,641.52 L308.5,643.23 L309.59,645.35 L310.67,647.8 L311.76,650.43 L312.85,653.12 L313.94,655.92 L315.02,658.91 L316.11,662.05 L317.2,665.3 L318.29,668.62 L319.38,672.07 L320.46,675.64 L321.55,679.31 L322.64,683.05 L323.73,686.85 L324.81,690.72 L325.9,694.68 L326.99,698.72 L328.07,702.83 L329.16,707.04 L330.25,711.36 L331.34,715.76 L332.42,720.16 L333.51,724.52 L334.6,728.75 L335.69,732.92 L336.77,737.19 L337.86,741.69 L338.95,746.65 L340.04,752.36 L341.12,758.25 L342.21,763.6 L343.3,767.99 L344.39,771.89 L345.48,775.48 L346.56,778.9 L347.65,782.3 L348.74,785.82 L349.82,789.46 L350.91,793.1 L352,796.74 L353.09,800.33 L354.17,803.87 L355.26,807.33 L356.35,810.73 L357.44,814.09 L358.52,817.39 L359.61,820.63 L360.7,823.78 L361.79,826.84 L362.88,829.83 L363.96,832.76 L365.05,835.61 L366.14,838.41 L367.23,841.15 L368.31,843.83 L369.4,846.42 L370.49,848.96 L371.57,851.46 L372.66,853.95 L373.75,856.46 L374.84,859 L375.92,861.57 L377.01,864.15 L378.1,866.71 L379.19,869.23 L380.27,871.66 L381.36,874 L382.45,876.21 L383.54,878.34 L384.62,880.39 L385.71,882.39 L386.8,884.34 L387.89,886.25 L388.98,888.13 L390.06,889.98 L391.15,891.82 L392.24,893.65 L393.32,895.49 L394.41,897.32 L395.5,899.15 L396.59,900.96 L397.67,902.75 L398.76,904.5 L399.85,906.2 L400.94,907.85 L402.02,909.44 L403.11,910.96 L404.2,912.41 L405.29,913.83 L406.38,915.2 L407.46,916.54 L408.55,917.84 L409.64,919.1 L410.73,920.35 L411.81,921.56 L412.9,922.76 L413.99,923.94 L415.07,925.11 L416.16,926.26 L417.25,927.39 L418.34,928.5 L419.42,929.59 L420.51,930.63 L421.6,931.64 L422.69,932.61 L423.77,933.52 L424.86,934.4 L425.95,935.25 L427.04,936.08 L428.12,936.87 L429.21,937.64 L430.3,938.38 L431.39,939.1 L432.47,939.79 L433.56,940.45 L434.65,941.08 L435.74,941.69 L436.82,942.28 L437.91,942.84 L439,943.39 L440.09,943.92 L441.17,944.44 L442.26,944.94 L443.35,945.44 L444.44,945.93 L445.52,946.41 L446.61,946.89 L447.7,947.36 L448.79,947.83 L449.88,948.28 L450.96,948.72 L452.05,949.14 L453.14,949.55 L454.22,949.94 L455.31,950.31 L456.4,950.67 L457.49,951.03 L458.57,951.38 L459.66,951.72 L460.75,952.06 L461.84,952.38 L462.92,952.7 L464.01,953 L465.1,953.3 L466.19,953.58 L467.27,953.84 L468.36,954.1 L469.45,954.34 L470.54,954.56 L471.62,954.78 L472.71,954.99 L473.8,955.2 L474.89,955.41 L475.97,955.61 L477.06,955.81 L478.15,956.01 L479.24,956.19 L480.32,956.38 L481.41,956.56 L482.5,956.73 L483.59,956.9 L484.67,957.06 L485.76,957.22 L486.85,957.37 L487.94,957.52 L489.02,957.66 L490.11,957.79 L491.2,957.92 L492.29,958.04 L493.38,958.15 L494.46,958.26 L495.55,958.36 L496.64,958.45 L497.72,958.55 L498.81,958.64 L499.9,958.73 L500.99,958.82 L502.07,958.91 L503.16,959 L504.25,959.08 L505.34,959.16 L506.42,959.24 L507.51,959.32 L508.6,959.39 L509.69,959.47 L510.77,959.54 L511.86,959.61 L512.95,959.68 L514.04,959.74 L515.12,959.8 L516.21,959.86 L517.3,959.92 L518.39,959.98 L519.47,960.03 L520.56,960.08 L521.65,960.13 L522.74,960.18 L523.83,960.22 L524.91,960.26 L526,960.3 L527.09,960.34 L528.17,960.37 L529.26,960.4 L530.35,960.43 L531.44,960.46 L532.52,960.49 L533.61,960.53 L534.7,960.56 L535.79,960.59 L536.88,960.61 L537.96,960.64 L539.05,960.67 L540.14,960.7 L541.22,960.73 L542.31,960.75 L543.4,960.78 L544.49,960.81 L545.58,960.83 L546.66,960.85 L547.75,960.88 L548.84,960.9 L549.92,960.92 L551.01,960.94 L552.1,960.96 L553.19,960.97 L554.27,960.99 L555.36,961.01 L556.45,961.02 L557.54,961.03 L558.62,961.04 L559.71,961.05 L560.8,961.06 L561.89,961.07 L562.97,961.08 L564.06,961.08 L565.15,961.08 L566.24,961.08 L566.24,961.9 Z" fill="url(#gv)" stroke="none"/>
<path d="M96.44,961.9 L96.44,939.44 L97.53,939.06 L98.61,938.69 L99.7,938.32 L100.79,937.96 L101.88,937.61 L102.96,937.27 L104.05,936.93 L105.14,936.61 L106.23,936.3 L107.31,935.99 L108.4,935.7 L109.49,935.42 L110.58,935.16 L111.66,934.9 L112.75,934.63 L113.84,934.38 L114.93,934.12 L116.01,933.87 L117.1,933.63 L118.19,933.4 L119.28,933.17 L120.36,932.96 L121.45,932.76 L122.54,932.58 L123.62,932.41 L124.71,932.26 L125.8,932.13 L126.89,932.02 L127.97,931.9 L129.06,931.79 L130.15,931.68 L131.24,931.58 L132.32,931.48 L133.41,931.37 L134.5,931.28 L135.59,931.19 L136.68,931.1 L137.76,931.01 L138.85,930.94 L139.94,930.86 L141.03,930.8 L142.11,930.74 L143.2,930.69 L144.29,930.65 L145.38,930.61 L146.46,930.59 L147.55,930.57 L148.64,930.56 L149.72,930.57 L150.81,930.58 L151.9,930.6 L152.99,930.63 L154.07,930.67 L155.16,930.72 L156.25,930.77 L157.34,930.83 L158.43,930.9 L159.51,930.97 L160.6,931.04 L161.69,931.12 L162.78,931.2 L163.86,931.29 L164.95,931.37 L166.04,931.46 L167.12,931.55 L168.21,931.64 L169.3,931.75 L170.39,931.88 L171.47,932.02 L172.56,932.17 L173.65,932.34 L174.74,932.51 L175.82,932.69 L176.91,932.88 L178,933.07 L179.09,933.25 L180.18,933.44 L181.26,933.62 L182.35,933.8 L183.44,933.96 L184.53,934.14 L185.61,934.32 L186.7,934.51 L187.79,934.7 L188.88,934.9 L189.96,935.09 L191.05,935.28 L192.14,935.46 L193.22,935.64 L194.31,935.8 L195.4,935.95 L196.49,936.08 L197.57,936.19 L198.66,936.28 L199.75,936.36 L200.84,936.43 L201.93,936.5 L203.01,936.57 L204.1,936.64 L205.19,936.7 L206.28,936.76 L207.36,936.82 L208.45,936.86 L209.54,936.91 L210.62,936.94 L211.71,936.97 L212.8,936.98 L213.89,936.99 L214.97,936.99 L216.06,936.99 L217.15,936.98 L218.24,936.98 L219.32,936.97 L220.41,936.96 L221.5,936.95 L222.59,936.94 L223.68,936.93 L224.76,936.92 L225.85,936.91 L226.94,936.9 L228.03,936.9 L229.11,936.89 L230.2,936.89 L231.29,936.89 L232.38,936.89 L233.46,936.89 L234.55,936.89 L235.64,936.89 L236.72,936.89 L237.81,936.89 L238.9,936.89 L239.99,936.89 L241.07,936.89 L242.16,936.89 L243.25,936.89 L244.34,936.89 L245.43,936.89 L246.51,936.89 L247.6,936.89 L248.69,936.89 L249.77,936.89 L250.86,936.89 L251.95,936.89 L253.04,936.89 L254.12,936.89 L255.21,936.9 L256.3,936.92 L257.39,936.95 L258.48,936.98 L259.56,937.03 L260.65,937.08 L261.74,937.13 L262.82,937.19 L263.91,937.26 L265,937.33 L266.09,937.41 L267.18,937.48 L268.26,937.56 L269.35,937.65 L270.44,937.73 L271.52,937.81 L272.61,937.9 L273.7,938 L274.79,938.12 L275.88,938.24 L276.96,938.38 L278.05,938.52 L279.14,938.67 L280.23,938.83 L281.31,939 L282.4,939.18 L283.49,939.36 L284.57,939.54 L285.66,939.73 L286.75,939.92 L287.84,940.11 L288.93,940.3 L290.01,940.5 L291.1,940.71 L292.19,940.93 L293.27,941.16 L294.36,941.4 L295.45,941.64 L296.54,941.9 L297.62,942.16 L298.71,942.43 L299.8,942.7 L300.89,942.97 L301.98,943.25 L303.06,943.52 L304.15,943.8 L305.24,944.08 L306.32,944.36 L307.41,944.63 L308.5,944.91 L309.59,945.2 L310.67,945.49 L311.76,945.78 L312.85,946.09 L313.94,946.39 L315.02,946.69 L316.11,947 L317.2,947.3 L318.29,947.61 L319.38,947.91 L320.46,948.21 L321.55,948.5 L322.64,948.79 L323.73,949.07 L324.81,949.34 L325.9,949.61 L326.99,949.88 L328.07,950.15 L329.16,950.42 L330.25,950.68 L331.34,950.94 L332.42,951.2 L333.51,951.46 L334.6,951.71 L335.69,951.96 L336.77,952.2 L337.86,952.44 L338.95,952.68 L340.04,952.9 L341.12,953.13 L342.21,953.34 L343.3,953.55 L344.39,953.76 L345.48,953.96 L346.56,954.16 L347.65,954.36 L348.74,954.56 L349.82,954.75 L350.91,954.93 L352,955.12 L353.09,955.29 L354.17,955.47 L355.26,955.64 L356.35,955.81 L357.44,955.97 L358.52,956.13 L359.61,956.28 L360.7,956.43 L361.79,956.58 L362.88,956.72 L363.96,956.86 L365.05,957 L366.14,957.13 L367.23,957.26 L368.31,957.39 L369.4,957.51 L370.49,957.64 L371.57,957.76 L372.66,957.87 L373.75,957.99 L374.84,958.1 L375.92,958.21 L377.01,958.32 L378.1,958.43 L379.19,958.54 L380.27,958.64 L381.36,958.75 L382.45,958.86 L383.54,958.96 L384.62,959.06 L385.71,959.16 L386.8,959.24 L387.89,959.32 L388.98,959.39 L390.06,959.45 L391.15,959.5 L392.24,959.55 L393.32,959.6 L394.41,959.65 L395.5,959.7 L396.59,959.74 L397.67,959.79 L398.76,959.83 L399.85,959.87 L400.94,959.91 L402.02,959.95 L403.11,959.99 L404.2,960.03 L405.29,960.06 L406.38,960.1 L407.46,960.13 L408.55,960.16 L409.64,960.2 L410.73,960.23 L411.81,960.26 L412.9,960.28 L413.99,960.31 L415.07,960.34 L416.16,960.36 L417.25,960.39 L418.34,960.41 L419.42,960.43 L420.51,960.45 L421.6,960.47 L422.69,960.49 L423.77,960.51 L424.86,960.53 L425.95,960.54 L427.04,960.56 L428.12,960.57 L429.21,960.59 L430.3,960.6 L431.39,960.61 L432.47,960.62 L433.56,960.64 L434.65,960.65 L435.74,960.66 L436.82,960.67 L437.91,960.68 L439,960.69 L440.09,960.7 L441.17,960.71 L442.26,960.72 L443.35,960.73 L444.44,960.74 L445.52,960.75 L446.61,960.76 L447.7,960.77 L448.79,960.78 L449.88,960.79 L450.96,960.8 L452.05,960.8 L453.14,960.81 L454.22,960.82 L455.31,960.83 L456.4,960.83 L457.49,960.84 L458.57,960.85 L459.66,960.86 L460.75,960.86 L461.84,960.87 L462.92,960.88 L464.01,960.88 L465.1,960.89 L466.19,960.9 L467.27,960.9 L468.36,960.91 L469.45,960.91 L470.54,960.92 L471.62,960.93 L472.71,960.93 L473.8,960.94 L474.89,960.94 L475.97,960.95 L477.06,960.95 L478.15,960.96 L479.24,960.96 L480.32,960.97 L481.41,960.98 L482.5,960.98 L483.59,960.99 L484.67,960.99 L485.76,961 L486.85,961 L487.94,961.01 L489.02,961.01 L490.11,961.02 L491.2,961.02 L492.29,961.03 L493.38,961.04 L494.46,961.04 L495.55,961.05 L496.64,961.05 L497.72,961.06 L498.81,961.06 L499.9,961.07 L500.99,961.07 L502.07,961.08 L503.16,961.08 L504.25,961.09 L505.34,961.09 L506.42,961.1 L507.51,961.1 L508.6,961.11 L509.69,961.11 L510.77,961.12 L511.86,961.12 L512.95,961.13 L514.04,961.13 L515.12,961.14 L516.21,961.14 L517.3,961.14 L518.39,961.15 L519.47,961.15 L520.56,961.16 L521.65,961.16 L522.74,961.17 L523.83,961.17 L524.91,961.18 L526,961.18 L527.09,961.18 L528.17,961.19 L529.26,961.19 L530.35,961.2 L531.44,961.2 L532.52,961.2 L533.61,961.21 L534.7,961.21 L535.79,961.21 L536.88,961.22 L537.96,961.22 L539.05,961.23 L540.14,961.23 L541.22,961.23 L542.31,961.24 L543.4,961.24 L544.49,961.24 L545.58,961.24 L546.66,961.25 L547.75,961.25 L548.84,961.25 L549.92,961.26 L551.01,961.26 L552.1,961.26 L553.19,961.26 L554.27,961.27 L555.36,961.27 L556.45,961.27 L557.54,961.27 L558.62,961.28 L559.71,961.28 L560.8,961.28 L561.89,961.28 L562.97,961.28 L564.06,961.28 L565.15,961.29 L566.24,961.29 L566.24,961.9 Z" fill="url(#ga)" stroke="none"/>
<path d="M96.44,934.24 L97.53,934.24 L98.61,934.24 L99.7,934.24 L100.79,934.24 L101.88,934.24 L102.96,934.24 L104.05,934.24 L105.14,934.24 L106.23,934.24 L107.31,934.24 L108.4,934.24 L109.49,934.24 L110.58,934.24 L111.66,934.25 L112.75,934.29 L113.84,934.34 L114.93,934.41 L116.01,934.5 L117.1,934.59 L118.19,934.68 L119.28,934.78 L120.36,934.87 L121.45,934.96 L122.54,935.03 L123.62,935.09 L124.71,935.13 L125.8,935.16 L126.89,935.13 L127.97,935.02 L129.06,934.84 L130.15,934.59 L131.24,934.3 L132.32,933.97 L133.41,933.62 L134.5,933.26 L135.59,932.92 L136.68,932.59 L137.76,932.3 L138.85,932.01 L139.94,931.67 L141.03,931.32 L142.11,930.96 L143.2,930.61 L144.29,930.29 L145.38,930 L146.46,929.77 L147.55,929.61 L148.64,929.54 L149.72,929.55 L150.81,929.56 L151.9,929.58 L152.99,929.62 L154.07,929.66 L155.16,929.71 L156.25,929.77 L157.34,929.83 L158.43,929.9 L159.51,929.97 L160.6,930.05 L161.69,930.13 L162.78,930.21 L163.86,930.29 L164.95,930.37 L166.04,930.45 L167.12,930.53 L168.21,930.61 L169.3,930.7 L170.39,930.81 L171.47,930.92 L172.56,931.04 L173.65,931.17 L174.74,931.3 L175.82,931.43 L176.91,931.57 L178,931.71 L179.09,931.85 L180.18,931.98 L181.26,932.12 L182.35,932.25 L183.44,932.37 L184.53,932.48 L185.61,932.59 L186.7,932.68 L187.79,932.77 L188.88,932.84 L189.96,932.9 L191.05,932.97 L192.14,933.04 L193.22,933.11 L194.31,933.18 L195.4,933.24 L196.49,933.31 L197.57,933.37 L198.66,933.42 L199.75,933.48 L200.84,933.53 L201.93,933.57 L203.01,933.61 L204.1,933.65 L205.19,933.68 L206.28,933.7 L207.36,933.72 L208.45,933.73 L209.54,933.73 L210.62,933.72 L211.71,933.7 L212.8,933.68 L213.89,933.65 L214.97,933.61 L216.06,933.57 L217.15,933.52 L218.24,933.42 L219.32,933.24 L220.41,933 L221.5,932.75 L222.59,932.5 L223.68,932.28 L224.76,932.06 L225.85,931.84 L226.94,931.6 L228.03,931.33 L229.11,931.01 L230.2,930.63 L231.29,930.15 L232.38,929.46 L233.46,928.56 L234.55,927.51 L235.64,926.33 L236.72,925.06 L237.81,923.68 L238.9,922 L239.99,920.07 L241.07,917.98 L242.16,915.8 L243.25,913.6 L244.34,911.27 L245.43,908.75 L246.51,905.96 L247.6,902.83 L248.69,899.3 L249.77,895.35 L250.86,890.74 L251.95,885.51 L253.04,880.07 L254.12,874.54 L255.21,868.78 L256.3,862.87 L257.39,856.87 L258.48,850.72 L259.56,844.35 L260.65,837.65 L261.74,830.67 L262.82,823.63 L263.91,816.53 L265,809.3 L266.09,801.95 L267.18,794.54 L268.26,787.01 L269.35,779.33 L270.44,771.47 L271.52,763.26 L272.61,754.84 L273.7,746.44 L274.79,738.27 L275.88,730.06 L276.96,721.96 L278.05,714.31 L279.14,707.41 L280.23,701.09 L281.31,695.17 L282.4,689.56 L283.49,684.17 L284.57,679.05 L285.66,674.16 L286.75,669.46 L287.84,664.84 L288.93,660.22 L290.01,655.81 L291.1,651.86 L292.19,648.44 L293.27,645.04 L294.36,641.93 L295.45,639.43 L296.54,637.9 L297.62,637.12 L298.71,636.46 L299.8,635.96 L300.89,635.65 L301.98,635.58 L303.06,636.03 L304.15,637 L305.24,638.33 L306.32,639.89 L307.41,641.52 L308.5,643.23 L309.59,645.35 L310.67,647.8 L311.76,650.43 L312.85,653.12 L313.94,655.92 L315.02,658.91 L316.11,662.05 L317.2,665.3 L318.29,668.62 L319.38,672.07 L320.46,675.64 L321.55,679.31 L322.64,683.05 L323.73,686.85 L324.81,690.72 L325.9,694.68 L326.99,698.72 L328.07,702.83 L329.16,707.04 L330.25,711.36 L331.34,715.76 L332.42,720.16 L333.51,724.52 L334.6,728.75 L335.69,732.92 L336.77,737.19 L337.86,741.69 L338.95,746.65 L340.04,752.36 L341.12,758.25 L342.21,763.6 L343.3,767.99 L344.39,771.89 L345.48,775.48 L346.56,778.9 L347.65,782.3 L348.74,785.82 L349.82,789.46 L350.91,793.1 L352,796.74 L353.09,800.33 L354.17,803.87 L355.26,807.33 L356.35,810.73 L357.44,814.09 L358.52,817.39 L359.61,820.63 L360.7,823.78 L361.79,826.84 L362.88,829.83 L363.96,832.76 L365.05,835.61 L366.14,838.41 L367.23,841.15 L368.31,843.83 L369.4,846.42 L370.49,848.96 L371.57,851.46 L372.66,853.95 L373.75,856.46 L374.84,859 L375.92,861.57 L377.01,864.15 L378.1,866.71 L379.19,869.23 L380.27,871.66 L381.36,874 L382.45,876.21 L383.54,878.34 L384.62,880.39 L385.71,882.39 L386.8,884.34 L387.89,886.25 L388.98,888.13 L390.06,889.98 L391.15,891.82 L392.24,893.65 L393.32,895.49 L394.41,897.32 L395.5,899.15 L396.59,900.96 L397.67,902.75 L398.76,904.5 L399.85,906.2 L400.94,907.85 L402.02,909.44 L403.11,910.96 L404.2,912.41 L405.29,913.83 L406.38,915.2 L407.46,916.54 L408.55,917.84 L409.64,919.1 L410.73,920.35 L411.81,921.56 L412.9,922.76 L413.99,923.94 L415.07,925.11 L416.16,926.26 L417.25,927.39 L418.34,928.5 L419.42,929.59 L420.51,930.63 L421.6,931.64 L422.69,932.61 L423.77,933.52 L424.86,934.4 L425.95,935.25 L427.04,936.08 L428.12,936.87 L429.21,937.64 L430.3,938.38 L431.39,939.1 L432.47,939.79 L433.56,940.45 L434.65,941.08 L435.74,941.69 L436.82,942.28 L437.91,942.84 L439,943.39 L440.09,943.92 L441.17,944.44 L442.26,944.94 L443.35,945.44 L444.44,945.93 L445.52,946.41 L446.61,946.89 L447.7,947.36 L448.79,947.83 L449.88,948.28 L450.96,948.72 L452.05,949.14 L453.14,949.55 L454.22,949.94 L455.31,950.31 L456.4,950.67 L457.49,951.03 L458.57,951.38 L459.66,951.72 L460.75,952.06 L461.84,952.38 L462.92,952.7 L464.01,953 L465.1,953.3 L466.19,953.58 L467.27,953.84 L468.36,954.1 L469.45,954.34 L470.54,954.56 L471.62,954.78 L472.71,954.99 L473.8,955.2 L474.89,955.41 L475.97,955.61 L477.06,955.81 L478.15,956.01 L479.24,956.19 L480.32,956.38 L481.41,956.56 L482.5,956.73 L483.59,956.9 L484.67,957.06 L485.76,957.22 L486.85,957.37 L487.94,957.52 L489.02,957.66 L490.11,957.79 L491.2,957.92 L492.29,958.04 L493.38,958.15 L494.46,958.26 L495.55,958.36 L496.64,958.45 L497.72,958.55 L498.81,958.64 L499.9,958.73 L500.99,958.82 L502.07,958.91 L503.16,959 L504.25,959.08 L505.34,959.16 L506.42,959.24 L507.51,959.32 L508.6,959.39 L509.69,959.47 L510.77,959.54 L511.86,959.61 L512.95,959.68 L514.04,959.74 L515.12,959.8 L516.21,959.86 L517.3,959.92 L518.39,959.98 L519.47,960.03 L520.56,960.08 L521.65,960.13 L522.74,960.18 L523.83,960.22 L524.91,960.26 L526,960.3 L527.09,960.34 L528.17,960.37 L529.26,960.4 L530.35,960.43 L531.44,960.46 L532.52,960.49 L533.61,960.53 L534.7,960.56 L535.79,960.59 L536.88,960.61 L537.96,960.64 L539.05,960.67 L540.14,960.7 L541.22,960.73 L542.31,960.75 L543.4,960.78 L544.49,960.81 L545.58,960.83 L546.66,960.85 L547.75,960.88 L548.84,960.9 L549.92,960.92 L551.01,960.94 L552.1,960.96 L553.19,960.97 L554.27,960.99 L555.36,961.01 L556.45,961.02 L557.54,961.03 L558.62,961.04 L559.71,961.05 L560.8,961.06 L561.89,961.07 L562.97,961.08 L564.06,961.08 L565.15,961.08 L566.24,961.08" fill="none" stroke="#8FE27F" stroke-width="3.8" stroke-linejoin="round"/>
<path d="M96.44,939.44 L97.53,939.06 L98.61,938.69 L99.7,938.32 L100.79,937.96 L101.88,937.61 L102.96,937.27 L104.05,936.93 L105.14,936.61 L106.23,936.3 L107.31,935.99 L108.4,935.7 L109.49,935.42 L110.58,935.16 L111.66,934.9 L112.75,934.63 L113.84,934.38 L114.93,934.12 L116.01,933.87 L117.1,933.63 L118.19,933.4 L119.28,933.17 L120.36,932.96 L121.45,932.76 L122.54,932.58 L123.62,932.41 L124.71,932.26 L125.8,932.13 L126.89,932.02 L127.97,931.9 L129.06,931.79 L130.15,931.68 L131.24,931.58 L132.32,931.48 L133.41,931.37 L134.5,931.28 L135.59,931.19 L136.68,931.1 L137.76,931.01 L138.85,930.94 L139.94,930.86 L141.03,930.8 L142.11,930.74 L143.2,930.69 L144.29,930.65 L145.38,930.61 L146.46,930.59 L147.55,930.57 L148.64,930.56 L149.72,930.57 L150.81,930.58 L151.9,930.6 L152.99,930.63 L154.07,930.67 L155.16,930.72 L156.25,930.77 L157.34,930.83 L158.43,930.9 L159.51,930.97 L160.6,931.04 L161.69,931.12 L162.78,931.2 L163.86,931.29 L164.95,931.37 L166.04,931.46 L167.12,931.55 L168.21,931.64 L169.3,931.75 L170.39,931.88 L171.47,932.02 L172.56,932.17 L173.65,932.34 L174.74,932.51 L175.82,932.69 L176.91,932.88 L178,933.07 L179.09,933.25 L180.18,933.44 L181.26,933.62 L182.35,933.8 L183.44,933.96 L184.53,934.14 L185.61,934.32 L186.7,934.51 L187.79,934.7 L188.88,934.9 L189.96,935.09 L191.05,935.28 L192.14,935.46 L193.22,935.64 L194.31,935.8 L195.4,935.95 L196.49,936.08 L197.57,936.19 L198.66,936.28 L199.75,936.36 L200.84,936.43 L201.93,936.5 L203.01,936.57 L204.1,936.64 L205.19,936.7 L206.28,936.76 L207.36,936.82 L208.45,936.86 L209.54,936.91 L210.62,936.94 L211.71,936.97 L212.8,936.98 L213.89,936.99 L214.97,936.99 L216.06,936.99 L217.15,936.98 L218.24,936.98 L219.32,936.97 L220.41,936.96 L221.5,936.95 L222.59,936.94 L223.68,936.93 L224.76,936.92 L225.85,936.91 L226.94,936.9 L228.03,936.9 L229.11,936.89 L230.2,936.89 L231.29,936.89 L232.38,936.89 L233.46,936.89 L234.55,936.89 L235.64,936.89 L236.72,936.89 L237.81,936.89 L238.9,936.89 L239.99,936.89 L241.07,936.89 L242.16,936.89 L243.25,936.89 L244.34,936.89 L245.43,936.89 L246.51,936.89 L247.6,936.89 L248.69,936.89 L249.77,936.89 L250.86,936.89 L251.95,936.89 L253.04,936.89 L254.12,936.89 L255.21,936.9 L256.3,936.92 L257.39,936.95 L258.48,936.98 L259.56,937.03 L260.65,937.08 L261.74,937.13 L262.82,937.19 L263.91,937.26 L265,937.33 L266.09,937.41 L267.18,937.48 L268.26,937.56 L269.35,937.65 L270.44,937.73 L271.52,937.81 L272.61,937.9 L273.7,938 L274.79,938.12 L275.88,938.24 L276.96,938.38 L278.05,938.52 L279.14,938.67 L280.23,938.83 L281.31,939 L282.4,939.18 L283.49,939.36 L284.57,939.54 L285.66,939.73 L286.75,939.92 L287.84,940.11 L288.93,940.3 L290.01,940.5 L291.1,940.71 L292.19,940.93 L293.27,941.16 L294.36,941.4 L295.45,941.64 L296.54,941.9 L297.62,942.16 L298.71,942.43 L299.8,942.7 L300.89,942.97 L301.98,943.25 L303.06,943.52 L304.15,943.8 L305.24,944.08 L306.32,944.36 L307.41,944.63 L308.5,944.91 L309.59,945.2 L310.67,945.49 L311.76,945.78 L312.85,946.09 L313.94,946.39 L315.02,946.69 L316.11,947 L317.2,947.3 L318.29,947.61 L319.38,947.91 L320.46,948.21 L321.55,948.5 L322.64,948.79 L323.73,949.07 L324.81,949.34 L325.9,949.61 L326.99,949.88 L328.07,950.15 L329.16,950.42 L330.25,950.68 L331.34,950.94 L332.42,951.2 L333.51,951.46 L334.6,951.71 L335.69,951.96 L336.77,952.2 L337.86,952.44 L338.95,952.68 L340.04,952.9 L341.12,953.13 L342.21,953.34 L343.3,953.55 L344.39,953.76 L345.48,953.96 L346.56,954.16 L347.65,954.36 L348.74,954.56 L349.82,954.75 L350.91,954.93 L352,955.12 L353.09,955.29 L354.17,955.47 L355.26,955.64 L356.35,955.81 L357.44,955.97 L358.52,956.13 L359.61,956.28 L360.7,956.43 L361.79,956.58 L362.88,956.72 L363.96,956.86 L365.05,957 L366.14,957.13 L367.23,957.26 L368.31,957.39 L369.4,957.51 L370.49,957.64 L371.57,957.76 L372.66,957.87 L373.75,957.99 L374.84,958.1 L375.92,958.21 L377.01,958.32 L378.1,958.43 L379.19,958.54 L380.27,958.64 L381.36,958.75 L382.45,958.86 L383.54,958.96 L384.62,959.06 L385.71,959.16 L386.8,959.24 L387.89,959.32 L388.98,959.39 L390.06,959.45 L391.15,959.5 L392.24,959.55 L393.32,959.6 L394.41,959.65 L395.5,959.7 L396.59,959.74 L397.67,959.79 L398.76,959.83 L399.85,959.87 L400.94,959.91 L402.02,959.95 L403.11,959.99 L404.2,960.03 L405.29,960.06 L406.38,960.1 L407.46,960.13 L408.55,960.16 L409.64,960.2 L410.73,960.23 L411.81,960.26 L412.9,960.28 L413.99,960.31 L415.07,960.34 L416.16,960.36 L417.25,960.39 L418.34,960.41 L419.42,960.43 L420.51,960.45 L421.6,960.47 L422.69,960.49 L423.77,960.51 L424.86,960.53 L425.95,960.54 L427.04,960.56 L428.12,960.57 L429.21,960.59 L430.3,960.6 L431.39,960.61 L432.47,960.62 L433.56,960.64 L434.65,960.65 L435.74,960.66 L436.82,960.67 L437.91,960.68 L439,960.69 L440.09,960.7 L441.17,960.71 L442.26,960.72 L443.35,960.73 L444.44,960.74 L445.52,960.75 L446.61,960.76 L447.7,960.77 L448.79,960.78 L449.88,960.79 L450.96,960.8 L452.05,960.8 L453.14,960.81 L454.22,960.82 L455.31,960.83 L456.4,960.83 L457.49,960.84 L458.57,960.85 L459.66,960.86 L460.75,960.86 L461.84,960.87 L462.92,960.88 L464.01,960.88 L465.1,960.89 L466.19,960.9 L467.27,960.9 L468.36,960.91 L469.45,960.91 L470.54,960.92 L471.62,960.93 L472.71,960.93 L473.8,960.94 L474.89,960.94 L475.97,960.95 L477.06,960.95 L478.15,960.96 L479.24,960.96 L480.32,960.97 L481.41,960.98 L482.5,960.98 L483.59,960.99 L484.67,960.99 L485.76,961 L486.85,961 L487.94,961.01 L489.02,961.01 L490.11,961.02 L491.2,961.02 L492.29,961.03 L493.38,961.04 L494.46,961.04 L495.55,961.05 L496.64,961.05 L497.72,961.06 L498.81,961.06 L499.9,961.07 L500.99,961.07 L502.07,961.08 L503.16,961.08 L504.25,961.09 L505.34,961.09 L506.42,961.1 L507.51,961.1 L508.6,961.11 L509.69,961.11 L510.77,961.12 L511.86,961.12 L512.95,961.13 L514.04,961.13 L515.12,961.14 L516.21,961.14 L517.3,961.14 L518.39,961.15 L519.47,961.15 L520.56,961.16 L521.65,961.16 L522.74,961.17 L523.83,961.17 L524.91,961.18 L526,961.18 L527.09,961.18 L528.17,961.19 L529.26,961.19 L530.35,961.2 L531.44,961.2 L532.52,961.2 L533.61,961.21 L534.7,961.21 L535.79,961.21 L536.88,961.22 L537.96,961.22 L539.05,961.23 L540.14,961.23 L541.22,961.23 L542.31,961.24 L543.4,961.24 L544.49,961.24 L545.58,961.24 L546.66,961.25 L547.75,961.25 L548.84,961.25 L549.92,961.26 L551.01,961.26 L552.1,961.26 L553.19,961.26 L554.27,961.27 L555.36,961.27 L556.45,961.27 L557.54,961.27 L558.62,961.28 L559.71,961.28 L560.8,961.28 L561.89,961.28 L562.97,961.28 L564.06,961.28 L565.15,961.29 L566.24,961.29" fill="none" stroke="#6D79C7" stroke-width="3.8" stroke-linejoin="round"/>
<rect x="96.5" y="553.6" width="517.1" height="408.3" fill="none" stroke="#000" stroke-width="2.25"/>
<line x1="123.62" y1="961.9" x2="123.62" y2="965.9" stroke="#000" stroke-width="2.2"/>
<line x1="178" y1="961.9" x2="178" y2="969.4" stroke="#000" stroke-width="2.2"/>
<line x1="232.38" y1="961.9" x2="232.38" y2="965.9" stroke="#000" stroke-width="2.2"/>
<line x1="286.75" y1="961.9" x2="286.75" y2="969.4" stroke="#000" stroke-width="2.2"/>
<line x1="341.12" y1="961.9" x2="341.12" y2="965.9" stroke="#000" stroke-width="2.2"/>
<line x1="395.5" y1="961.9" x2="395.5" y2="969.4" stroke="#000" stroke-width="2.2"/>
<line x1="449.88" y1="961.9" x2="449.88" y2="965.9" stroke="#000" stroke-width="2.2"/>
<line x1="504.25" y1="961.9" x2="504.25" y2="969.4" stroke="#000" stroke-width="2.2"/>
<line x1="558.62" y1="961.9" x2="558.62" y2="965.9" stroke="#000" stroke-width="2.2"/>
<line x1="613" y1="961.9" x2="613" y2="969.4" stroke="#000" stroke-width="2.2"/>
<text x="178" y="1003" font-size="34" text-anchor="middle">500</text>
<text x="286.75" y="1003" font-size="34" text-anchor="middle">600</text>
<text x="395.5" y="1003" font-size="34" text-anchor="middle">700</text>
<text x="504.25" y="1003" font-size="34" text-anchor="middle">800</text>
<text x="613" y="1003" font-size="34" text-anchor="middle">900</text>
<line x1="96.5" y1="961.9" x2="89" y2="961.9" stroke="#000" stroke-width="2.2"/>
<line x1="96.5" y1="910.86" x2="92.5" y2="910.86" stroke="#000" stroke-width="2.2"/>
<line x1="96.5" y1="859.83" x2="89" y2="859.83" stroke="#000" stroke-width="2.2"/>
<line x1="96.5" y1="808.79" x2="92.5" y2="808.79" stroke="#000" stroke-width="2.2"/>
<line x1="96.5" y1="757.75" x2="89" y2="757.75" stroke="#000" stroke-width="2.2"/>
<line x1="96.5" y1="706.71" x2="92.5" y2="706.71" stroke="#000" stroke-width="2.2"/>
<line x1="96.5" y1="655.67" x2="89" y2="655.67" stroke="#000" stroke-width="2.2"/>
<line x1="96.5" y1="604.64" x2="92.5" y2="604.64" stroke="#000" stroke-width="2.2"/>
<line x1="96.5" y1="553.6" x2="89" y2="553.6" stroke="#000" stroke-width="2.2"/>
<text x="82" y="971.7" font-size="34" text-anchor="end">0</text>
<text x="82" y="869.62" font-size="34" text-anchor="end">1</text>
<text x="82" y="767.55" font-size="34" text-anchor="end">2</text>
<text x="82" y="665.47" font-size="34" text-anchor="end">3</text>
<text x="82" y="563.4" font-size="34" text-anchor="end">4</text>
<text x="218.6" y="1046.5" font-size="36" text-anchor="start">Wavelength (nm)</text>
<text transform="translate(34.5,919.9) rotate(-90)" font-size="35.8">Intensity (× 10<tspan font-size="22.5" dy="-15.4">4</tspan><tspan dy="15.4"> a.u.)</tspan></text>
<text x="408.1" y="608.3" font-size="30" text-anchor="start">TPy@PS</text>
<rect x="408.6" y="618.8" width="65.5" height="31.2" fill="url(#glv)" stroke="#B5EDAA" stroke-width="3"/>
<rect x="408.6" y="655.4" width="65.5" height="32.1" fill="url(#gla)" stroke="#A9AEDC" stroke-width="3"/>
<text x="483.6" y="644.6" font-size="30.3" text-anchor="start">Vacuum</text>
<text x="483.6" y="681.6" font-size="30" text-anchor="start">Air</text>
<text x="1092.9" y="580" font-size="33.5" text-anchor="middle">Phosphorescence efficiency</text>
<rect x="857.8" y="613.2" width="258.4" height="82" fill="#AACAF3"/>
<rect x="1126" y="613.2" width="212.7" height="82" fill="#AACAF3"/>
<rect x="857.8" y="705.0" width="258.4" height="83.1" fill="#E9EEF6"/>
<rect x="1126" y="705.0" width="212.7" height="83.1" fill="#E9EEF6"/>
<text x="987" y="758.7" font-size="31" text-anchor="middle">TP@PS</text>
<text x="1232.4" y="758.7" font-size="31" text-anchor="middle">Trace</text>
<rect x="857.8" y="798.3" width="258.4" height="83.1" fill="#E9EEF6"/>
<rect x="1126" y="798.3" width="212.7" height="83.1" fill="#E9EEF6"/>
<text x="987" y="851.2" font-size="31" text-anchor="middle">TPy@PS</text>
<text x="1232.4" y="851.2" font-size="31" text-anchor="middle">14.84</text>
<rect x="857.8" y="891.7" width="258.4" height="83.1" fill="#E9EEF6"/>
<rect x="1126" y="891.7" width="212.7" height="83.1" fill="#E9EEF6"/>
<text x="987" y="944.5" font-size="31" text-anchor="middle">TH@PS</text>
<text x="1232.4" y="944.5" font-size="31" text-anchor="middle">7.32</text>
<text x="987" y="647.2" font-size="31" text-anchor="middle">Guests</text>
<text x="987" y="685" font-size="31" text-anchor="middle">@PS</text>
<text x="1232.4" y="647.2" font-size="31" text-anchor="middle">Quantum</text>
<text x="1236.8" y="685" font-size="31" text-anchor="middle">yield (%)</text>
</svg></body></html>
